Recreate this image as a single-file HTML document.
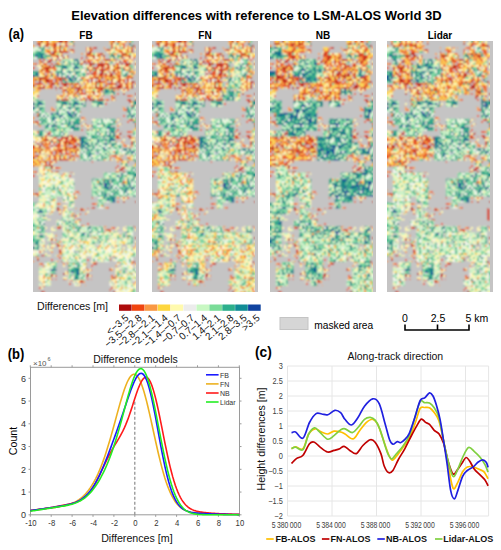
<!DOCTYPE html>
<html><head><meta charset="utf-8"><title>Elevation differences</title>
<style>html,body{margin:0;padding:0;background:#fff;width:501px;height:550px;overflow:hidden}svg{display:block}text{font-family:"Liberation Sans", sans-serif}</style>
</head><body><svg width="501" height="550" viewBox="0 0 501 550" font-family='"Liberation Sans", sans-serif'><text x="256.5" y="20" font-size="13" font-weight="bold" text-anchor="middle" fill="#000" >Elevation differences with reference to LSM-ALOS World 3D</text>
<text x="8.4" y="38.7" font-size="13.8" font-weight="bold" text-anchor="start" fill="#000" textLength="15.6" lengthAdjust="spacingAndGlyphs">(a)</text>
<text x="86.0" y="38.5" font-size="10" font-weight="bold" text-anchor="middle" fill="#000" >FB</text>
<text x="205.0" y="38.5" font-size="10" font-weight="bold" text-anchor="middle" fill="#000" >FN</text>
<text x="323.0" y="38.5" font-size="10" font-weight="bold" text-anchor="middle" fill="#000" >NB</text>
<text x="440.0" y="38.5" font-size="10" font-weight="bold" text-anchor="middle" fill="#000" >Lidar</text>
<defs><filter id="mb" x="0" y="0" width="1" height="1"><feConvolveMatrix order="3" kernelMatrix="1 2 1 2 4 2 1 2 1" divisor="16" edgeMode="duplicate"/><feConvolveMatrix order="3" kernelMatrix="1 2 1 2 4 2 1 2 1" divisor="16" edgeMode="duplicate"/></filter><pattern id="P0_112" width="36" height="36" patternUnits="userSpaceOnUse"><path d="M0 0h2v2h-2zM2 0h2v2h-2zM6 0h2v2h-2zM8 0h2v2h-2zM10 0h2v2h-2zM12 0h2v2h-2zM14 0h2v2h-2zM16 0h2v2h-2zM18 0h2v2h-2zM20 0h2v2h-2zM22 0h2v2h-2zM24 0h2v2h-2zM28 0h2v2h-2zM30 0h2v2h-2zM32 0h2v2h-2zM0 2h2v2h-2zM2 2h2v2h-2zM6 2h2v2h-2zM10 2h2v2h-2zM12 2h2v2h-2zM14 2h2v2h-2zM16 2h2v2h-2zM20 2h2v2h-2zM22 2h2v2h-2zM24 2h2v2h-2zM26 2h2v2h-2zM28 2h2v2h-2zM30 2h2v2h-2zM32 2h2v2h-2zM34 2h2v2h-2zM2 4h2v2h-2zM4 4h2v2h-2zM6 4h2v2h-2zM8 4h2v2h-2zM10 4h2v2h-2zM16 4h2v2h-2zM18 4h2v2h-2zM20 4h2v2h-2zM26 4h2v2h-2zM30 4h2v2h-2zM32 4h2v2h-2zM0 6h2v2h-2zM2 6h2v2h-2zM4 6h2v2h-2zM10 6h2v2h-2zM14 6h2v2h-2zM18 6h2v2h-2zM20 6h2v2h-2zM22 6h2v2h-2zM28 6h2v2h-2zM32 6h2v2h-2zM6 8h2v2h-2zM8 8h2v2h-2zM12 8h2v2h-2zM14 8h2v2h-2zM16 8h2v2h-2zM18 8h2v2h-2zM20 8h2v2h-2zM24 8h2v2h-2zM26 8h2v2h-2zM28 8h2v2h-2zM32 8h2v2h-2zM34 8h2v2h-2zM0 10h2v2h-2zM8 10h2v2h-2zM10 10h2v2h-2zM12 10h2v2h-2zM18 10h2v2h-2zM20 10h2v2h-2zM22 10h2v2h-2zM24 10h2v2h-2zM26 10h2v2h-2zM28 10h2v2h-2zM30 10h2v2h-2zM32 10h2v2h-2zM34 10h2v2h-2zM0 12h2v2h-2zM2 12h2v2h-2zM8 12h2v2h-2zM10 12h2v2h-2zM14 12h2v2h-2zM24 12h2v2h-2zM26 12h2v2h-2zM28 12h2v2h-2zM30 12h2v2h-2zM32 12h2v2h-2zM34 12h2v2h-2zM0 14h2v2h-2zM2 14h2v2h-2zM4 14h2v2h-2zM6 14h2v2h-2zM8 14h2v2h-2zM10 14h2v2h-2zM12 14h2v2h-2zM14 14h2v2h-2zM16 14h2v2h-2zM20 14h2v2h-2zM22 14h2v2h-2zM24 14h2v2h-2zM26 14h2v2h-2zM28 14h2v2h-2zM30 14h2v2h-2zM0 16h2v2h-2zM2 16h2v2h-2zM4 16h2v2h-2zM6 16h2v2h-2zM8 16h2v2h-2zM10 16h2v2h-2zM14 16h2v2h-2zM16 16h2v2h-2zM20 16h2v2h-2zM22 16h2v2h-2zM24 16h2v2h-2zM26 16h2v2h-2zM28 16h2v2h-2zM0 18h2v2h-2zM2 18h2v2h-2zM4 18h2v2h-2zM8 18h2v2h-2zM12 18h2v2h-2zM14 18h2v2h-2zM28 18h2v2h-2zM30 18h2v2h-2zM32 18h2v2h-2zM34 18h2v2h-2zM0 20h2v2h-2zM2 20h2v2h-2zM4 20h2v2h-2zM10 20h2v2h-2zM18 20h2v2h-2zM20 20h2v2h-2zM22 20h2v2h-2zM24 20h2v2h-2zM26 20h2v2h-2zM28 20h2v2h-2zM34 20h2v2h-2zM4 22h2v2h-2zM14 22h2v2h-2zM16 22h2v2h-2zM20 22h2v2h-2zM26 22h2v2h-2zM28 22h2v2h-2zM34 22h2v2h-2zM0 24h2v2h-2zM2 24h2v2h-2zM8 24h2v2h-2zM16 24h2v2h-2zM18 24h2v2h-2zM20 24h2v2h-2zM22 24h2v2h-2zM28 24h2v2h-2zM32 24h2v2h-2zM2 26h2v2h-2zM4 26h2v2h-2zM6 26h2v2h-2zM8 26h2v2h-2zM10 26h2v2h-2zM12 26h2v2h-2zM14 26h2v2h-2zM16 26h2v2h-2zM20 26h2v2h-2zM22 26h2v2h-2zM24 26h2v2h-2zM28 26h2v2h-2zM32 26h2v2h-2zM34 26h2v2h-2zM0 28h2v2h-2zM2 28h2v2h-2zM4 28h2v2h-2zM6 28h2v2h-2zM8 28h2v2h-2zM12 28h2v2h-2zM14 28h2v2h-2zM18 28h2v2h-2zM20 28h2v2h-2zM22 28h2v2h-2zM24 28h2v2h-2zM28 28h2v2h-2zM30 28h2v2h-2zM32 28h2v2h-2zM34 28h2v2h-2zM2 30h2v2h-2zM4 30h2v2h-2zM10 30h2v2h-2zM12 30h2v2h-2zM14 30h2v2h-2zM16 30h2v2h-2zM20 30h2v2h-2zM22 30h2v2h-2zM24 30h2v2h-2zM34 30h2v2h-2zM0 32h2v2h-2zM6 32h2v2h-2zM8 32h2v2h-2zM10 32h2v2h-2zM12 32h2v2h-2zM14 32h2v2h-2zM16 32h2v2h-2zM24 32h2v2h-2zM30 32h2v2h-2zM0 34h2v2h-2zM4 34h2v2h-2zM6 34h2v2h-2zM12 34h2v2h-2zM14 34h2v2h-2zM16 34h2v2h-2zM18 34h2v2h-2zM20 34h2v2h-2zM22 34h2v2h-2zM26 34h2v2h-2zM28 34h2v2h-2zM30 34h2v2h-2zM32 34h2v2h-2zM34 34h2v2h-2z" fill="#c5c4c4"/><path d="M4 0h2v2h-2zM0 4h2v2h-2zM14 4h2v2h-2zM24 4h2v2h-2zM6 6h2v2h-2zM16 6h2v2h-2zM30 6h2v2h-2zM34 6h2v2h-2zM0 8h2v2h-2zM10 8h2v2h-2zM6 12h2v2h-2zM12 12h2v2h-2zM34 16h2v2h-2zM26 18h2v2h-2zM6 20h2v2h-2zM0 22h2v2h-2zM6 22h2v2h-2zM32 22h2v2h-2zM14 24h2v2h-2zM26 24h2v2h-2zM16 28h2v2h-2zM18 30h2v2h-2zM28 30h2v2h-2zM18 32h2v2h-2zM26 32h2v2h-2zM28 32h2v2h-2zM24 34h2v2h-2z" fill="#f79e48"/><path d="M26 0h2v2h-2zM18 2h2v2h-2zM12 4h2v2h-2zM34 4h2v2h-2zM8 6h2v2h-2zM24 6h2v2h-2zM4 8h2v2h-2zM22 8h2v2h-2zM4 10h2v2h-2zM18 12h2v2h-2zM22 12h2v2h-2zM12 16h2v2h-2zM6 18h2v2h-2zM10 18h2v2h-2zM16 18h2v2h-2zM22 18h2v2h-2zM24 18h2v2h-2zM2 22h2v2h-2zM10 22h2v2h-2zM12 22h2v2h-2zM18 22h2v2h-2zM22 22h2v2h-2zM6 24h2v2h-2zM10 24h2v2h-2zM0 26h2v2h-2zM10 28h2v2h-2zM26 28h2v2h-2zM0 30h2v2h-2zM6 30h2v2h-2zM4 32h2v2h-2zM20 32h2v2h-2zM10 34h2v2h-2z" fill="#e85526"/><path d="M34 0h2v2h-2zM4 2h2v2h-2zM28 4h2v2h-2zM26 6h2v2h-2zM2 8h2v2h-2zM16 10h2v2h-2zM4 12h2v2h-2zM34 14h2v2h-2zM18 16h2v2h-2zM30 16h2v2h-2zM18 18h2v2h-2zM8 20h2v2h-2zM14 20h2v2h-2zM16 20h2v2h-2zM24 22h2v2h-2zM30 22h2v2h-2zM12 24h2v2h-2zM24 24h2v2h-2zM26 30h2v2h-2zM32 30h2v2h-2zM2 32h2v2h-2zM34 32h2v2h-2zM2 34h2v2h-2zM8 34h2v2h-2z" fill="#b9231e"/><path d="M8 2h2v2h-2zM22 4h2v2h-2zM12 6h2v2h-2zM30 8h2v2h-2zM2 10h2v2h-2zM6 10h2v2h-2zM14 10h2v2h-2zM16 12h2v2h-2zM20 12h2v2h-2zM18 14h2v2h-2zM32 14h2v2h-2zM32 16h2v2h-2zM20 18h2v2h-2zM12 20h2v2h-2zM30 20h2v2h-2zM32 20h2v2h-2zM8 22h2v2h-2zM4 24h2v2h-2zM30 24h2v2h-2zM34 24h2v2h-2zM18 26h2v2h-2zM26 26h2v2h-2zM30 26h2v2h-2zM8 30h2v2h-2zM30 30h2v2h-2zM22 32h2v2h-2zM32 32h2v2h-2z" fill="#fef6b6"/></pattern><pattern id="P0_113" width="36" height="36" patternUnits="userSpaceOnUse"><path d="M0 0h2v2h-2zM2 2h2v2h-2zM8 2h2v2h-2zM16 2h2v2h-2zM0 6h2v2h-2zM24 6h2v2h-2zM32 6h2v2h-2zM34 6h2v2h-2zM22 8h2v2h-2zM8 12h2v2h-2zM14 12h2v2h-2zM16 12h2v2h-2zM28 12h2v2h-2zM30 12h2v2h-2zM2 14h2v2h-2zM4 14h2v2h-2zM20 14h2v2h-2zM24 14h2v2h-2zM26 14h2v2h-2zM6 16h2v2h-2zM8 16h2v2h-2zM10 16h2v2h-2zM24 16h2v2h-2zM28 16h2v2h-2zM0 18h2v2h-2zM4 18h2v2h-2zM14 18h2v2h-2zM18 18h2v2h-2zM20 18h2v2h-2zM4 20h2v2h-2zM6 20h2v2h-2zM8 20h2v2h-2zM10 22h2v2h-2zM26 22h2v2h-2zM26 24h2v2h-2zM2 26h2v2h-2zM0 28h2v2h-2zM8 28h2v2h-2zM12 28h2v2h-2zM18 28h2v2h-2zM34 28h2v2h-2zM4 30h2v2h-2zM34 32h2v2h-2zM22 34h2v2h-2zM28 34h2v2h-2z" fill="#cdf2c8"/><path d="M2 0h2v2h-2zM4 0h2v2h-2zM12 0h2v2h-2zM14 0h2v2h-2zM16 0h2v2h-2zM20 0h2v2h-2zM22 0h2v2h-2zM24 0h2v2h-2zM30 0h2v2h-2zM32 0h2v2h-2zM0 2h2v2h-2zM4 2h2v2h-2zM6 2h2v2h-2zM10 2h2v2h-2zM12 2h2v2h-2zM20 2h2v2h-2zM24 2h2v2h-2zM28 2h2v2h-2zM30 2h2v2h-2zM32 2h2v2h-2zM0 4h2v2h-2zM2 4h2v2h-2zM4 4h2v2h-2zM6 4h2v2h-2zM8 4h2v2h-2zM10 4h2v2h-2zM12 4h2v2h-2zM14 4h2v2h-2zM16 4h2v2h-2zM18 4h2v2h-2zM22 4h2v2h-2zM24 4h2v2h-2zM26 4h2v2h-2zM28 4h2v2h-2zM30 4h2v2h-2zM32 4h2v2h-2zM34 4h2v2h-2zM2 6h2v2h-2zM4 6h2v2h-2zM6 6h2v2h-2zM10 6h2v2h-2zM14 6h2v2h-2zM16 6h2v2h-2zM20 6h2v2h-2zM22 6h2v2h-2zM28 6h2v2h-2zM0 8h2v2h-2zM2 8h2v2h-2zM4 8h2v2h-2zM6 8h2v2h-2zM8 8h2v2h-2zM12 8h2v2h-2zM14 8h2v2h-2zM16 8h2v2h-2zM24 8h2v2h-2zM26 8h2v2h-2zM28 8h2v2h-2zM30 8h2v2h-2zM32 8h2v2h-2zM34 8h2v2h-2zM0 10h2v2h-2zM6 10h2v2h-2zM8 10h2v2h-2zM12 10h2v2h-2zM14 10h2v2h-2zM16 10h2v2h-2zM18 10h2v2h-2zM20 10h2v2h-2zM22 10h2v2h-2zM24 10h2v2h-2zM26 10h2v2h-2zM28 10h2v2h-2zM30 10h2v2h-2zM32 10h2v2h-2zM34 10h2v2h-2zM0 12h2v2h-2zM2 12h2v2h-2zM4 12h2v2h-2zM6 12h2v2h-2zM10 12h2v2h-2zM20 12h2v2h-2zM22 12h2v2h-2zM26 12h2v2h-2zM32 12h2v2h-2zM8 14h2v2h-2zM10 14h2v2h-2zM12 14h2v2h-2zM28 14h2v2h-2zM30 14h2v2h-2zM32 14h2v2h-2zM34 14h2v2h-2zM0 16h2v2h-2zM4 16h2v2h-2zM12 16h2v2h-2zM14 16h2v2h-2zM20 16h2v2h-2zM22 16h2v2h-2zM26 16h2v2h-2zM30 16h2v2h-2zM32 16h2v2h-2zM34 16h2v2h-2zM2 18h2v2h-2zM8 18h2v2h-2zM10 18h2v2h-2zM12 18h2v2h-2zM22 18h2v2h-2zM24 18h2v2h-2zM26 18h2v2h-2zM30 18h2v2h-2zM32 18h2v2h-2zM34 18h2v2h-2zM0 20h2v2h-2zM2 20h2v2h-2zM10 20h2v2h-2zM12 20h2v2h-2zM14 20h2v2h-2zM16 20h2v2h-2zM18 20h2v2h-2zM22 20h2v2h-2zM28 20h2v2h-2zM30 20h2v2h-2zM0 22h2v2h-2zM2 22h2v2h-2zM4 22h2v2h-2zM8 22h2v2h-2zM12 22h2v2h-2zM14 22h2v2h-2zM18 22h2v2h-2zM22 22h2v2h-2zM28 22h2v2h-2zM32 22h2v2h-2zM34 22h2v2h-2zM0 24h2v2h-2zM2 24h2v2h-2zM4 24h2v2h-2zM6 24h2v2h-2zM8 24h2v2h-2zM10 24h2v2h-2zM12 24h2v2h-2zM16 24h2v2h-2zM22 24h2v2h-2zM30 24h2v2h-2zM32 24h2v2h-2zM34 24h2v2h-2zM4 26h2v2h-2zM6 26h2v2h-2zM8 26h2v2h-2zM10 26h2v2h-2zM12 26h2v2h-2zM16 26h2v2h-2zM20 26h2v2h-2zM22 26h2v2h-2zM24 26h2v2h-2zM26 26h2v2h-2zM28 26h2v2h-2zM6 28h2v2h-2zM10 28h2v2h-2zM14 28h2v2h-2zM20 28h2v2h-2zM22 28h2v2h-2zM26 28h2v2h-2zM28 28h2v2h-2zM30 28h2v2h-2zM32 28h2v2h-2zM2 30h2v2h-2zM6 30h2v2h-2zM8 30h2v2h-2zM10 30h2v2h-2zM12 30h2v2h-2zM14 30h2v2h-2zM16 30h2v2h-2zM20 30h2v2h-2zM22 30h2v2h-2zM28 30h2v2h-2zM30 30h2v2h-2zM32 30h2v2h-2zM34 30h2v2h-2zM0 32h2v2h-2zM2 32h2v2h-2zM4 32h2v2h-2zM6 32h2v2h-2zM8 32h2v2h-2zM14 32h2v2h-2zM16 32h2v2h-2zM18 32h2v2h-2zM20 32h2v2h-2zM22 32h2v2h-2zM24 32h2v2h-2zM26 32h2v2h-2zM30 32h2v2h-2zM32 32h2v2h-2zM2 34h2v2h-2zM4 34h2v2h-2zM6 34h2v2h-2zM8 34h2v2h-2zM10 34h2v2h-2zM18 34h2v2h-2zM20 34h2v2h-2zM26 34h2v2h-2zM30 34h2v2h-2zM32 34h2v2h-2z" fill="#c5c4c4"/><path d="M6 0h2v2h-2zM10 0h2v2h-2zM26 6h2v2h-2zM2 10h2v2h-2zM4 10h2v2h-2zM10 10h2v2h-2zM24 12h2v2h-2zM6 18h2v2h-2zM24 20h2v2h-2zM34 20h2v2h-2zM16 22h2v2h-2zM0 26h2v2h-2zM30 26h2v2h-2zM0 30h2v2h-2zM26 30h2v2h-2zM28 32h2v2h-2zM12 34h2v2h-2z" fill="#7dd4a2"/><path d="M8 0h2v2h-2zM18 0h2v2h-2zM28 0h2v2h-2zM18 2h2v2h-2zM22 2h2v2h-2zM26 2h2v2h-2zM20 4h2v2h-2zM12 6h2v2h-2zM18 6h2v2h-2zM30 6h2v2h-2zM10 8h2v2h-2zM18 8h2v2h-2zM20 8h2v2h-2zM12 12h2v2h-2zM18 12h2v2h-2zM34 12h2v2h-2zM6 14h2v2h-2zM14 14h2v2h-2zM16 14h2v2h-2zM18 14h2v2h-2zM2 16h2v2h-2zM16 16h2v2h-2zM18 16h2v2h-2zM16 18h2v2h-2zM28 18h2v2h-2zM32 20h2v2h-2zM20 22h2v2h-2zM14 24h2v2h-2zM18 24h2v2h-2zM20 24h2v2h-2zM14 26h2v2h-2zM34 26h2v2h-2zM16 28h2v2h-2zM12 32h2v2h-2zM0 34h2v2h-2zM14 34h2v2h-2zM16 34h2v2h-2z" fill="#fef6b6"/><path d="M26 0h2v2h-2zM34 0h2v2h-2zM14 2h2v2h-2zM34 2h2v2h-2zM8 6h2v2h-2zM0 14h2v2h-2zM22 14h2v2h-2zM20 20h2v2h-2zM26 20h2v2h-2zM6 22h2v2h-2zM24 22h2v2h-2zM30 22h2v2h-2zM24 24h2v2h-2zM28 24h2v2h-2zM18 26h2v2h-2zM32 26h2v2h-2zM2 28h2v2h-2zM4 28h2v2h-2zM24 28h2v2h-2zM18 30h2v2h-2zM24 30h2v2h-2zM10 32h2v2h-2zM24 34h2v2h-2zM34 34h2v2h-2z" fill="#f79e48"/></pattern><pattern id="P0_114" width="36" height="36" patternUnits="userSpaceOnUse"><path d="M0 0h2v2h-2zM2 0h2v2h-2zM16 6h2v2h-2zM30 10h2v2h-2zM32 10h2v2h-2zM18 12h2v2h-2zM12 16h2v2h-2zM16 16h2v2h-2zM2 20h2v2h-2zM8 20h2v2h-2zM4 22h2v2h-2zM14 22h2v2h-2zM16 22h2v2h-2zM0 24h2v2h-2zM8 28h2v2h-2zM26 28h2v2h-2zM28 30h2v2h-2zM16 32h2v2h-2zM26 32h2v2h-2zM28 32h2v2h-2zM20 34h2v2h-2z" fill="#fef6b6"/><path d="M4 0h2v2h-2zM16 0h2v2h-2zM34 0h2v2h-2zM32 2h2v2h-2zM0 4h2v2h-2zM8 4h2v2h-2zM26 4h2v2h-2zM12 6h2v2h-2zM26 6h2v2h-2zM2 8h2v2h-2zM10 8h2v2h-2zM20 8h2v2h-2zM22 8h2v2h-2zM26 8h2v2h-2zM28 8h2v2h-2zM34 8h2v2h-2zM20 10h2v2h-2zM24 10h2v2h-2zM6 12h2v2h-2zM12 12h2v2h-2zM28 12h2v2h-2zM34 12h2v2h-2zM4 14h2v2h-2zM20 14h2v2h-2zM24 14h2v2h-2zM32 14h2v2h-2zM34 14h2v2h-2zM8 16h2v2h-2zM10 18h2v2h-2zM12 18h2v2h-2zM14 18h2v2h-2zM26 20h2v2h-2zM34 20h2v2h-2zM8 22h2v2h-2zM18 22h2v2h-2zM28 22h2v2h-2zM32 22h2v2h-2zM8 24h2v2h-2zM34 26h2v2h-2zM10 28h2v2h-2zM22 28h2v2h-2zM30 28h2v2h-2zM6 30h2v2h-2zM22 30h2v2h-2zM30 30h2v2h-2zM0 32h2v2h-2zM2 32h2v2h-2zM8 32h2v2h-2zM12 32h2v2h-2zM10 34h2v2h-2z" fill="#c5c4c4"/><path d="M6 0h2v2h-2zM8 0h2v2h-2zM10 0h2v2h-2zM28 0h2v2h-2zM32 0h2v2h-2zM4 2h2v2h-2zM6 2h2v2h-2zM12 2h2v2h-2zM14 2h2v2h-2zM22 2h2v2h-2zM26 2h2v2h-2zM4 4h2v2h-2zM6 4h2v2h-2zM14 4h2v2h-2zM22 4h2v2h-2zM28 4h2v2h-2zM30 4h2v2h-2zM2 6h2v2h-2zM10 6h2v2h-2zM18 6h2v2h-2zM20 6h2v2h-2zM24 6h2v2h-2zM30 6h2v2h-2zM32 6h2v2h-2zM4 8h2v2h-2zM8 8h2v2h-2zM12 8h2v2h-2zM14 8h2v2h-2zM16 8h2v2h-2zM32 8h2v2h-2zM2 10h2v2h-2zM12 10h2v2h-2zM14 10h2v2h-2zM16 10h2v2h-2zM22 10h2v2h-2zM26 10h2v2h-2zM0 12h2v2h-2zM8 12h2v2h-2zM14 12h2v2h-2zM22 12h2v2h-2zM24 12h2v2h-2zM26 12h2v2h-2zM30 12h2v2h-2zM2 14h2v2h-2zM8 14h2v2h-2zM14 14h2v2h-2zM16 14h2v2h-2zM26 14h2v2h-2zM28 14h2v2h-2zM2 16h2v2h-2zM10 16h2v2h-2zM30 16h2v2h-2zM32 16h2v2h-2zM0 18h2v2h-2zM2 18h2v2h-2zM4 18h2v2h-2zM16 18h2v2h-2zM18 18h2v2h-2zM20 18h2v2h-2zM28 18h2v2h-2zM6 20h2v2h-2zM10 20h2v2h-2zM18 20h2v2h-2zM20 20h2v2h-2zM22 20h2v2h-2zM24 20h2v2h-2zM2 22h2v2h-2zM10 22h2v2h-2zM20 22h2v2h-2zM22 22h2v2h-2zM24 22h2v2h-2zM26 22h2v2h-2zM4 24h2v2h-2zM10 24h2v2h-2zM16 24h2v2h-2zM20 24h2v2h-2zM22 24h2v2h-2zM24 24h2v2h-2zM30 24h2v2h-2zM32 24h2v2h-2zM2 26h2v2h-2zM6 26h2v2h-2zM12 26h2v2h-2zM14 26h2v2h-2zM22 26h2v2h-2zM24 26h2v2h-2zM30 26h2v2h-2zM14 28h2v2h-2zM18 28h2v2h-2zM20 28h2v2h-2zM34 28h2v2h-2zM0 30h2v2h-2zM8 30h2v2h-2zM16 30h2v2h-2zM18 30h2v2h-2zM24 30h2v2h-2zM32 30h2v2h-2zM34 30h2v2h-2zM6 32h2v2h-2zM18 32h2v2h-2zM22 32h2v2h-2zM30 32h2v2h-2zM32 32h2v2h-2zM4 34h2v2h-2zM6 34h2v2h-2zM12 34h2v2h-2zM18 34h2v2h-2zM22 34h2v2h-2z" fill="#b9231e"/><path d="M12 0h2v2h-2zM24 0h2v2h-2zM26 0h2v2h-2zM2 2h2v2h-2zM16 2h2v2h-2zM20 2h2v2h-2zM28 2h2v2h-2zM30 2h2v2h-2zM2 4h2v2h-2zM12 4h2v2h-2zM16 4h2v2h-2zM20 4h2v2h-2zM32 4h2v2h-2zM34 4h2v2h-2zM8 6h2v2h-2zM14 6h2v2h-2zM28 6h2v2h-2zM34 6h2v2h-2zM6 8h2v2h-2zM18 8h2v2h-2zM30 8h2v2h-2zM6 10h2v2h-2zM8 10h2v2h-2zM10 10h2v2h-2zM18 10h2v2h-2zM28 10h2v2h-2zM34 10h2v2h-2zM2 12h2v2h-2zM4 12h2v2h-2zM10 12h2v2h-2zM16 12h2v2h-2zM0 14h2v2h-2zM12 14h2v2h-2zM30 14h2v2h-2zM0 16h2v2h-2zM4 16h2v2h-2zM6 16h2v2h-2zM22 16h2v2h-2zM24 16h2v2h-2zM26 16h2v2h-2zM6 18h2v2h-2zM8 18h2v2h-2zM22 18h2v2h-2zM26 18h2v2h-2zM30 18h2v2h-2zM14 20h2v2h-2zM30 20h2v2h-2zM32 20h2v2h-2zM0 22h2v2h-2zM12 22h2v2h-2zM34 22h2v2h-2zM2 24h2v2h-2zM18 24h2v2h-2zM34 24h2v2h-2zM4 26h2v2h-2zM10 26h2v2h-2zM16 26h2v2h-2zM18 26h2v2h-2zM28 26h2v2h-2zM32 26h2v2h-2zM0 28h2v2h-2zM4 28h2v2h-2zM6 28h2v2h-2zM12 28h2v2h-2zM24 28h2v2h-2zM28 28h2v2h-2zM32 28h2v2h-2zM2 30h2v2h-2zM12 30h2v2h-2zM14 30h2v2h-2zM20 30h2v2h-2zM26 30h2v2h-2zM4 32h2v2h-2zM10 32h2v2h-2zM24 32h2v2h-2zM34 32h2v2h-2zM0 34h2v2h-2zM2 34h2v2h-2zM26 34h2v2h-2zM30 34h2v2h-2zM32 34h2v2h-2z" fill="#e85526"/><path d="M14 0h2v2h-2zM20 0h2v2h-2zM0 2h2v2h-2zM8 2h2v2h-2zM10 2h2v2h-2zM18 2h2v2h-2zM24 2h2v2h-2zM34 2h2v2h-2zM18 4h2v2h-2zM24 4h2v2h-2zM0 6h2v2h-2zM0 8h2v2h-2zM4 10h2v2h-2zM6 14h2v2h-2zM22 14h2v2h-2zM20 16h2v2h-2zM32 18h2v2h-2zM34 18h2v2h-2zM4 20h2v2h-2zM12 20h2v2h-2zM28 20h2v2h-2zM6 22h2v2h-2zM30 22h2v2h-2zM12 24h2v2h-2zM14 24h2v2h-2zM26 24h2v2h-2zM28 24h2v2h-2zM0 26h2v2h-2zM20 26h2v2h-2zM26 26h2v2h-2zM2 28h2v2h-2zM4 30h2v2h-2zM10 30h2v2h-2zM14 32h2v2h-2zM14 34h2v2h-2zM24 34h2v2h-2zM28 34h2v2h-2zM34 34h2v2h-2z" fill="#f79e48"/><path d="M18 0h2v2h-2zM22 0h2v2h-2zM30 0h2v2h-2zM10 4h2v2h-2zM4 6h2v2h-2zM6 6h2v2h-2zM22 6h2v2h-2zM24 8h2v2h-2zM0 10h2v2h-2zM20 12h2v2h-2zM32 12h2v2h-2zM10 14h2v2h-2zM18 14h2v2h-2zM14 16h2v2h-2zM18 16h2v2h-2zM28 16h2v2h-2zM34 16h2v2h-2zM24 18h2v2h-2zM0 20h2v2h-2zM16 20h2v2h-2zM6 24h2v2h-2zM8 26h2v2h-2zM16 28h2v2h-2zM20 32h2v2h-2zM8 34h2v2h-2zM16 34h2v2h-2z" fill="#fdd558"/></pattern><pattern id="P0_111" width="36" height="36" patternUnits="userSpaceOnUse"><path d="M0 0h2v2h-2zM4 0h2v2h-2zM6 0h2v2h-2zM12 0h2v2h-2zM20 0h2v2h-2zM24 0h2v2h-2zM30 0h2v2h-2zM34 0h2v2h-2zM0 2h2v2h-2zM12 2h2v2h-2zM16 2h2v2h-2zM0 4h2v2h-2zM28 4h2v2h-2zM0 6h2v2h-2zM22 6h2v2h-2zM30 6h2v2h-2zM6 8h2v2h-2zM20 8h2v2h-2zM14 10h2v2h-2zM16 10h2v2h-2zM10 12h2v2h-2zM28 12h2v2h-2zM6 14h2v2h-2zM18 14h2v2h-2zM20 14h2v2h-2zM30 14h2v2h-2zM4 16h2v2h-2zM30 16h2v2h-2zM34 16h2v2h-2zM20 18h2v2h-2zM22 18h2v2h-2zM26 18h2v2h-2zM32 20h2v2h-2zM4 22h2v2h-2zM22 26h2v2h-2zM2 28h2v2h-2zM10 28h2v2h-2zM12 28h2v2h-2zM20 28h2v2h-2zM6 30h2v2h-2zM8 30h2v2h-2zM14 30h2v2h-2zM30 30h2v2h-2zM12 32h2v2h-2zM14 32h2v2h-2zM30 32h2v2h-2zM2 34h2v2h-2zM4 34h2v2h-2zM26 34h2v2h-2zM34 34h2v2h-2z" fill="#f79e48"/><path d="M2 0h2v2h-2zM10 0h2v2h-2zM4 2h2v2h-2zM12 6h2v2h-2zM24 6h2v2h-2zM32 6h2v2h-2zM4 8h2v2h-2zM14 8h2v2h-2zM32 8h2v2h-2zM0 10h2v2h-2zM2 10h2v2h-2zM12 10h2v2h-2zM24 10h2v2h-2zM2 12h2v2h-2zM4 12h2v2h-2zM8 12h2v2h-2zM22 12h2v2h-2zM34 12h2v2h-2zM0 14h2v2h-2zM4 14h2v2h-2zM2 16h2v2h-2zM6 16h2v2h-2zM30 18h2v2h-2zM24 20h2v2h-2zM28 20h2v2h-2zM8 22h2v2h-2zM14 22h2v2h-2zM2 24h2v2h-2zM10 24h2v2h-2zM4 26h2v2h-2zM8 26h2v2h-2zM6 28h2v2h-2zM34 30h2v2h-2zM8 32h2v2h-2zM10 34h2v2h-2zM20 34h2v2h-2zM30 34h2v2h-2z" fill="#fdd558"/><path d="M8 0h2v2h-2zM26 0h2v2h-2zM28 0h2v2h-2zM32 0h2v2h-2zM2 2h2v2h-2zM6 2h2v2h-2zM14 2h2v2h-2zM22 2h2v2h-2zM12 4h2v2h-2zM26 4h2v2h-2zM4 6h2v2h-2zM20 6h2v2h-2zM0 8h2v2h-2zM26 8h2v2h-2zM6 10h2v2h-2zM8 10h2v2h-2zM10 10h2v2h-2zM20 10h2v2h-2zM26 10h2v2h-2zM28 10h2v2h-2zM32 10h2v2h-2zM12 12h2v2h-2zM18 12h2v2h-2zM20 12h2v2h-2zM32 12h2v2h-2zM16 14h2v2h-2zM24 14h2v2h-2zM28 14h2v2h-2zM34 14h2v2h-2zM16 16h2v2h-2zM24 16h2v2h-2zM2 18h2v2h-2zM6 18h2v2h-2zM2 20h2v2h-2zM16 22h2v2h-2zM20 22h2v2h-2zM22 22h2v2h-2zM24 22h2v2h-2zM30 22h2v2h-2zM32 22h2v2h-2zM34 22h2v2h-2zM8 24h2v2h-2zM20 24h2v2h-2zM28 24h2v2h-2zM32 24h2v2h-2zM34 24h2v2h-2zM12 26h2v2h-2zM14 26h2v2h-2zM24 26h2v2h-2zM8 28h2v2h-2zM26 28h2v2h-2zM32 28h2v2h-2zM4 30h2v2h-2zM32 30h2v2h-2zM0 32h2v2h-2zM18 32h2v2h-2zM22 32h2v2h-2zM32 34h2v2h-2z" fill="#b9231e"/><path d="M14 0h2v2h-2zM22 0h2v2h-2zM18 2h2v2h-2zM32 2h2v2h-2zM6 4h2v2h-2zM14 4h2v2h-2zM18 4h2v2h-2zM22 4h2v2h-2zM32 4h2v2h-2zM34 4h2v2h-2zM2 6h2v2h-2zM6 6h2v2h-2zM8 6h2v2h-2zM16 6h2v2h-2zM26 6h2v2h-2zM10 8h2v2h-2zM16 8h2v2h-2zM22 8h2v2h-2zM30 8h2v2h-2zM4 10h2v2h-2zM22 10h2v2h-2zM30 10h2v2h-2zM34 10h2v2h-2zM0 12h2v2h-2zM6 12h2v2h-2zM16 12h2v2h-2zM30 12h2v2h-2zM2 14h2v2h-2zM12 14h2v2h-2zM22 14h2v2h-2zM0 16h2v2h-2zM10 16h2v2h-2zM12 16h2v2h-2zM14 16h2v2h-2zM0 18h2v2h-2zM4 18h2v2h-2zM8 18h2v2h-2zM18 18h2v2h-2zM28 18h2v2h-2zM34 18h2v2h-2zM4 20h2v2h-2zM6 20h2v2h-2zM14 20h2v2h-2zM18 20h2v2h-2zM20 20h2v2h-2zM10 22h2v2h-2zM12 22h2v2h-2zM28 22h2v2h-2zM12 24h2v2h-2zM30 24h2v2h-2zM10 26h2v2h-2zM18 26h2v2h-2zM20 26h2v2h-2zM26 26h2v2h-2zM28 26h2v2h-2zM32 26h2v2h-2zM34 26h2v2h-2zM16 28h2v2h-2zM22 28h2v2h-2zM30 28h2v2h-2zM34 28h2v2h-2zM12 30h2v2h-2zM16 30h2v2h-2zM20 30h2v2h-2zM24 30h2v2h-2zM26 30h2v2h-2zM10 32h2v2h-2zM24 32h2v2h-2zM26 32h2v2h-2zM32 32h2v2h-2zM0 34h2v2h-2zM12 34h2v2h-2zM14 34h2v2h-2zM16 34h2v2h-2zM24 34h2v2h-2z" fill="#e85526"/><path d="M16 0h2v2h-2zM18 0h2v2h-2zM8 2h2v2h-2zM10 2h2v2h-2zM28 2h2v2h-2zM30 2h2v2h-2zM8 4h2v2h-2zM16 4h2v2h-2zM24 4h2v2h-2zM18 6h2v2h-2zM8 8h2v2h-2zM18 8h2v2h-2zM24 8h2v2h-2zM28 8h2v2h-2zM26 12h2v2h-2zM10 14h2v2h-2zM26 14h2v2h-2zM8 16h2v2h-2zM20 16h2v2h-2zM22 16h2v2h-2zM28 16h2v2h-2zM32 16h2v2h-2zM10 18h2v2h-2zM12 18h2v2h-2zM16 18h2v2h-2zM24 18h2v2h-2zM8 20h2v2h-2zM12 20h2v2h-2zM26 20h2v2h-2zM0 22h2v2h-2zM6 22h2v2h-2zM0 24h2v2h-2zM4 24h2v2h-2zM6 24h2v2h-2zM14 24h2v2h-2zM16 24h2v2h-2zM2 26h2v2h-2zM16 26h2v2h-2zM30 26h2v2h-2zM14 28h2v2h-2zM18 28h2v2h-2zM28 28h2v2h-2zM0 30h2v2h-2zM10 30h2v2h-2zM28 30h2v2h-2zM2 32h2v2h-2zM4 32h2v2h-2zM6 32h2v2h-2zM6 34h2v2h-2zM8 34h2v2h-2zM22 34h2v2h-2zM28 34h2v2h-2z" fill="#fef6b6"/><path d="M20 2h2v2h-2zM26 2h2v2h-2zM34 2h2v2h-2zM2 4h2v2h-2zM4 4h2v2h-2zM10 4h2v2h-2zM20 4h2v2h-2zM30 4h2v2h-2zM10 6h2v2h-2zM14 6h2v2h-2zM34 6h2v2h-2zM2 8h2v2h-2zM12 8h2v2h-2zM34 8h2v2h-2zM18 10h2v2h-2zM14 12h2v2h-2zM8 14h2v2h-2zM14 14h2v2h-2zM32 14h2v2h-2zM18 16h2v2h-2zM32 18h2v2h-2zM0 20h2v2h-2zM10 20h2v2h-2zM16 20h2v2h-2zM22 20h2v2h-2zM30 20h2v2h-2zM18 22h2v2h-2zM26 22h2v2h-2zM18 24h2v2h-2zM24 24h2v2h-2zM26 24h2v2h-2zM0 28h2v2h-2zM2 30h2v2h-2zM22 30h2v2h-2zM16 32h2v2h-2zM20 32h2v2h-2zM28 32h2v2h-2zM34 32h2v2h-2z" fill="#c5c4c4"/><path d="M24 2h2v2h-2zM26 16h2v2h-2zM14 18h2v2h-2zM34 20h2v2h-2zM2 22h2v2h-2zM0 26h2v2h-2zM6 26h2v2h-2zM4 28h2v2h-2zM18 30h2v2h-2zM18 34h2v2h-2z" fill="#f6f6ee"/><path d="M28 6h2v2h-2zM24 12h2v2h-2zM22 24h2v2h-2zM24 28h2v2h-2z" fill="#7dd4a2"/></pattern><pattern id="P0_121" width="36" height="36" patternUnits="userSpaceOnUse"><path d="M0 0h2v2h-2zM10 0h2v2h-2zM22 4h2v2h-2zM28 4h2v2h-2zM12 14h2v2h-2zM10 16h2v2h-2zM18 18h2v2h-2zM26 18h2v2h-2zM6 20h2v2h-2zM30 20h2v2h-2zM34 20h2v2h-2zM6 22h2v2h-2zM0 24h2v2h-2zM10 24h2v2h-2zM28 26h2v2h-2zM10 34h2v2h-2zM30 34h2v2h-2z" fill="#cdf2c8"/><path d="M2 0h2v2h-2zM4 0h2v2h-2zM12 0h2v2h-2zM14 0h2v2h-2zM16 0h2v2h-2zM22 0h2v2h-2zM26 0h2v2h-2zM32 0h2v2h-2zM0 2h2v2h-2zM12 2h2v2h-2zM16 2h2v2h-2zM18 2h2v2h-2zM0 4h2v2h-2zM18 4h2v2h-2zM4 6h2v2h-2zM14 6h2v2h-2zM28 6h2v2h-2zM8 8h2v2h-2zM16 8h2v2h-2zM0 10h2v2h-2zM8 10h2v2h-2zM16 10h2v2h-2zM30 10h2v2h-2zM32 10h2v2h-2zM4 12h2v2h-2zM10 12h2v2h-2zM12 12h2v2h-2zM24 12h2v2h-2zM6 14h2v2h-2zM14 14h2v2h-2zM18 14h2v2h-2zM22 14h2v2h-2zM30 14h2v2h-2zM20 16h2v2h-2zM34 16h2v2h-2zM0 18h2v2h-2zM2 18h2v2h-2zM4 18h2v2h-2zM10 18h2v2h-2zM16 18h2v2h-2zM32 18h2v2h-2zM10 20h2v2h-2zM12 20h2v2h-2zM14 20h2v2h-2zM22 20h2v2h-2zM20 24h2v2h-2zM2 26h2v2h-2zM2 28h2v2h-2zM26 28h2v2h-2zM34 28h2v2h-2zM0 30h2v2h-2zM18 30h2v2h-2zM2 32h2v2h-2zM26 32h2v2h-2zM30 32h2v2h-2zM32 32h2v2h-2zM4 34h2v2h-2zM8 34h2v2h-2zM12 34h2v2h-2zM18 34h2v2h-2zM22 34h2v2h-2zM34 34h2v2h-2z" fill="#f79e48"/><path d="M6 0h2v2h-2zM18 0h2v2h-2zM20 0h2v2h-2zM24 0h2v2h-2zM2 2h2v2h-2zM10 2h2v2h-2zM20 2h2v2h-2zM24 2h2v2h-2zM30 2h2v2h-2zM34 2h2v2h-2zM4 4h2v2h-2zM10 4h2v2h-2zM16 4h2v2h-2zM34 4h2v2h-2zM0 6h2v2h-2zM6 6h2v2h-2zM16 6h2v2h-2zM18 6h2v2h-2zM22 6h2v2h-2zM34 6h2v2h-2zM0 8h2v2h-2zM6 8h2v2h-2zM14 8h2v2h-2zM20 8h2v2h-2zM24 8h2v2h-2zM30 8h2v2h-2zM32 8h2v2h-2zM4 10h2v2h-2zM12 10h2v2h-2zM18 10h2v2h-2zM22 10h2v2h-2zM24 10h2v2h-2zM28 10h2v2h-2zM2 12h2v2h-2zM8 12h2v2h-2zM20 12h2v2h-2zM28 12h2v2h-2zM0 14h2v2h-2zM2 14h2v2h-2zM4 14h2v2h-2zM10 14h2v2h-2zM16 14h2v2h-2zM20 14h2v2h-2zM28 14h2v2h-2zM32 14h2v2h-2zM34 14h2v2h-2zM0 16h2v2h-2zM6 16h2v2h-2zM8 18h2v2h-2zM0 20h2v2h-2zM4 20h2v2h-2zM8 20h2v2h-2zM16 20h2v2h-2zM20 20h2v2h-2zM24 20h2v2h-2zM26 20h2v2h-2zM28 20h2v2h-2zM0 22h2v2h-2zM8 22h2v2h-2zM10 22h2v2h-2zM28 22h2v2h-2zM32 22h2v2h-2zM34 22h2v2h-2zM8 24h2v2h-2zM12 24h2v2h-2zM14 24h2v2h-2zM16 24h2v2h-2zM22 24h2v2h-2zM24 24h2v2h-2zM26 24h2v2h-2zM30 24h2v2h-2zM34 24h2v2h-2zM0 26h2v2h-2zM4 26h2v2h-2zM12 26h2v2h-2zM14 26h2v2h-2zM16 26h2v2h-2zM30 26h2v2h-2zM34 26h2v2h-2zM30 28h2v2h-2zM10 30h2v2h-2zM20 30h2v2h-2zM22 30h2v2h-2zM24 30h2v2h-2zM26 30h2v2h-2zM10 32h2v2h-2zM14 32h2v2h-2zM22 32h2v2h-2zM24 32h2v2h-2z" fill="#fdd558"/><path d="M8 0h2v2h-2zM30 0h2v2h-2zM6 2h2v2h-2zM8 2h2v2h-2zM14 2h2v2h-2zM26 2h2v2h-2zM28 2h2v2h-2zM32 2h2v2h-2zM2 4h2v2h-2zM6 4h2v2h-2zM12 4h2v2h-2zM14 4h2v2h-2zM20 4h2v2h-2zM24 4h2v2h-2zM26 4h2v2h-2zM30 4h2v2h-2zM32 4h2v2h-2zM2 6h2v2h-2zM8 6h2v2h-2zM10 6h2v2h-2zM12 6h2v2h-2zM20 6h2v2h-2zM24 6h2v2h-2zM30 6h2v2h-2zM32 6h2v2h-2zM10 8h2v2h-2zM18 8h2v2h-2zM22 8h2v2h-2zM26 8h2v2h-2zM28 8h2v2h-2zM2 10h2v2h-2zM6 10h2v2h-2zM26 10h2v2h-2zM34 10h2v2h-2zM6 12h2v2h-2zM14 12h2v2h-2zM16 12h2v2h-2zM18 12h2v2h-2zM22 12h2v2h-2zM30 12h2v2h-2zM32 12h2v2h-2zM34 12h2v2h-2zM8 14h2v2h-2zM26 14h2v2h-2zM2 16h2v2h-2zM4 16h2v2h-2zM14 16h2v2h-2zM18 16h2v2h-2zM22 16h2v2h-2zM24 16h2v2h-2zM32 16h2v2h-2zM6 18h2v2h-2zM14 18h2v2h-2zM20 18h2v2h-2zM22 18h2v2h-2zM24 18h2v2h-2zM28 18h2v2h-2zM30 18h2v2h-2zM34 18h2v2h-2zM2 20h2v2h-2zM2 22h2v2h-2zM4 22h2v2h-2zM16 22h2v2h-2zM18 22h2v2h-2zM22 22h2v2h-2zM24 22h2v2h-2zM4 24h2v2h-2zM6 24h2v2h-2zM18 24h2v2h-2zM28 24h2v2h-2zM32 24h2v2h-2zM8 26h2v2h-2zM10 26h2v2h-2zM18 26h2v2h-2zM20 26h2v2h-2zM22 26h2v2h-2zM26 26h2v2h-2zM6 28h2v2h-2zM8 28h2v2h-2zM10 28h2v2h-2zM14 28h2v2h-2zM16 28h2v2h-2zM18 28h2v2h-2zM20 28h2v2h-2zM22 28h2v2h-2zM24 28h2v2h-2zM28 28h2v2h-2zM32 28h2v2h-2zM4 30h2v2h-2zM8 30h2v2h-2zM12 30h2v2h-2zM14 30h2v2h-2zM16 30h2v2h-2zM28 30h2v2h-2zM34 30h2v2h-2zM4 32h2v2h-2zM6 32h2v2h-2zM16 32h2v2h-2zM28 32h2v2h-2zM2 34h2v2h-2zM16 34h2v2h-2zM20 34h2v2h-2zM26 34h2v2h-2zM28 34h2v2h-2zM32 34h2v2h-2z" fill="#fef6b6"/><path d="M28 0h2v2h-2zM34 0h2v2h-2zM4 2h2v2h-2zM8 4h2v2h-2zM26 6h2v2h-2zM2 8h2v2h-2zM12 8h2v2h-2zM34 8h2v2h-2zM10 10h2v2h-2zM0 12h2v2h-2zM26 12h2v2h-2zM8 16h2v2h-2zM16 16h2v2h-2zM30 16h2v2h-2zM12 18h2v2h-2zM12 22h2v2h-2zM26 22h2v2h-2zM30 22h2v2h-2zM6 26h2v2h-2zM4 28h2v2h-2zM12 28h2v2h-2zM6 30h2v2h-2zM30 30h2v2h-2zM8 32h2v2h-2zM18 32h2v2h-2zM20 32h2v2h-2zM6 34h2v2h-2z" fill="#c5c4c4"/><path d="M22 2h2v2h-2zM4 8h2v2h-2zM14 10h2v2h-2zM20 10h2v2h-2zM24 14h2v2h-2zM12 16h2v2h-2zM26 16h2v2h-2zM28 16h2v2h-2zM18 20h2v2h-2zM32 20h2v2h-2zM14 22h2v2h-2zM20 22h2v2h-2zM2 24h2v2h-2zM24 26h2v2h-2zM32 26h2v2h-2zM0 28h2v2h-2zM2 30h2v2h-2zM32 30h2v2h-2zM0 32h2v2h-2zM12 32h2v2h-2zM34 32h2v2h-2zM0 34h2v2h-2zM14 34h2v2h-2zM24 34h2v2h-2z" fill="#e85526"/></pattern><pattern id="P0_119" width="36" height="36" patternUnits="userSpaceOnUse"><path d="M0 0h2v2h-2zM18 0h2v2h-2zM2 2h2v2h-2zM6 2h2v2h-2zM14 2h2v2h-2zM16 2h2v2h-2zM28 2h2v2h-2zM6 4h2v2h-2zM12 4h2v2h-2zM24 4h2v2h-2zM2 6h2v2h-2zM16 6h2v2h-2zM32 6h2v2h-2zM8 8h2v2h-2zM10 8h2v2h-2zM32 8h2v2h-2zM6 10h2v2h-2zM18 10h2v2h-2zM34 10h2v2h-2zM4 12h2v2h-2zM20 12h2v2h-2zM12 14h2v2h-2zM24 14h2v2h-2zM34 14h2v2h-2zM0 16h2v2h-2zM4 16h2v2h-2zM0 18h2v2h-2zM12 18h2v2h-2zM16 18h2v2h-2zM0 20h2v2h-2zM30 20h2v2h-2zM4 22h2v2h-2zM14 22h2v2h-2zM12 24h2v2h-2zM32 26h2v2h-2zM12 28h2v2h-2zM20 28h2v2h-2zM26 28h2v2h-2zM34 30h2v2h-2zM26 34h2v2h-2zM28 34h2v2h-2z" fill="#7dd4a2"/><path d="M2 0h2v2h-2zM12 0h2v2h-2zM20 0h2v2h-2zM26 0h2v2h-2zM10 2h2v2h-2zM22 2h2v2h-2zM26 2h2v2h-2zM0 4h2v2h-2zM2 4h2v2h-2zM10 4h2v2h-2zM22 4h2v2h-2zM28 4h2v2h-2zM4 6h2v2h-2zM10 6h2v2h-2zM12 6h2v2h-2zM22 6h2v2h-2zM24 6h2v2h-2zM34 6h2v2h-2zM2 8h2v2h-2zM18 8h2v2h-2zM20 8h2v2h-2zM26 8h2v2h-2zM28 8h2v2h-2zM14 10h2v2h-2zM0 12h2v2h-2zM24 12h2v2h-2zM30 12h2v2h-2zM32 12h2v2h-2zM28 16h2v2h-2zM32 16h2v2h-2zM34 16h2v2h-2zM8 18h2v2h-2zM18 18h2v2h-2zM4 20h2v2h-2zM0 22h2v2h-2zM12 22h2v2h-2zM28 22h2v2h-2zM4 26h2v2h-2zM12 26h2v2h-2zM20 26h2v2h-2zM2 28h2v2h-2zM4 28h2v2h-2zM22 28h2v2h-2zM24 28h2v2h-2zM32 28h2v2h-2zM0 30h2v2h-2zM4 30h2v2h-2zM26 30h2v2h-2zM10 32h2v2h-2zM12 32h2v2h-2zM18 32h2v2h-2zM22 32h2v2h-2zM14 34h2v2h-2zM20 34h2v2h-2zM32 34h2v2h-2z" fill="#f6f6ee"/><path d="M4 0h2v2h-2zM24 0h2v2h-2zM32 0h2v2h-2zM0 2h2v2h-2zM4 2h2v2h-2zM12 2h2v2h-2zM18 2h2v2h-2zM20 2h2v2h-2zM30 2h2v2h-2zM4 4h2v2h-2zM14 4h2v2h-2zM16 4h2v2h-2zM20 4h2v2h-2zM30 4h2v2h-2zM34 4h2v2h-2zM0 6h2v2h-2zM18 6h2v2h-2zM28 6h2v2h-2zM12 8h2v2h-2zM22 8h2v2h-2zM2 10h2v2h-2zM4 10h2v2h-2zM16 10h2v2h-2zM20 10h2v2h-2zM22 10h2v2h-2zM30 10h2v2h-2zM6 12h2v2h-2zM8 12h2v2h-2zM18 12h2v2h-2zM22 12h2v2h-2zM26 12h2v2h-2zM16 14h2v2h-2zM26 14h2v2h-2zM6 16h2v2h-2zM8 16h2v2h-2zM22 16h2v2h-2zM14 18h2v2h-2zM22 18h2v2h-2zM28 18h2v2h-2zM22 20h2v2h-2zM32 20h2v2h-2zM34 20h2v2h-2zM2 22h2v2h-2zM20 22h2v2h-2zM22 22h2v2h-2zM26 22h2v2h-2zM30 22h2v2h-2zM34 22h2v2h-2zM0 24h2v2h-2zM16 24h2v2h-2zM18 24h2v2h-2zM24 24h2v2h-2zM34 24h2v2h-2zM6 26h2v2h-2zM14 26h2v2h-2zM22 26h2v2h-2zM26 26h2v2h-2zM14 28h2v2h-2zM16 28h2v2h-2zM34 28h2v2h-2zM6 30h2v2h-2zM12 30h2v2h-2zM18 30h2v2h-2zM22 30h2v2h-2zM28 30h2v2h-2zM32 30h2v2h-2zM2 32h2v2h-2zM4 32h2v2h-2zM6 32h2v2h-2zM16 32h2v2h-2zM20 32h2v2h-2zM30 32h2v2h-2zM32 32h2v2h-2zM34 32h2v2h-2zM0 34h2v2h-2zM30 34h2v2h-2z" fill="#cdf2c8"/><path d="M6 0h2v2h-2zM26 4h2v2h-2zM26 6h2v2h-2zM4 8h2v2h-2zM34 8h2v2h-2zM20 14h2v2h-2zM24 16h2v2h-2zM26 16h2v2h-2zM10 18h2v2h-2zM10 20h2v2h-2zM14 20h2v2h-2zM26 20h2v2h-2zM2 24h2v2h-2zM10 24h2v2h-2zM30 24h2v2h-2zM0 26h2v2h-2zM28 26h2v2h-2zM16 30h2v2h-2z" fill="#f79e48"/><path d="M8 0h2v2h-2zM14 0h2v2h-2zM16 0h2v2h-2zM22 0h2v2h-2zM28 0h2v2h-2zM34 0h2v2h-2zM8 2h2v2h-2zM32 2h2v2h-2zM32 4h2v2h-2zM8 6h2v2h-2zM30 6h2v2h-2zM0 8h2v2h-2zM6 8h2v2h-2zM14 8h2v2h-2zM16 8h2v2h-2zM24 8h2v2h-2zM30 8h2v2h-2zM8 10h2v2h-2zM10 10h2v2h-2zM12 10h2v2h-2zM24 10h2v2h-2zM26 10h2v2h-2zM32 10h2v2h-2zM2 12h2v2h-2zM10 12h2v2h-2zM12 12h2v2h-2zM0 14h2v2h-2zM2 14h2v2h-2zM4 14h2v2h-2zM6 14h2v2h-2zM8 14h2v2h-2zM10 14h2v2h-2zM22 14h2v2h-2zM28 14h2v2h-2zM32 14h2v2h-2zM10 16h2v2h-2zM16 16h2v2h-2zM18 16h2v2h-2zM20 16h2v2h-2zM30 16h2v2h-2zM4 18h2v2h-2zM6 18h2v2h-2zM20 18h2v2h-2zM24 18h2v2h-2zM26 18h2v2h-2zM30 18h2v2h-2zM32 18h2v2h-2zM34 18h2v2h-2zM2 20h2v2h-2zM6 20h2v2h-2zM8 20h2v2h-2zM12 20h2v2h-2zM20 20h2v2h-2zM24 20h2v2h-2zM6 22h2v2h-2zM8 22h2v2h-2zM10 22h2v2h-2zM16 22h2v2h-2zM24 22h2v2h-2zM32 22h2v2h-2zM4 24h2v2h-2zM8 24h2v2h-2zM14 24h2v2h-2zM20 24h2v2h-2zM22 24h2v2h-2zM32 24h2v2h-2zM2 26h2v2h-2zM10 26h2v2h-2zM16 26h2v2h-2zM18 26h2v2h-2zM24 26h2v2h-2zM30 26h2v2h-2zM34 26h2v2h-2zM0 28h2v2h-2zM6 28h2v2h-2zM8 28h2v2h-2zM10 28h2v2h-2zM18 28h2v2h-2zM28 28h2v2h-2zM30 28h2v2h-2zM2 30h2v2h-2zM14 30h2v2h-2zM24 30h2v2h-2zM30 30h2v2h-2zM0 32h2v2h-2zM8 32h2v2h-2zM24 32h2v2h-2zM2 34h2v2h-2zM6 34h2v2h-2zM8 34h2v2h-2zM10 34h2v2h-2zM12 34h2v2h-2zM16 34h2v2h-2zM18 34h2v2h-2zM22 34h2v2h-2zM24 34h2v2h-2zM34 34h2v2h-2z" fill="#fef6b6"/><path d="M10 0h2v2h-2zM24 2h2v2h-2zM28 12h2v2h-2zM34 12h2v2h-2zM18 14h2v2h-2zM30 14h2v2h-2zM2 16h2v2h-2zM12 16h2v2h-2zM28 32h2v2h-2zM4 34h2v2h-2z" fill="#30a88a"/><path d="M30 0h2v2h-2zM18 4h2v2h-2zM6 6h2v2h-2zM14 6h2v2h-2zM20 6h2v2h-2zM0 10h2v2h-2zM16 12h2v2h-2zM14 14h2v2h-2zM16 20h2v2h-2zM18 20h2v2h-2zM28 20h2v2h-2zM18 22h2v2h-2zM8 30h2v2h-2zM10 30h2v2h-2zM20 30h2v2h-2zM14 32h2v2h-2zM26 32h2v2h-2z" fill="#fdd558"/><path d="M34 2h2v2h-2zM8 4h2v2h-2zM28 10h2v2h-2zM14 12h2v2h-2zM14 16h2v2h-2zM2 18h2v2h-2zM6 24h2v2h-2zM26 24h2v2h-2zM28 24h2v2h-2zM8 26h2v2h-2z" fill="#c5c4c4"/></pattern><pattern id="P0_109" width="36" height="36" patternUnits="userSpaceOnUse"><path d="M0 0h2v2h-2zM22 0h2v2h-2zM34 0h2v2h-2zM10 2h2v2h-2zM22 2h2v2h-2zM26 2h2v2h-2zM0 4h2v2h-2zM2 4h2v2h-2zM24 4h2v2h-2zM28 4h2v2h-2zM34 4h2v2h-2zM0 6h2v2h-2zM14 6h2v2h-2zM24 6h2v2h-2zM0 8h2v2h-2zM28 10h2v2h-2zM2 12h2v2h-2zM12 12h2v2h-2zM28 12h2v2h-2zM24 14h2v2h-2zM28 14h2v2h-2zM2 16h2v2h-2zM10 16h2v2h-2zM16 18h2v2h-2zM24 18h2v2h-2zM30 18h2v2h-2zM4 20h2v2h-2zM10 20h2v2h-2zM26 20h2v2h-2zM6 22h2v2h-2zM8 22h2v2h-2zM16 22h2v2h-2zM28 22h2v2h-2zM0 24h2v2h-2zM6 24h2v2h-2zM8 24h2v2h-2zM30 24h2v2h-2zM30 26h2v2h-2zM2 30h2v2h-2zM14 30h2v2h-2zM18 30h2v2h-2zM28 30h2v2h-2zM34 30h2v2h-2zM6 32h2v2h-2zM10 32h2v2h-2zM22 32h2v2h-2zM0 34h2v2h-2z" fill="#c5c4c4"/><path d="M2 0h2v2h-2zM28 0h2v2h-2zM12 2h2v2h-2zM26 4h2v2h-2zM2 10h2v2h-2zM6 12h2v2h-2zM22 12h2v2h-2zM30 12h2v2h-2zM12 14h2v2h-2zM14 14h2v2h-2zM16 14h2v2h-2zM20 14h2v2h-2zM22 14h2v2h-2zM32 14h2v2h-2zM8 16h2v2h-2zM20 16h2v2h-2zM32 16h2v2h-2zM6 20h2v2h-2zM2 26h2v2h-2zM4 28h2v2h-2zM24 28h2v2h-2zM28 28h2v2h-2zM16 32h2v2h-2zM26 32h2v2h-2z" fill="#30a88a"/><path d="M4 0h2v2h-2zM6 0h2v2h-2zM14 0h2v2h-2zM18 0h2v2h-2zM24 0h2v2h-2zM32 2h2v2h-2zM14 4h2v2h-2zM20 4h2v2h-2zM22 4h2v2h-2zM2 6h2v2h-2zM32 6h2v2h-2zM10 8h2v2h-2zM12 8h2v2h-2zM14 8h2v2h-2zM24 8h2v2h-2zM24 10h2v2h-2zM8 12h2v2h-2zM10 12h2v2h-2zM16 12h2v2h-2zM24 12h2v2h-2zM32 12h2v2h-2zM26 14h2v2h-2zM30 14h2v2h-2zM8 18h2v2h-2zM14 18h2v2h-2zM32 18h2v2h-2zM34 18h2v2h-2zM32 20h2v2h-2zM34 22h2v2h-2zM12 24h2v2h-2zM34 24h2v2h-2zM8 26h2v2h-2zM0 28h2v2h-2zM2 28h2v2h-2zM6 28h2v2h-2zM8 28h2v2h-2zM20 28h2v2h-2zM22 28h2v2h-2zM0 30h2v2h-2zM12 30h2v2h-2zM26 30h2v2h-2zM6 34h2v2h-2zM14 34h2v2h-2zM16 34h2v2h-2zM30 34h2v2h-2z" fill="#f79e48"/><path d="M8 0h2v2h-2zM10 0h2v2h-2zM16 0h2v2h-2zM2 2h2v2h-2zM6 2h2v2h-2zM20 2h2v2h-2zM34 2h2v2h-2zM6 4h2v2h-2zM12 4h2v2h-2zM16 4h2v2h-2zM18 4h2v2h-2zM12 6h2v2h-2zM20 6h2v2h-2zM22 6h2v2h-2zM2 8h2v2h-2zM6 8h2v2h-2zM8 8h2v2h-2zM18 8h2v2h-2zM26 8h2v2h-2zM4 10h2v2h-2zM6 10h2v2h-2zM10 10h2v2h-2zM18 10h2v2h-2zM32 10h2v2h-2zM34 10h2v2h-2zM14 12h2v2h-2zM20 12h2v2h-2zM10 14h2v2h-2zM18 14h2v2h-2zM0 16h2v2h-2zM6 16h2v2h-2zM16 16h2v2h-2zM18 16h2v2h-2zM26 16h2v2h-2zM0 18h2v2h-2zM2 18h2v2h-2zM28 18h2v2h-2zM2 20h2v2h-2zM8 20h2v2h-2zM12 20h2v2h-2zM14 20h2v2h-2zM30 20h2v2h-2zM0 22h2v2h-2zM10 22h2v2h-2zM12 22h2v2h-2zM20 22h2v2h-2zM32 22h2v2h-2zM10 24h2v2h-2zM16 24h2v2h-2zM18 24h2v2h-2zM0 26h2v2h-2zM20 26h2v2h-2zM22 26h2v2h-2zM28 26h2v2h-2zM34 26h2v2h-2zM12 28h2v2h-2zM8 30h2v2h-2zM20 30h2v2h-2zM8 32h2v2h-2zM24 32h2v2h-2zM8 34h2v2h-2zM12 34h2v2h-2z" fill="#fef6b6"/><path d="M12 0h2v2h-2zM30 0h2v2h-2zM16 2h2v2h-2zM4 4h2v2h-2zM6 6h2v2h-2zM10 6h2v2h-2zM18 6h2v2h-2zM4 8h2v2h-2zM22 8h2v2h-2zM0 10h2v2h-2zM14 10h2v2h-2zM16 10h2v2h-2zM30 10h2v2h-2zM26 12h2v2h-2zM4 18h2v2h-2zM26 18h2v2h-2zM24 22h2v2h-2zM20 24h2v2h-2zM22 24h2v2h-2zM18 26h2v2h-2zM24 26h2v2h-2zM10 28h2v2h-2zM32 28h2v2h-2zM34 28h2v2h-2zM24 30h2v2h-2zM12 32h2v2h-2zM18 32h2v2h-2zM28 32h2v2h-2zM30 32h2v2h-2zM34 32h2v2h-2zM22 34h2v2h-2zM24 34h2v2h-2zM28 34h2v2h-2z" fill="#e85526"/><path d="M20 0h2v2h-2zM26 0h2v2h-2zM8 4h2v2h-2zM30 4h2v2h-2zM4 6h2v2h-2zM8 6h2v2h-2zM16 6h2v2h-2zM30 6h2v2h-2zM34 6h2v2h-2zM30 8h2v2h-2zM32 8h2v2h-2zM34 8h2v2h-2zM8 10h2v2h-2zM22 10h2v2h-2zM2 14h2v2h-2zM4 14h2v2h-2zM34 14h2v2h-2zM4 16h2v2h-2zM12 16h2v2h-2zM10 18h2v2h-2zM12 18h2v2h-2zM0 20h2v2h-2zM16 20h2v2h-2zM22 20h2v2h-2zM28 20h2v2h-2zM2 22h2v2h-2zM4 22h2v2h-2zM14 22h2v2h-2zM2 24h2v2h-2zM24 24h2v2h-2zM26 24h2v2h-2zM32 24h2v2h-2zM6 26h2v2h-2zM14 26h2v2h-2zM16 26h2v2h-2zM26 26h2v2h-2zM32 26h2v2h-2zM16 28h2v2h-2zM4 30h2v2h-2zM16 30h2v2h-2zM22 30h2v2h-2zM4 32h2v2h-2zM4 34h2v2h-2zM32 34h2v2h-2z" fill="#7dd4a2"/><path d="M32 0h2v2h-2zM4 2h2v2h-2zM24 2h2v2h-2zM28 2h2v2h-2zM30 2h2v2h-2zM32 4h2v2h-2zM28 8h2v2h-2zM6 14h2v2h-2zM8 14h2v2h-2zM34 16h2v2h-2zM20 18h2v2h-2zM22 18h2v2h-2zM22 22h2v2h-2zM30 22h2v2h-2zM4 24h2v2h-2zM12 26h2v2h-2zM14 28h2v2h-2zM18 28h2v2h-2zM30 30h2v2h-2zM0 32h2v2h-2zM18 34h2v2h-2z" fill="#168087"/><path d="M0 2h2v2h-2zM8 2h2v2h-2zM14 2h2v2h-2zM18 2h2v2h-2zM10 4h2v2h-2zM26 6h2v2h-2zM28 6h2v2h-2zM16 8h2v2h-2zM20 8h2v2h-2zM12 10h2v2h-2zM20 10h2v2h-2zM26 10h2v2h-2zM0 12h2v2h-2zM4 12h2v2h-2zM18 12h2v2h-2zM34 12h2v2h-2zM0 14h2v2h-2zM14 16h2v2h-2zM22 16h2v2h-2zM24 16h2v2h-2zM28 16h2v2h-2zM30 16h2v2h-2zM6 18h2v2h-2zM18 18h2v2h-2zM18 20h2v2h-2zM20 20h2v2h-2zM24 20h2v2h-2zM34 20h2v2h-2zM18 22h2v2h-2zM26 22h2v2h-2zM14 24h2v2h-2zM28 24h2v2h-2zM4 26h2v2h-2zM10 26h2v2h-2zM26 28h2v2h-2zM30 28h2v2h-2zM6 30h2v2h-2zM10 30h2v2h-2zM32 30h2v2h-2zM2 32h2v2h-2zM14 32h2v2h-2zM20 32h2v2h-2zM32 32h2v2h-2zM2 34h2v2h-2zM10 34h2v2h-2zM20 34h2v2h-2zM26 34h2v2h-2zM34 34h2v2h-2z" fill="#fdd558"/></pattern><pattern id="P0_108" width="36" height="36" patternUnits="userSpaceOnUse"><path d="M0 0h2v2h-2zM4 0h2v2h-2zM6 0h2v2h-2zM10 0h2v2h-2zM18 0h2v2h-2zM28 0h2v2h-2zM34 0h2v2h-2zM2 2h2v2h-2zM6 2h2v2h-2zM14 2h2v2h-2zM18 2h2v2h-2zM22 2h2v2h-2zM28 2h2v2h-2zM6 4h2v2h-2zM8 4h2v2h-2zM16 4h2v2h-2zM24 4h2v2h-2zM26 4h2v2h-2zM30 4h2v2h-2zM32 4h2v2h-2zM0 6h2v2h-2zM12 6h2v2h-2zM14 6h2v2h-2zM16 6h2v2h-2zM30 6h2v2h-2zM2 8h2v2h-2zM4 8h2v2h-2zM12 8h2v2h-2zM14 8h2v2h-2zM16 8h2v2h-2zM18 8h2v2h-2zM24 8h2v2h-2zM30 8h2v2h-2zM2 10h2v2h-2zM10 10h2v2h-2zM16 10h2v2h-2zM18 10h2v2h-2zM24 10h2v2h-2zM26 10h2v2h-2zM28 10h2v2h-2zM32 10h2v2h-2zM2 12h2v2h-2zM12 12h2v2h-2zM14 12h2v2h-2zM32 12h2v2h-2zM6 14h2v2h-2zM10 14h2v2h-2zM16 14h2v2h-2zM26 14h2v2h-2zM28 14h2v2h-2zM34 14h2v2h-2zM2 16h2v2h-2zM8 16h2v2h-2zM10 16h2v2h-2zM20 16h2v2h-2zM24 16h2v2h-2zM0 18h2v2h-2zM12 18h2v2h-2zM14 18h2v2h-2zM18 18h2v2h-2zM20 18h2v2h-2zM22 18h2v2h-2zM24 18h2v2h-2zM30 18h2v2h-2zM2 20h2v2h-2zM4 20h2v2h-2zM6 20h2v2h-2zM12 20h2v2h-2zM20 20h2v2h-2zM26 20h2v2h-2zM30 20h2v2h-2zM6 22h2v2h-2zM8 22h2v2h-2zM10 22h2v2h-2zM12 22h2v2h-2zM18 22h2v2h-2zM20 22h2v2h-2zM28 22h2v2h-2zM2 24h2v2h-2zM16 24h2v2h-2zM18 24h2v2h-2zM0 26h2v2h-2zM2 26h2v2h-2zM6 26h2v2h-2zM10 26h2v2h-2zM16 26h2v2h-2zM18 26h2v2h-2zM22 26h2v2h-2zM26 26h2v2h-2zM0 28h2v2h-2zM18 28h2v2h-2zM20 28h2v2h-2zM28 28h2v2h-2zM30 28h2v2h-2zM14 30h2v2h-2zM20 30h2v2h-2zM30 30h2v2h-2zM0 32h2v2h-2zM2 32h2v2h-2zM8 32h2v2h-2zM24 32h2v2h-2zM26 32h2v2h-2zM32 32h2v2h-2zM0 34h2v2h-2zM2 34h2v2h-2zM6 34h2v2h-2zM12 34h2v2h-2zM16 34h2v2h-2zM22 34h2v2h-2zM26 34h2v2h-2z" fill="#cdf2c8"/><path d="M2 0h2v2h-2zM22 0h2v2h-2zM4 2h2v2h-2zM30 2h2v2h-2zM14 4h2v2h-2zM34 4h2v2h-2zM6 6h2v2h-2zM18 6h2v2h-2zM20 6h2v2h-2zM28 6h2v2h-2zM8 8h2v2h-2zM10 8h2v2h-2zM0 10h2v2h-2zM6 10h2v2h-2zM14 10h2v2h-2zM0 12h2v2h-2zM4 12h2v2h-2zM8 12h2v2h-2zM22 12h2v2h-2zM24 12h2v2h-2zM34 12h2v2h-2zM8 14h2v2h-2zM12 14h2v2h-2zM4 16h2v2h-2zM6 16h2v2h-2zM34 16h2v2h-2zM2 18h2v2h-2zM8 18h2v2h-2zM26 18h2v2h-2zM10 20h2v2h-2zM14 20h2v2h-2zM14 22h2v2h-2zM34 22h2v2h-2zM26 24h2v2h-2zM8 26h2v2h-2zM24 26h2v2h-2zM2 28h2v2h-2zM12 28h2v2h-2zM16 30h2v2h-2zM4 32h2v2h-2zM10 32h2v2h-2zM34 34h2v2h-2z" fill="#fef6b6"/><path d="M8 0h2v2h-2zM14 0h2v2h-2zM16 0h2v2h-2zM32 8h2v2h-2zM12 10h2v2h-2zM30 10h2v2h-2zM10 12h2v2h-2zM26 12h2v2h-2zM14 14h2v2h-2zM30 16h2v2h-2zM10 18h2v2h-2zM16 22h2v2h-2zM30 22h2v2h-2zM32 22h2v2h-2zM4 24h2v2h-2zM14 24h2v2h-2zM24 24h2v2h-2zM32 26h2v2h-2zM14 28h2v2h-2zM12 30h2v2h-2z" fill="#f6f6ee"/><path d="M12 0h2v2h-2zM20 0h2v2h-2zM24 0h2v2h-2zM32 0h2v2h-2zM0 2h2v2h-2zM12 2h2v2h-2zM24 2h2v2h-2zM32 2h2v2h-2zM2 4h2v2h-2zM4 4h2v2h-2zM12 4h2v2h-2zM20 4h2v2h-2zM22 4h2v2h-2zM28 4h2v2h-2zM2 6h2v2h-2zM22 6h2v2h-2zM24 6h2v2h-2zM34 6h2v2h-2zM20 8h2v2h-2zM22 8h2v2h-2zM26 8h2v2h-2zM4 10h2v2h-2zM8 10h2v2h-2zM6 12h2v2h-2zM18 12h2v2h-2zM30 12h2v2h-2zM0 14h2v2h-2zM2 14h2v2h-2zM30 14h2v2h-2zM32 14h2v2h-2zM0 16h2v2h-2zM12 16h2v2h-2zM14 16h2v2h-2zM18 16h2v2h-2zM28 16h2v2h-2zM6 18h2v2h-2zM16 18h2v2h-2zM28 18h2v2h-2zM32 18h2v2h-2zM34 18h2v2h-2zM0 20h2v2h-2zM22 20h2v2h-2zM24 20h2v2h-2zM0 24h2v2h-2zM6 24h2v2h-2zM8 24h2v2h-2zM12 24h2v2h-2zM32 24h2v2h-2zM34 24h2v2h-2zM12 26h2v2h-2zM20 26h2v2h-2zM34 26h2v2h-2zM4 28h2v2h-2zM6 28h2v2h-2zM8 28h2v2h-2zM10 28h2v2h-2zM22 28h2v2h-2zM26 28h2v2h-2zM32 28h2v2h-2zM34 28h2v2h-2zM26 30h2v2h-2zM32 30h2v2h-2zM6 32h2v2h-2zM12 32h2v2h-2zM16 32h2v2h-2zM18 32h2v2h-2zM22 32h2v2h-2zM4 34h2v2h-2zM8 34h2v2h-2zM18 34h2v2h-2zM24 34h2v2h-2zM28 34h2v2h-2z" fill="#7dd4a2"/><path d="M26 0h2v2h-2zM30 0h2v2h-2zM16 12h2v2h-2zM20 12h2v2h-2zM4 14h2v2h-2zM20 14h2v2h-2zM16 16h2v2h-2zM8 20h2v2h-2zM16 20h2v2h-2zM2 22h2v2h-2zM26 22h2v2h-2zM30 24h2v2h-2zM14 26h2v2h-2zM0 30h2v2h-2zM6 30h2v2h-2zM8 30h2v2h-2zM24 30h2v2h-2z" fill="#c5c4c4"/><path d="M8 2h2v2h-2zM4 6h2v2h-2zM8 6h2v2h-2zM6 8h2v2h-2zM34 10h2v2h-2zM22 16h2v2h-2zM32 20h2v2h-2zM28 24h2v2h-2zM16 28h2v2h-2zM2 30h2v2h-2zM34 30h2v2h-2zM28 32h2v2h-2z" fill="#f79e48"/><path d="M10 2h2v2h-2zM16 2h2v2h-2zM26 2h2v2h-2zM34 2h2v2h-2zM0 4h2v2h-2zM18 4h2v2h-2zM26 6h2v2h-2zM0 8h2v2h-2zM28 8h2v2h-2zM34 8h2v2h-2zM22 10h2v2h-2zM28 12h2v2h-2zM18 14h2v2h-2zM22 14h2v2h-2zM24 14h2v2h-2zM26 16h2v2h-2zM32 16h2v2h-2zM4 18h2v2h-2zM18 20h2v2h-2zM28 20h2v2h-2zM34 20h2v2h-2zM0 22h2v2h-2zM4 22h2v2h-2zM22 22h2v2h-2zM10 24h2v2h-2zM20 24h2v2h-2zM22 24h2v2h-2zM4 26h2v2h-2zM24 28h2v2h-2zM10 30h2v2h-2zM18 30h2v2h-2zM22 30h2v2h-2zM28 30h2v2h-2zM14 32h2v2h-2zM20 32h2v2h-2zM30 32h2v2h-2zM10 34h2v2h-2zM14 34h2v2h-2zM20 34h2v2h-2zM32 34h2v2h-2z" fill="#30a88a"/><path d="M20 2h2v2h-2zM10 4h2v2h-2zM10 6h2v2h-2zM32 6h2v2h-2zM20 10h2v2h-2zM24 22h2v2h-2zM28 26h2v2h-2zM30 26h2v2h-2zM4 30h2v2h-2zM34 32h2v2h-2zM30 34h2v2h-2z" fill="#168087"/></pattern><pattern id="P0_103" width="36" height="36" patternUnits="userSpaceOnUse"><path d="M0 0h2v2h-2zM6 0h2v2h-2zM4 2h2v2h-2zM10 2h2v2h-2zM22 2h2v2h-2zM28 2h2v2h-2zM0 4h2v2h-2zM4 4h2v2h-2zM20 4h2v2h-2zM10 6h2v2h-2zM20 6h2v2h-2zM8 8h2v2h-2zM28 10h2v2h-2zM20 12h2v2h-2zM22 12h2v2h-2zM34 12h2v2h-2zM4 14h2v2h-2zM8 14h2v2h-2zM20 16h2v2h-2zM28 18h2v2h-2zM4 20h2v2h-2zM8 20h2v2h-2zM30 20h2v2h-2zM2 22h2v2h-2zM4 22h2v2h-2zM8 22h2v2h-2zM18 22h2v2h-2zM6 24h2v2h-2zM30 24h2v2h-2zM0 26h2v2h-2zM4 26h2v2h-2zM30 26h2v2h-2zM4 28h2v2h-2zM28 28h2v2h-2zM8 30h2v2h-2zM22 30h2v2h-2zM26 30h2v2h-2zM6 32h2v2h-2zM20 32h2v2h-2zM22 32h2v2h-2zM4 34h2v2h-2zM18 34h2v2h-2z" fill="#168087"/><path d="M2 0h2v2h-2zM8 0h2v2h-2zM14 0h2v2h-2zM22 0h2v2h-2zM26 0h2v2h-2zM32 0h2v2h-2zM0 2h2v2h-2zM20 2h2v2h-2zM32 2h2v2h-2zM6 4h2v2h-2zM10 4h2v2h-2zM16 4h2v2h-2zM24 4h2v2h-2zM32 4h2v2h-2zM34 4h2v2h-2zM0 6h2v2h-2zM4 6h2v2h-2zM14 6h2v2h-2zM26 6h2v2h-2zM30 6h2v2h-2zM2 8h2v2h-2zM4 8h2v2h-2zM14 8h2v2h-2zM24 8h2v2h-2zM28 8h2v2h-2zM34 8h2v2h-2zM0 10h2v2h-2zM12 10h2v2h-2zM18 10h2v2h-2zM24 10h2v2h-2zM26 10h2v2h-2zM10 12h2v2h-2zM16 14h2v2h-2zM34 14h2v2h-2zM0 16h2v2h-2zM12 16h2v2h-2zM14 16h2v2h-2zM32 16h2v2h-2zM34 16h2v2h-2zM12 18h2v2h-2zM22 18h2v2h-2zM24 18h2v2h-2zM30 18h2v2h-2zM34 18h2v2h-2zM6 20h2v2h-2zM14 20h2v2h-2zM22 20h2v2h-2zM24 20h2v2h-2zM34 20h2v2h-2zM12 22h2v2h-2zM16 22h2v2h-2zM30 22h2v2h-2zM2 24h2v2h-2zM10 24h2v2h-2zM12 24h2v2h-2zM14 24h2v2h-2zM18 24h2v2h-2zM24 26h2v2h-2zM26 26h2v2h-2zM6 28h2v2h-2zM8 28h2v2h-2zM10 28h2v2h-2zM12 28h2v2h-2zM18 28h2v2h-2zM24 28h2v2h-2zM26 28h2v2h-2zM32 28h2v2h-2zM34 28h2v2h-2zM20 30h2v2h-2zM24 30h2v2h-2zM32 30h2v2h-2zM18 32h2v2h-2zM28 32h2v2h-2zM32 32h2v2h-2zM16 34h2v2h-2zM28 34h2v2h-2z" fill="#cdf2c8"/><path d="M4 0h2v2h-2zM16 0h2v2h-2zM22 10h2v2h-2zM6 12h2v2h-2zM8 12h2v2h-2zM22 14h2v2h-2zM2 18h2v2h-2zM10 20h2v2h-2zM0 24h2v2h-2zM14 26h2v2h-2zM0 28h2v2h-2zM4 30h2v2h-2zM26 32h2v2h-2z" fill="#c5c4c4"/><path d="M10 0h2v2h-2zM8 2h2v2h-2zM12 2h2v2h-2zM16 2h2v2h-2zM18 2h2v2h-2zM30 2h2v2h-2zM14 4h2v2h-2zM28 4h2v2h-2zM2 6h2v2h-2zM16 6h2v2h-2zM22 6h2v2h-2zM34 6h2v2h-2zM0 8h2v2h-2zM6 8h2v2h-2zM16 8h2v2h-2zM20 8h2v2h-2zM30 8h2v2h-2zM16 12h2v2h-2zM28 12h2v2h-2zM30 12h2v2h-2zM2 16h2v2h-2zM10 18h2v2h-2zM16 18h2v2h-2zM2 20h2v2h-2zM16 20h2v2h-2zM18 20h2v2h-2zM28 20h2v2h-2zM20 24h2v2h-2zM12 30h2v2h-2zM18 30h2v2h-2zM30 30h2v2h-2zM2 32h2v2h-2zM34 32h2v2h-2zM0 34h2v2h-2zM6 34h2v2h-2zM14 34h2v2h-2zM26 34h2v2h-2zM30 34h2v2h-2z" fill="#f6f6ee"/><path d="M12 0h2v2h-2zM28 0h2v2h-2zM30 0h2v2h-2zM2 2h2v2h-2zM24 2h2v2h-2zM34 2h2v2h-2zM22 4h2v2h-2zM8 6h2v2h-2zM12 6h2v2h-2zM28 6h2v2h-2zM10 8h2v2h-2zM18 8h2v2h-2zM26 8h2v2h-2zM2 10h2v2h-2zM8 10h2v2h-2zM10 10h2v2h-2zM16 10h2v2h-2zM30 10h2v2h-2zM32 10h2v2h-2zM0 12h2v2h-2zM24 12h2v2h-2zM26 12h2v2h-2zM0 14h2v2h-2zM10 14h2v2h-2zM14 14h2v2h-2zM18 14h2v2h-2zM20 14h2v2h-2zM26 14h2v2h-2zM28 14h2v2h-2zM30 14h2v2h-2zM32 14h2v2h-2zM10 16h2v2h-2zM16 16h2v2h-2zM18 16h2v2h-2zM26 16h2v2h-2zM4 18h2v2h-2zM18 18h2v2h-2zM20 18h2v2h-2zM26 18h2v2h-2zM32 18h2v2h-2zM20 20h2v2h-2zM0 22h2v2h-2zM6 22h2v2h-2zM10 22h2v2h-2zM14 22h2v2h-2zM20 22h2v2h-2zM26 22h2v2h-2zM8 24h2v2h-2zM34 24h2v2h-2zM2 26h2v2h-2zM10 26h2v2h-2zM18 26h2v2h-2zM34 26h2v2h-2zM2 28h2v2h-2zM22 28h2v2h-2zM2 30h2v2h-2zM10 30h2v2h-2zM16 30h2v2h-2zM28 30h2v2h-2zM0 32h2v2h-2zM8 32h2v2h-2zM10 32h2v2h-2zM12 32h2v2h-2zM16 32h2v2h-2zM24 32h2v2h-2zM2 34h2v2h-2zM8 34h2v2h-2zM10 34h2v2h-2zM32 34h2v2h-2z" fill="#7dd4a2"/><path d="M18 0h2v2h-2zM34 0h2v2h-2zM6 2h2v2h-2zM14 2h2v2h-2zM8 4h2v2h-2zM12 4h2v2h-2zM26 4h2v2h-2zM30 4h2v2h-2zM6 6h2v2h-2zM18 6h2v2h-2zM32 6h2v2h-2zM12 8h2v2h-2zM22 8h2v2h-2zM32 8h2v2h-2zM4 10h2v2h-2zM6 10h2v2h-2zM14 10h2v2h-2zM20 10h2v2h-2zM34 10h2v2h-2zM2 12h2v2h-2zM4 12h2v2h-2zM12 12h2v2h-2zM6 14h2v2h-2zM12 14h2v2h-2zM24 14h2v2h-2zM4 16h2v2h-2zM6 16h2v2h-2zM8 16h2v2h-2zM22 16h2v2h-2zM30 16h2v2h-2zM0 18h2v2h-2zM8 18h2v2h-2zM14 18h2v2h-2zM0 20h2v2h-2zM12 20h2v2h-2zM26 20h2v2h-2zM22 22h2v2h-2zM24 22h2v2h-2zM28 22h2v2h-2zM34 22h2v2h-2zM4 24h2v2h-2zM22 24h2v2h-2zM24 24h2v2h-2zM26 24h2v2h-2zM28 24h2v2h-2zM32 24h2v2h-2zM16 26h2v2h-2zM20 26h2v2h-2zM28 26h2v2h-2zM14 28h2v2h-2zM16 28h2v2h-2zM6 30h2v2h-2zM14 30h2v2h-2zM34 30h2v2h-2zM14 32h2v2h-2zM30 32h2v2h-2zM12 34h2v2h-2zM20 34h2v2h-2zM22 34h2v2h-2zM24 34h2v2h-2z" fill="#30a88a"/><path d="M20 0h2v2h-2zM24 0h2v2h-2zM26 2h2v2h-2zM14 12h2v2h-2zM18 12h2v2h-2zM2 14h2v2h-2zM6 18h2v2h-2zM16 24h2v2h-2zM6 26h2v2h-2zM8 26h2v2h-2zM12 26h2v2h-2zM32 26h2v2h-2zM0 30h2v2h-2zM34 34h2v2h-2z" fill="#164e96"/><path d="M2 4h2v2h-2zM18 4h2v2h-2zM24 6h2v2h-2zM32 12h2v2h-2zM24 16h2v2h-2zM28 16h2v2h-2zM32 20h2v2h-2zM32 22h2v2h-2zM22 26h2v2h-2zM20 28h2v2h-2zM30 28h2v2h-2zM4 32h2v2h-2z" fill="#fef6b6"/></pattern><pattern id="P0_116" width="36" height="36" patternUnits="userSpaceOnUse"><path d="M0 0h2v2h-2zM4 0h2v2h-2zM18 0h2v2h-2zM34 0h2v2h-2zM2 2h2v2h-2zM30 2h2v2h-2zM20 4h2v2h-2zM28 4h2v2h-2zM28 6h2v2h-2zM18 8h2v2h-2zM32 8h2v2h-2zM0 10h2v2h-2zM20 10h2v2h-2zM22 12h2v2h-2zM0 14h2v2h-2zM8 14h2v2h-2zM14 14h2v2h-2zM20 14h2v2h-2zM22 14h2v2h-2zM24 14h2v2h-2zM30 14h2v2h-2zM32 14h2v2h-2zM8 16h2v2h-2zM28 18h2v2h-2zM34 18h2v2h-2zM24 20h2v2h-2zM32 20h2v2h-2zM20 22h2v2h-2zM32 22h2v2h-2zM2 24h2v2h-2zM10 24h2v2h-2zM34 24h2v2h-2zM26 26h2v2h-2zM28 26h2v2h-2zM12 28h2v2h-2zM24 28h2v2h-2zM26 28h2v2h-2zM28 28h2v2h-2zM12 30h2v2h-2zM16 30h2v2h-2zM4 32h2v2h-2zM10 32h2v2h-2zM14 32h2v2h-2zM24 32h2v2h-2zM32 32h2v2h-2zM0 34h2v2h-2zM12 34h2v2h-2zM16 34h2v2h-2zM34 34h2v2h-2z" fill="#164e96"/><path d="M2 0h2v2h-2zM8 0h2v2h-2zM20 0h2v2h-2zM26 0h2v2h-2zM8 2h2v2h-2zM18 2h2v2h-2zM32 2h2v2h-2zM0 4h2v2h-2zM4 4h2v2h-2zM8 4h2v2h-2zM24 4h2v2h-2zM32 4h2v2h-2zM34 4h2v2h-2zM0 6h2v2h-2zM10 8h2v2h-2zM20 8h2v2h-2zM26 8h2v2h-2zM28 8h2v2h-2zM28 10h2v2h-2zM16 12h2v2h-2zM20 12h2v2h-2zM32 12h2v2h-2zM34 12h2v2h-2zM10 14h2v2h-2zM12 14h2v2h-2zM34 14h2v2h-2zM0 16h2v2h-2zM2 16h2v2h-2zM30 16h2v2h-2zM2 18h2v2h-2zM12 18h2v2h-2zM18 18h2v2h-2zM22 18h2v2h-2zM26 18h2v2h-2zM0 20h2v2h-2zM18 20h2v2h-2zM34 20h2v2h-2zM30 24h2v2h-2zM30 26h2v2h-2zM4 28h2v2h-2zM6 28h2v2h-2zM10 28h2v2h-2zM30 28h2v2h-2zM32 28h2v2h-2zM14 30h2v2h-2zM32 30h2v2h-2zM0 32h2v2h-2zM30 32h2v2h-2zM8 34h2v2h-2zM10 34h2v2h-2zM14 34h2v2h-2zM18 34h2v2h-2zM32 34h2v2h-2z" fill="#7dd4a2"/><path d="M6 0h2v2h-2zM14 0h2v2h-2zM4 2h2v2h-2zM26 2h2v2h-2zM26 6h2v2h-2zM2 8h2v2h-2zM12 8h2v2h-2zM14 10h2v2h-2zM26 10h2v2h-2zM18 16h2v2h-2zM0 22h2v2h-2zM24 26h2v2h-2zM2 28h2v2h-2z" fill="#c5c4c4"/><path d="M10 0h2v2h-2zM12 0h2v2h-2zM16 0h2v2h-2zM24 0h2v2h-2zM30 0h2v2h-2zM6 2h2v2h-2zM14 2h2v2h-2zM22 2h2v2h-2zM24 2h2v2h-2zM14 4h2v2h-2zM2 6h2v2h-2zM4 6h2v2h-2zM14 6h2v2h-2zM14 8h2v2h-2zM30 8h2v2h-2zM2 10h2v2h-2zM16 10h2v2h-2zM26 14h2v2h-2zM4 16h2v2h-2zM14 16h2v2h-2zM10 18h2v2h-2zM16 18h2v2h-2zM30 18h2v2h-2zM10 20h2v2h-2zM10 22h2v2h-2zM24 22h2v2h-2zM18 24h2v2h-2zM28 24h2v2h-2zM32 24h2v2h-2zM0 26h2v2h-2zM2 26h2v2h-2zM8 26h2v2h-2zM16 26h2v2h-2zM0 28h2v2h-2zM20 28h2v2h-2zM34 28h2v2h-2zM20 30h2v2h-2zM16 32h2v2h-2zM22 32h2v2h-2zM26 32h2v2h-2zM20 34h2v2h-2zM22 34h2v2h-2z" fill="#cdf2c8"/><path d="M22 0h2v2h-2zM28 0h2v2h-2zM0 2h2v2h-2zM10 2h2v2h-2zM12 2h2v2h-2zM6 4h2v2h-2zM10 4h2v2h-2zM30 4h2v2h-2zM10 6h2v2h-2zM16 6h2v2h-2zM18 6h2v2h-2zM20 6h2v2h-2zM22 6h2v2h-2zM24 6h2v2h-2zM30 6h2v2h-2zM16 8h2v2h-2zM22 8h2v2h-2zM34 8h2v2h-2zM4 10h2v2h-2zM8 10h2v2h-2zM10 10h2v2h-2zM18 10h2v2h-2zM24 10h2v2h-2zM30 10h2v2h-2zM32 10h2v2h-2zM0 12h2v2h-2zM6 12h2v2h-2zM8 12h2v2h-2zM12 12h2v2h-2zM14 12h2v2h-2zM18 12h2v2h-2zM26 12h2v2h-2zM18 14h2v2h-2zM20 16h2v2h-2zM26 16h2v2h-2zM28 16h2v2h-2zM32 16h2v2h-2zM14 18h2v2h-2zM20 18h2v2h-2zM32 18h2v2h-2zM4 20h2v2h-2zM6 20h2v2h-2zM16 20h2v2h-2zM22 20h2v2h-2zM30 20h2v2h-2zM2 22h2v2h-2zM6 22h2v2h-2zM12 22h2v2h-2zM22 22h2v2h-2zM26 22h2v2h-2zM12 24h2v2h-2zM14 24h2v2h-2zM20 24h2v2h-2zM22 24h2v2h-2zM24 24h2v2h-2zM26 24h2v2h-2zM4 26h2v2h-2zM6 26h2v2h-2zM10 26h2v2h-2zM12 26h2v2h-2zM18 26h2v2h-2zM22 26h2v2h-2zM14 28h2v2h-2zM8 30h2v2h-2zM18 30h2v2h-2zM28 30h2v2h-2zM34 30h2v2h-2zM2 32h2v2h-2zM6 32h2v2h-2zM20 32h2v2h-2zM28 32h2v2h-2zM34 32h2v2h-2zM4 34h2v2h-2zM6 34h2v2h-2zM24 34h2v2h-2zM30 34h2v2h-2z" fill="#168087"/><path d="M32 0h2v2h-2zM16 2h2v2h-2zM20 2h2v2h-2zM28 2h2v2h-2zM34 2h2v2h-2zM2 4h2v2h-2zM12 4h2v2h-2zM16 4h2v2h-2zM18 4h2v2h-2zM22 4h2v2h-2zM6 6h2v2h-2zM8 6h2v2h-2zM12 6h2v2h-2zM32 6h2v2h-2zM34 6h2v2h-2zM0 8h2v2h-2zM4 8h2v2h-2zM6 8h2v2h-2zM8 8h2v2h-2zM24 8h2v2h-2zM6 10h2v2h-2zM12 10h2v2h-2zM22 10h2v2h-2zM34 10h2v2h-2zM2 12h2v2h-2zM4 12h2v2h-2zM10 12h2v2h-2zM24 12h2v2h-2zM28 12h2v2h-2zM30 12h2v2h-2zM2 14h2v2h-2zM4 14h2v2h-2zM6 14h2v2h-2zM16 14h2v2h-2zM28 14h2v2h-2zM6 16h2v2h-2zM10 16h2v2h-2zM12 16h2v2h-2zM16 16h2v2h-2zM22 16h2v2h-2zM24 16h2v2h-2zM34 16h2v2h-2zM0 18h2v2h-2zM4 18h2v2h-2zM6 18h2v2h-2zM8 18h2v2h-2zM24 18h2v2h-2zM2 20h2v2h-2zM8 20h2v2h-2zM12 20h2v2h-2zM14 20h2v2h-2zM20 20h2v2h-2zM26 20h2v2h-2zM28 20h2v2h-2zM4 22h2v2h-2zM8 22h2v2h-2zM14 22h2v2h-2zM16 22h2v2h-2zM18 22h2v2h-2zM28 22h2v2h-2zM30 22h2v2h-2zM34 22h2v2h-2zM0 24h2v2h-2zM4 24h2v2h-2zM6 24h2v2h-2zM8 24h2v2h-2zM16 24h2v2h-2zM14 26h2v2h-2zM20 26h2v2h-2zM32 26h2v2h-2zM34 26h2v2h-2zM8 28h2v2h-2zM16 28h2v2h-2zM18 28h2v2h-2zM22 28h2v2h-2zM0 30h2v2h-2zM2 30h2v2h-2zM4 30h2v2h-2zM6 30h2v2h-2zM10 30h2v2h-2zM22 30h2v2h-2zM24 30h2v2h-2zM26 30h2v2h-2zM30 30h2v2h-2zM8 32h2v2h-2zM12 32h2v2h-2zM18 32h2v2h-2zM2 34h2v2h-2zM28 34h2v2h-2z" fill="#30a88a"/><path d="M26 4h2v2h-2zM26 34h2v2h-2z" fill="#f6f6ee"/></pattern><pattern id="P1_119" width="36" height="36" patternUnits="userSpaceOnUse"><path d="M0 0h2v2h-2zM6 0h2v2h-2zM6 2h2v2h-2zM16 2h2v2h-2zM20 2h2v2h-2zM4 4h2v2h-2zM8 6h2v2h-2zM18 6h2v2h-2zM10 8h2v2h-2zM20 8h2v2h-2zM14 12h2v2h-2zM18 12h2v2h-2zM8 14h2v2h-2zM22 14h2v2h-2zM10 16h2v2h-2zM12 16h2v2h-2zM0 18h2v2h-2zM4 18h2v2h-2zM6 18h2v2h-2zM10 18h2v2h-2zM18 18h2v2h-2zM26 18h2v2h-2zM28 18h2v2h-2zM2 20h2v2h-2zM12 22h2v2h-2zM14 22h2v2h-2zM22 22h2v2h-2zM32 22h2v2h-2zM4 26h2v2h-2zM8 26h2v2h-2zM14 26h2v2h-2zM10 30h2v2h-2zM14 30h2v2h-2zM22 30h2v2h-2zM24 30h2v2h-2zM30 30h2v2h-2zM8 32h2v2h-2zM14 32h2v2h-2zM18 32h2v2h-2zM20 32h2v2h-2zM6 34h2v2h-2zM8 34h2v2h-2zM12 34h2v2h-2zM22 34h2v2h-2zM26 34h2v2h-2zM32 34h2v2h-2zM34 34h2v2h-2z" fill="#cdf2c8"/><path d="M2 0h2v2h-2zM4 0h2v2h-2zM8 0h2v2h-2zM12 0h2v2h-2zM14 0h2v2h-2zM22 0h2v2h-2zM30 0h2v2h-2zM2 2h2v2h-2zM8 2h2v2h-2zM12 2h2v2h-2zM22 2h2v2h-2zM26 2h2v2h-2zM0 4h2v2h-2zM10 4h2v2h-2zM20 4h2v2h-2zM22 4h2v2h-2zM24 4h2v2h-2zM30 4h2v2h-2zM34 4h2v2h-2zM10 6h2v2h-2zM16 6h2v2h-2zM20 6h2v2h-2zM24 6h2v2h-2zM26 6h2v2h-2zM30 6h2v2h-2zM4 8h2v2h-2zM8 8h2v2h-2zM12 8h2v2h-2zM22 8h2v2h-2zM24 8h2v2h-2zM0 10h2v2h-2zM2 10h2v2h-2zM6 10h2v2h-2zM12 10h2v2h-2zM16 10h2v2h-2zM24 10h2v2h-2zM28 10h2v2h-2zM30 10h2v2h-2zM32 10h2v2h-2zM4 12h2v2h-2zM16 12h2v2h-2zM20 12h2v2h-2zM22 12h2v2h-2zM24 12h2v2h-2zM30 12h2v2h-2zM34 12h2v2h-2zM2 14h2v2h-2zM10 14h2v2h-2zM12 14h2v2h-2zM18 14h2v2h-2zM34 14h2v2h-2zM6 16h2v2h-2zM8 16h2v2h-2zM14 16h2v2h-2zM18 16h2v2h-2zM20 16h2v2h-2zM22 16h2v2h-2zM8 18h2v2h-2zM16 18h2v2h-2zM22 18h2v2h-2zM30 18h2v2h-2zM18 20h2v2h-2zM26 20h2v2h-2zM32 20h2v2h-2zM0 22h2v2h-2zM2 22h2v2h-2zM6 22h2v2h-2zM30 22h2v2h-2zM8 24h2v2h-2zM12 24h2v2h-2zM14 24h2v2h-2zM26 24h2v2h-2zM34 24h2v2h-2zM0 26h2v2h-2zM2 26h2v2h-2zM12 26h2v2h-2zM16 26h2v2h-2zM20 26h2v2h-2zM22 26h2v2h-2zM28 26h2v2h-2zM10 28h2v2h-2zM14 28h2v2h-2zM18 28h2v2h-2zM20 28h2v2h-2zM28 28h2v2h-2zM32 28h2v2h-2zM12 30h2v2h-2zM4 32h2v2h-2zM22 32h2v2h-2zM26 32h2v2h-2zM32 32h2v2h-2zM2 34h2v2h-2zM10 34h2v2h-2zM14 34h2v2h-2z" fill="#fef6b6"/><path d="M10 0h2v2h-2zM28 0h2v2h-2zM32 0h2v2h-2zM24 2h2v2h-2zM14 4h2v2h-2zM28 4h2v2h-2zM22 6h2v2h-2zM34 6h2v2h-2zM30 8h2v2h-2zM32 8h2v2h-2zM4 10h2v2h-2zM34 10h2v2h-2zM10 12h2v2h-2zM6 14h2v2h-2zM24 14h2v2h-2zM28 14h2v2h-2zM30 16h2v2h-2zM12 18h2v2h-2zM14 18h2v2h-2zM32 18h2v2h-2zM4 20h2v2h-2zM6 20h2v2h-2zM12 20h2v2h-2zM14 20h2v2h-2zM16 20h2v2h-2zM30 20h2v2h-2zM34 20h2v2h-2zM18 22h2v2h-2zM20 22h2v2h-2zM26 22h2v2h-2zM34 22h2v2h-2zM4 24h2v2h-2zM6 24h2v2h-2zM16 24h2v2h-2zM30 24h2v2h-2zM10 26h2v2h-2zM18 26h2v2h-2zM12 28h2v2h-2zM26 28h2v2h-2zM0 30h2v2h-2zM6 32h2v2h-2zM24 34h2v2h-2z" fill="#7dd4a2"/><path d="M16 0h2v2h-2zM20 0h2v2h-2zM10 2h2v2h-2zM34 2h2v2h-2zM6 4h2v2h-2zM12 4h2v2h-2zM16 4h2v2h-2zM18 4h2v2h-2zM0 6h2v2h-2zM28 6h2v2h-2zM32 6h2v2h-2zM0 8h2v2h-2zM6 8h2v2h-2zM14 8h2v2h-2zM34 8h2v2h-2zM8 10h2v2h-2zM10 10h2v2h-2zM18 10h2v2h-2zM20 10h2v2h-2zM0 12h2v2h-2zM8 12h2v2h-2zM12 12h2v2h-2zM28 12h2v2h-2zM0 14h2v2h-2zM4 14h2v2h-2zM14 14h2v2h-2zM20 14h2v2h-2zM34 16h2v2h-2zM8 20h2v2h-2zM22 20h2v2h-2zM8 22h2v2h-2zM2 24h2v2h-2zM10 24h2v2h-2zM20 24h2v2h-2zM32 24h2v2h-2zM32 26h2v2h-2zM2 28h2v2h-2zM6 28h2v2h-2zM16 28h2v2h-2zM34 28h2v2h-2zM2 30h2v2h-2zM28 30h2v2h-2zM34 30h2v2h-2zM10 32h2v2h-2zM34 32h2v2h-2zM0 34h2v2h-2zM16 34h2v2h-2z" fill="#f79e48"/><path d="M18 0h2v2h-2zM26 0h2v2h-2zM0 2h2v2h-2zM4 2h2v2h-2zM14 2h2v2h-2zM18 2h2v2h-2zM2 4h2v2h-2zM4 6h2v2h-2zM12 6h2v2h-2zM14 6h2v2h-2zM2 8h2v2h-2zM16 8h2v2h-2zM18 8h2v2h-2zM28 8h2v2h-2zM14 10h2v2h-2zM22 10h2v2h-2zM26 10h2v2h-2zM26 12h2v2h-2zM26 14h2v2h-2zM30 14h2v2h-2zM2 16h2v2h-2zM4 16h2v2h-2zM16 16h2v2h-2zM24 16h2v2h-2zM32 16h2v2h-2zM20 18h2v2h-2zM10 20h2v2h-2zM4 22h2v2h-2zM16 22h2v2h-2zM28 22h2v2h-2zM0 24h2v2h-2zM18 24h2v2h-2zM22 24h2v2h-2zM24 24h2v2h-2zM28 24h2v2h-2zM6 26h2v2h-2zM26 26h2v2h-2zM0 28h2v2h-2zM24 28h2v2h-2zM30 28h2v2h-2zM4 30h2v2h-2zM16 30h2v2h-2zM20 30h2v2h-2zM26 30h2v2h-2zM0 32h2v2h-2zM12 32h2v2h-2zM24 32h2v2h-2zM4 34h2v2h-2zM18 34h2v2h-2zM28 34h2v2h-2z" fill="#fdd558"/><path d="M24 0h2v2h-2zM28 2h2v2h-2zM32 2h2v2h-2zM8 4h2v2h-2zM26 4h2v2h-2zM32 4h2v2h-2zM2 12h2v2h-2zM32 12h2v2h-2zM32 14h2v2h-2zM2 18h2v2h-2zM34 18h2v2h-2zM0 20h2v2h-2zM10 22h2v2h-2zM30 26h2v2h-2zM34 26h2v2h-2zM6 30h2v2h-2zM8 30h2v2h-2zM32 30h2v2h-2zM16 32h2v2h-2zM30 32h2v2h-2z" fill="#f6f6ee"/><path d="M34 0h2v2h-2zM30 2h2v2h-2zM16 14h2v2h-2zM28 16h2v2h-2zM8 28h2v2h-2z" fill="#30a88a"/><path d="M2 6h2v2h-2zM6 6h2v2h-2zM26 8h2v2h-2zM6 12h2v2h-2zM0 16h2v2h-2zM26 16h2v2h-2zM24 18h2v2h-2zM20 20h2v2h-2zM24 20h2v2h-2zM28 20h2v2h-2zM24 22h2v2h-2zM24 26h2v2h-2zM4 28h2v2h-2zM22 28h2v2h-2zM18 30h2v2h-2zM2 32h2v2h-2zM28 32h2v2h-2zM20 34h2v2h-2zM30 34h2v2h-2z" fill="#e85526"/></pattern><pattern id="P1_108" width="36" height="36" patternUnits="userSpaceOnUse"><path d="M0 0h2v2h-2zM10 0h2v2h-2zM24 0h2v2h-2zM28 0h2v2h-2zM30 0h2v2h-2zM2 2h2v2h-2zM8 2h2v2h-2zM10 2h2v2h-2zM14 2h2v2h-2zM16 2h2v2h-2zM18 2h2v2h-2zM22 2h2v2h-2zM28 2h2v2h-2zM0 4h2v2h-2zM6 4h2v2h-2zM14 4h2v2h-2zM16 4h2v2h-2zM22 4h2v2h-2zM0 6h2v2h-2zM4 6h2v2h-2zM16 6h2v2h-2zM22 6h2v2h-2zM34 6h2v2h-2zM4 8h2v2h-2zM6 8h2v2h-2zM10 8h2v2h-2zM26 8h2v2h-2zM30 8h2v2h-2zM4 10h2v2h-2zM8 10h2v2h-2zM8 12h2v2h-2zM16 12h2v2h-2zM30 12h2v2h-2zM2 14h2v2h-2zM10 14h2v2h-2zM14 14h2v2h-2zM30 14h2v2h-2zM32 14h2v2h-2zM20 16h2v2h-2zM30 16h2v2h-2zM10 18h2v2h-2zM16 18h2v2h-2zM20 18h2v2h-2zM26 18h2v2h-2zM28 18h2v2h-2zM32 18h2v2h-2zM34 18h2v2h-2zM6 20h2v2h-2zM14 20h2v2h-2zM8 22h2v2h-2zM10 22h2v2h-2zM18 22h2v2h-2zM24 22h2v2h-2zM30 22h2v2h-2zM4 24h2v2h-2zM12 24h2v2h-2zM2 26h2v2h-2zM6 26h2v2h-2zM20 26h2v2h-2zM28 26h2v2h-2zM2 28h2v2h-2zM18 28h2v2h-2zM28 28h2v2h-2zM0 30h2v2h-2zM8 30h2v2h-2zM10 30h2v2h-2zM22 30h2v2h-2zM2 32h2v2h-2zM2 34h2v2h-2z" fill="#7dd4a2"/><path d="M2 0h2v2h-2zM12 0h2v2h-2zM18 0h2v2h-2zM22 0h2v2h-2zM26 0h2v2h-2zM0 2h2v2h-2zM6 2h2v2h-2zM12 2h2v2h-2zM24 2h2v2h-2zM2 4h2v2h-2zM26 4h2v2h-2zM30 4h2v2h-2zM6 6h2v2h-2zM8 6h2v2h-2zM20 6h2v2h-2zM12 8h2v2h-2zM24 8h2v2h-2zM28 8h2v2h-2zM16 10h2v2h-2zM0 12h2v2h-2zM10 12h2v2h-2zM18 12h2v2h-2zM20 12h2v2h-2zM22 12h2v2h-2zM34 12h2v2h-2zM4 14h2v2h-2zM8 14h2v2h-2zM12 14h2v2h-2zM20 14h2v2h-2zM24 14h2v2h-2zM26 14h2v2h-2zM0 16h2v2h-2zM4 16h2v2h-2zM12 16h2v2h-2zM16 16h2v2h-2zM22 16h2v2h-2zM0 18h2v2h-2zM14 18h2v2h-2zM18 18h2v2h-2zM30 18h2v2h-2zM0 20h2v2h-2zM8 20h2v2h-2zM12 20h2v2h-2zM32 20h2v2h-2zM34 20h2v2h-2zM0 22h2v2h-2zM12 22h2v2h-2zM20 22h2v2h-2zM22 22h2v2h-2zM32 22h2v2h-2zM34 22h2v2h-2zM0 24h2v2h-2zM16 24h2v2h-2zM18 24h2v2h-2zM24 24h2v2h-2zM26 24h2v2h-2zM28 24h2v2h-2zM12 26h2v2h-2zM14 26h2v2h-2zM16 26h2v2h-2zM22 26h2v2h-2zM30 26h2v2h-2zM0 28h2v2h-2zM12 28h2v2h-2zM14 28h2v2h-2zM20 28h2v2h-2zM24 28h2v2h-2zM26 28h2v2h-2zM2 30h2v2h-2zM6 30h2v2h-2zM16 30h2v2h-2zM24 30h2v2h-2zM30 30h2v2h-2zM32 30h2v2h-2zM0 32h2v2h-2zM12 32h2v2h-2zM14 32h2v2h-2zM20 32h2v2h-2zM22 32h2v2h-2zM24 32h2v2h-2zM28 32h2v2h-2zM4 34h2v2h-2zM6 34h2v2h-2zM10 34h2v2h-2zM16 34h2v2h-2zM20 34h2v2h-2zM24 34h2v2h-2zM32 34h2v2h-2z" fill="#cdf2c8"/><path d="M4 0h2v2h-2zM14 0h2v2h-2zM8 4h2v2h-2zM20 4h2v2h-2zM34 4h2v2h-2zM10 6h2v2h-2zM16 8h2v2h-2zM18 8h2v2h-2zM32 8h2v2h-2zM2 10h2v2h-2zM6 10h2v2h-2zM22 10h2v2h-2zM16 14h2v2h-2zM34 14h2v2h-2zM10 16h2v2h-2zM18 16h2v2h-2zM28 16h2v2h-2zM32 16h2v2h-2zM34 16h2v2h-2zM4 20h2v2h-2zM16 20h2v2h-2zM20 24h2v2h-2zM22 24h2v2h-2zM18 26h2v2h-2zM34 26h2v2h-2zM8 28h2v2h-2zM22 28h2v2h-2zM30 28h2v2h-2zM28 30h2v2h-2zM22 34h2v2h-2z" fill="#30a88a"/><path d="M6 0h2v2h-2zM8 0h2v2h-2zM30 2h2v2h-2zM32 4h2v2h-2zM18 6h2v2h-2zM8 8h2v2h-2zM34 8h2v2h-2zM10 10h2v2h-2zM12 10h2v2h-2zM14 10h2v2h-2zM30 10h2v2h-2zM14 12h2v2h-2zM28 12h2v2h-2zM0 14h2v2h-2zM18 14h2v2h-2zM22 14h2v2h-2zM2 16h2v2h-2zM6 16h2v2h-2zM8 16h2v2h-2zM6 18h2v2h-2zM28 22h2v2h-2zM10 24h2v2h-2zM14 24h2v2h-2zM8 26h2v2h-2zM10 26h2v2h-2zM24 26h2v2h-2zM26 26h2v2h-2zM4 32h2v2h-2zM6 32h2v2h-2zM18 32h2v2h-2zM18 34h2v2h-2zM26 34h2v2h-2zM34 34h2v2h-2z" fill="#fdd558"/><path d="M16 0h2v2h-2zM26 2h2v2h-2zM14 8h2v2h-2zM22 8h2v2h-2zM24 10h2v2h-2zM26 10h2v2h-2zM34 10h2v2h-2zM2 18h2v2h-2zM2 22h2v2h-2zM26 22h2v2h-2zM30 24h2v2h-2zM32 26h2v2h-2zM6 28h2v2h-2zM16 28h2v2h-2zM26 30h2v2h-2zM28 34h2v2h-2z" fill="#168087"/><path d="M20 0h2v2h-2zM32 2h2v2h-2zM34 2h2v2h-2zM4 4h2v2h-2zM10 4h2v2h-2zM12 4h2v2h-2zM24 4h2v2h-2zM28 4h2v2h-2zM12 6h2v2h-2zM14 6h2v2h-2zM24 6h2v2h-2zM28 6h2v2h-2zM30 6h2v2h-2zM32 6h2v2h-2zM2 8h2v2h-2zM20 8h2v2h-2zM0 10h2v2h-2zM18 10h2v2h-2zM20 10h2v2h-2zM28 10h2v2h-2zM32 10h2v2h-2zM2 12h2v2h-2zM4 12h2v2h-2zM6 12h2v2h-2zM12 12h2v2h-2zM24 12h2v2h-2zM32 12h2v2h-2zM6 14h2v2h-2zM28 14h2v2h-2zM14 16h2v2h-2zM24 16h2v2h-2zM26 16h2v2h-2zM22 18h2v2h-2zM24 18h2v2h-2zM2 20h2v2h-2zM10 20h2v2h-2zM18 20h2v2h-2zM22 20h2v2h-2zM28 20h2v2h-2zM30 20h2v2h-2zM4 22h2v2h-2zM6 22h2v2h-2zM14 22h2v2h-2zM2 24h2v2h-2zM32 24h2v2h-2zM4 26h2v2h-2zM4 28h2v2h-2zM10 28h2v2h-2zM32 28h2v2h-2zM34 28h2v2h-2zM4 30h2v2h-2zM12 30h2v2h-2zM14 30h2v2h-2zM18 30h2v2h-2zM20 30h2v2h-2zM8 32h2v2h-2zM10 32h2v2h-2zM30 32h2v2h-2zM34 32h2v2h-2zM8 34h2v2h-2zM14 34h2v2h-2z" fill="#fef6b6"/><path d="M32 0h2v2h-2zM34 0h2v2h-2zM20 2h2v2h-2zM26 6h2v2h-2zM26 12h2v2h-2zM4 18h2v2h-2zM8 18h2v2h-2zM12 18h2v2h-2zM20 20h2v2h-2zM16 22h2v2h-2zM6 24h2v2h-2zM0 26h2v2h-2zM34 30h2v2h-2zM16 32h2v2h-2zM12 34h2v2h-2z" fill="#c5c4c4"/><path d="M4 2h2v2h-2zM18 4h2v2h-2zM2 6h2v2h-2zM0 8h2v2h-2zM24 20h2v2h-2zM26 20h2v2h-2zM8 24h2v2h-2zM34 24h2v2h-2zM26 32h2v2h-2zM32 32h2v2h-2zM0 34h2v2h-2zM30 34h2v2h-2z" fill="#f79e48"/></pattern><pattern id="P2_119" width="36" height="36" patternUnits="userSpaceOnUse"><path d="M0 0h2v2h-2zM6 0h2v2h-2zM8 0h2v2h-2zM16 0h2v2h-2zM0 2h2v2h-2zM10 2h2v2h-2zM32 2h2v2h-2zM8 4h2v2h-2zM10 4h2v2h-2zM18 4h2v2h-2zM20 4h2v2h-2zM0 6h2v2h-2zM30 6h2v2h-2zM2 10h2v2h-2zM14 10h2v2h-2zM24 10h2v2h-2zM12 12h2v2h-2zM14 12h2v2h-2zM26 12h2v2h-2zM34 12h2v2h-2zM0 14h2v2h-2zM2 14h2v2h-2zM4 14h2v2h-2zM6 14h2v2h-2zM26 14h2v2h-2zM4 16h2v2h-2zM28 16h2v2h-2zM4 18h2v2h-2zM6 18h2v2h-2zM8 18h2v2h-2zM20 18h2v2h-2zM22 18h2v2h-2zM0 22h2v2h-2zM8 22h2v2h-2zM10 24h2v2h-2zM18 24h2v2h-2zM22 26h2v2h-2zM0 28h2v2h-2zM16 28h2v2h-2zM18 28h2v2h-2zM2 30h2v2h-2zM20 30h2v2h-2zM26 30h2v2h-2zM8 32h2v2h-2zM30 32h2v2h-2zM6 34h2v2h-2zM12 34h2v2h-2zM30 34h2v2h-2z" fill="#fef6b6"/><path d="M2 0h2v2h-2zM28 0h2v2h-2zM18 2h2v2h-2zM20 2h2v2h-2zM30 4h2v2h-2zM2 6h2v2h-2zM6 6h2v2h-2zM0 8h2v2h-2zM34 8h2v2h-2zM16 16h2v2h-2zM20 16h2v2h-2zM24 16h2v2h-2zM30 18h2v2h-2zM4 22h2v2h-2zM10 22h2v2h-2zM20 24h2v2h-2zM24 24h2v2h-2zM0 26h2v2h-2zM28 28h2v2h-2zM12 32h2v2h-2zM2 34h2v2h-2z" fill="#f6f6ee"/><path d="M4 0h2v2h-2zM20 0h2v2h-2zM32 0h2v2h-2zM4 2h2v2h-2zM12 2h2v2h-2zM24 2h2v2h-2zM26 2h2v2h-2zM12 4h2v2h-2zM14 4h2v2h-2zM16 4h2v2h-2zM4 6h2v2h-2zM12 6h2v2h-2zM18 6h2v2h-2zM20 6h2v2h-2zM22 6h2v2h-2zM26 6h2v2h-2zM10 8h2v2h-2zM20 8h2v2h-2zM30 8h2v2h-2zM0 10h2v2h-2zM4 10h2v2h-2zM6 10h2v2h-2zM12 10h2v2h-2zM16 10h2v2h-2zM20 10h2v2h-2zM10 12h2v2h-2zM8 14h2v2h-2zM16 14h2v2h-2zM22 14h2v2h-2zM0 16h2v2h-2zM2 16h2v2h-2zM6 16h2v2h-2zM14 16h2v2h-2zM18 18h2v2h-2zM0 20h2v2h-2zM10 20h2v2h-2zM12 20h2v2h-2zM22 20h2v2h-2zM32 20h2v2h-2zM34 20h2v2h-2zM2 22h2v2h-2zM16 22h2v2h-2zM20 22h2v2h-2zM28 22h2v2h-2zM34 22h2v2h-2zM4 24h2v2h-2zM6 24h2v2h-2zM30 24h2v2h-2zM10 26h2v2h-2zM16 26h2v2h-2zM18 26h2v2h-2zM24 26h2v2h-2zM30 26h2v2h-2zM2 28h2v2h-2zM6 28h2v2h-2zM10 28h2v2h-2zM14 28h2v2h-2zM30 28h2v2h-2zM12 30h2v2h-2zM24 30h2v2h-2zM34 30h2v2h-2zM0 32h2v2h-2zM4 32h2v2h-2zM18 32h2v2h-2zM24 32h2v2h-2zM26 32h2v2h-2zM28 32h2v2h-2zM34 32h2v2h-2zM10 34h2v2h-2zM28 34h2v2h-2z" fill="#7dd4a2"/><path d="M10 0h2v2h-2zM24 0h2v2h-2zM30 0h2v2h-2zM16 2h2v2h-2zM28 2h2v2h-2zM0 4h2v2h-2zM24 4h2v2h-2zM26 4h2v2h-2zM32 4h2v2h-2zM14 6h2v2h-2zM34 6h2v2h-2zM4 8h2v2h-2zM22 8h2v2h-2zM24 8h2v2h-2zM28 8h2v2h-2zM4 12h2v2h-2zM16 12h2v2h-2zM18 12h2v2h-2zM30 14h2v2h-2zM8 16h2v2h-2zM26 16h2v2h-2zM2 20h2v2h-2zM6 20h2v2h-2zM18 20h2v2h-2zM24 20h2v2h-2zM22 22h2v2h-2zM16 24h2v2h-2zM12 26h2v2h-2zM8 28h2v2h-2zM22 28h2v2h-2zM26 28h2v2h-2zM18 30h2v2h-2zM14 34h2v2h-2z" fill="#30a88a"/><path d="M12 0h2v2h-2zM14 0h2v2h-2zM18 0h2v2h-2zM22 0h2v2h-2zM26 0h2v2h-2zM34 0h2v2h-2zM2 2h2v2h-2zM6 2h2v2h-2zM14 2h2v2h-2zM22 2h2v2h-2zM30 2h2v2h-2zM2 4h2v2h-2zM4 4h2v2h-2zM6 4h2v2h-2zM34 4h2v2h-2zM8 6h2v2h-2zM16 6h2v2h-2zM24 6h2v2h-2zM6 8h2v2h-2zM8 8h2v2h-2zM12 8h2v2h-2zM14 8h2v2h-2zM32 8h2v2h-2zM10 10h2v2h-2zM28 10h2v2h-2zM30 10h2v2h-2zM32 10h2v2h-2zM0 12h2v2h-2zM2 12h2v2h-2zM8 12h2v2h-2zM20 12h2v2h-2zM22 12h2v2h-2zM24 12h2v2h-2zM28 12h2v2h-2zM30 12h2v2h-2zM10 14h2v2h-2zM12 14h2v2h-2zM14 14h2v2h-2zM18 14h2v2h-2zM20 14h2v2h-2zM28 14h2v2h-2zM32 14h2v2h-2zM34 14h2v2h-2zM10 16h2v2h-2zM18 16h2v2h-2zM22 16h2v2h-2zM30 16h2v2h-2zM32 16h2v2h-2zM34 16h2v2h-2zM2 18h2v2h-2zM10 18h2v2h-2zM12 18h2v2h-2zM14 18h2v2h-2zM24 18h2v2h-2zM26 18h2v2h-2zM28 18h2v2h-2zM32 18h2v2h-2zM4 20h2v2h-2zM8 20h2v2h-2zM14 20h2v2h-2zM16 20h2v2h-2zM20 20h2v2h-2zM26 20h2v2h-2zM28 20h2v2h-2zM30 20h2v2h-2zM6 22h2v2h-2zM12 22h2v2h-2zM14 22h2v2h-2zM18 22h2v2h-2zM24 22h2v2h-2zM26 22h2v2h-2zM30 22h2v2h-2zM32 22h2v2h-2zM0 24h2v2h-2zM2 24h2v2h-2zM12 24h2v2h-2zM14 24h2v2h-2zM26 24h2v2h-2zM32 24h2v2h-2zM34 24h2v2h-2zM2 26h2v2h-2zM4 26h2v2h-2zM6 26h2v2h-2zM14 26h2v2h-2zM20 26h2v2h-2zM26 26h2v2h-2zM32 26h2v2h-2zM34 26h2v2h-2zM4 28h2v2h-2zM12 28h2v2h-2zM20 28h2v2h-2zM34 28h2v2h-2zM0 30h2v2h-2zM6 30h2v2h-2zM8 30h2v2h-2zM10 30h2v2h-2zM14 30h2v2h-2zM16 30h2v2h-2zM28 30h2v2h-2zM32 30h2v2h-2zM10 32h2v2h-2zM14 32h2v2h-2zM20 32h2v2h-2zM32 32h2v2h-2zM0 34h2v2h-2zM4 34h2v2h-2zM8 34h2v2h-2zM16 34h2v2h-2zM18 34h2v2h-2zM20 34h2v2h-2zM24 34h2v2h-2zM26 34h2v2h-2zM34 34h2v2h-2z" fill="#cdf2c8"/><path d="M8 2h2v2h-2zM34 2h2v2h-2zM10 6h2v2h-2zM8 10h2v2h-2zM26 10h2v2h-2zM32 12h2v2h-2zM24 14h2v2h-2zM34 18h2v2h-2zM22 24h2v2h-2zM28 24h2v2h-2zM24 28h2v2h-2zM30 30h2v2h-2zM2 32h2v2h-2zM22 32h2v2h-2zM22 34h2v2h-2z" fill="#f79e48"/><path d="M22 4h2v2h-2zM28 4h2v2h-2zM32 6h2v2h-2zM16 8h2v2h-2zM18 8h2v2h-2zM26 8h2v2h-2zM18 10h2v2h-2zM22 10h2v2h-2zM34 10h2v2h-2zM12 16h2v2h-2zM0 18h2v2h-2zM8 24h2v2h-2zM8 26h2v2h-2zM32 28h2v2h-2zM4 30h2v2h-2zM22 30h2v2h-2zM32 34h2v2h-2z" fill="#168087"/><path d="M28 6h2v2h-2zM2 8h2v2h-2zM6 12h2v2h-2zM16 18h2v2h-2zM28 26h2v2h-2zM6 32h2v2h-2zM16 32h2v2h-2z" fill="#fdd558"/></pattern><pattern id="P2_103" width="36" height="36" patternUnits="userSpaceOnUse"><path d="M0 0h2v2h-2zM2 0h2v2h-2zM18 0h2v2h-2zM32 0h2v2h-2zM34 0h2v2h-2zM18 2h2v2h-2zM30 2h2v2h-2zM2 4h2v2h-2zM6 4h2v2h-2zM8 4h2v2h-2zM2 6h2v2h-2zM8 6h2v2h-2zM14 6h2v2h-2zM22 6h2v2h-2zM34 6h2v2h-2zM0 8h2v2h-2zM2 8h2v2h-2zM26 8h2v2h-2zM34 8h2v2h-2zM16 10h2v2h-2zM20 10h2v2h-2zM22 10h2v2h-2zM34 10h2v2h-2zM6 12h2v2h-2zM12 12h2v2h-2zM18 12h2v2h-2zM20 12h2v2h-2zM34 12h2v2h-2zM0 14h2v2h-2zM4 14h2v2h-2zM10 14h2v2h-2zM16 14h2v2h-2zM24 14h2v2h-2zM34 14h2v2h-2zM6 16h2v2h-2zM14 16h2v2h-2zM24 16h2v2h-2zM32 16h2v2h-2zM6 18h2v2h-2zM14 18h2v2h-2zM16 18h2v2h-2zM28 18h2v2h-2zM30 18h2v2h-2zM4 20h2v2h-2zM6 20h2v2h-2zM10 20h2v2h-2zM12 20h2v2h-2zM14 20h2v2h-2zM26 20h2v2h-2zM28 20h2v2h-2zM6 22h2v2h-2zM14 22h2v2h-2zM2 24h2v2h-2zM6 24h2v2h-2zM8 24h2v2h-2zM32 24h2v2h-2zM10 26h2v2h-2zM30 26h2v2h-2zM4 28h2v2h-2zM10 28h2v2h-2zM12 28h2v2h-2zM18 28h2v2h-2zM22 28h2v2h-2zM28 28h2v2h-2zM6 30h2v2h-2zM16 30h2v2h-2zM24 30h2v2h-2zM26 30h2v2h-2zM28 30h2v2h-2zM34 30h2v2h-2zM2 32h2v2h-2zM4 32h2v2h-2zM10 32h2v2h-2zM30 32h2v2h-2zM0 34h2v2h-2zM12 34h2v2h-2zM24 34h2v2h-2z" fill="#7dd4a2"/><path d="M4 0h2v2h-2zM12 0h2v2h-2zM10 2h2v2h-2zM12 2h2v2h-2zM20 2h2v2h-2zM22 2h2v2h-2zM24 2h2v2h-2zM4 4h2v2h-2zM14 4h2v2h-2zM18 4h2v2h-2zM20 4h2v2h-2zM24 4h2v2h-2zM26 4h2v2h-2zM32 4h2v2h-2zM34 4h2v2h-2zM0 6h2v2h-2zM6 6h2v2h-2zM24 6h2v2h-2zM28 6h2v2h-2zM30 6h2v2h-2zM14 8h2v2h-2zM22 8h2v2h-2zM32 8h2v2h-2zM4 10h2v2h-2zM6 10h2v2h-2zM8 10h2v2h-2zM10 10h2v2h-2zM12 10h2v2h-2zM18 10h2v2h-2zM24 10h2v2h-2zM26 10h2v2h-2zM32 10h2v2h-2zM4 12h2v2h-2zM14 12h2v2h-2zM22 12h2v2h-2zM20 14h2v2h-2zM22 14h2v2h-2zM26 14h2v2h-2zM28 14h2v2h-2zM8 16h2v2h-2zM12 16h2v2h-2zM16 16h2v2h-2zM18 16h2v2h-2zM22 16h2v2h-2zM26 16h2v2h-2zM28 16h2v2h-2zM30 16h2v2h-2zM0 18h2v2h-2zM8 18h2v2h-2zM12 18h2v2h-2zM22 18h2v2h-2zM26 18h2v2h-2zM32 18h2v2h-2zM34 18h2v2h-2zM0 20h2v2h-2zM8 20h2v2h-2zM16 20h2v2h-2zM18 20h2v2h-2zM20 20h2v2h-2zM24 20h2v2h-2zM30 20h2v2h-2zM34 20h2v2h-2zM24 22h2v2h-2zM28 22h2v2h-2zM4 24h2v2h-2zM12 24h2v2h-2zM14 24h2v2h-2zM24 24h2v2h-2zM30 24h2v2h-2zM8 26h2v2h-2zM14 26h2v2h-2zM16 26h2v2h-2zM32 26h2v2h-2zM8 28h2v2h-2zM14 28h2v2h-2zM30 28h2v2h-2zM4 30h2v2h-2zM10 30h2v2h-2zM12 30h2v2h-2zM22 30h2v2h-2zM6 32h2v2h-2zM14 32h2v2h-2zM22 32h2v2h-2zM24 32h2v2h-2zM34 32h2v2h-2zM18 34h2v2h-2zM22 34h2v2h-2zM28 34h2v2h-2zM32 34h2v2h-2zM34 34h2v2h-2z" fill="#168087"/><path d="M6 0h2v2h-2zM8 0h2v2h-2zM22 0h2v2h-2zM4 2h2v2h-2zM6 2h2v2h-2zM14 2h2v2h-2zM0 4h2v2h-2zM10 4h2v2h-2zM12 4h2v2h-2zM22 4h2v2h-2zM30 4h2v2h-2zM10 6h2v2h-2zM16 6h2v2h-2zM26 6h2v2h-2zM8 8h2v2h-2zM10 8h2v2h-2zM18 8h2v2h-2zM20 8h2v2h-2zM24 8h2v2h-2zM28 8h2v2h-2zM0 10h2v2h-2zM2 12h2v2h-2zM2 14h2v2h-2zM6 14h2v2h-2zM8 14h2v2h-2zM30 14h2v2h-2zM32 14h2v2h-2zM2 16h2v2h-2zM10 16h2v2h-2zM2 18h2v2h-2zM18 18h2v2h-2zM20 18h2v2h-2zM4 22h2v2h-2zM12 22h2v2h-2zM18 22h2v2h-2zM20 22h2v2h-2zM22 22h2v2h-2zM26 22h2v2h-2zM34 22h2v2h-2zM0 24h2v2h-2zM10 24h2v2h-2zM16 24h2v2h-2zM18 24h2v2h-2zM28 24h2v2h-2zM6 26h2v2h-2zM18 26h2v2h-2zM22 26h2v2h-2zM6 28h2v2h-2zM16 28h2v2h-2zM0 30h2v2h-2zM8 30h2v2h-2zM30 30h2v2h-2zM8 32h2v2h-2zM12 32h2v2h-2zM18 32h2v2h-2zM2 34h2v2h-2zM4 34h2v2h-2zM6 34h2v2h-2zM8 34h2v2h-2zM16 34h2v2h-2z" fill="#30a88a"/><path d="M10 0h2v2h-2zM14 0h2v2h-2zM16 0h2v2h-2zM20 0h2v2h-2zM26 0h2v2h-2zM2 2h2v2h-2zM8 2h2v2h-2zM26 2h2v2h-2zM34 2h2v2h-2zM4 6h2v2h-2zM12 6h2v2h-2zM20 6h2v2h-2zM16 8h2v2h-2zM28 10h2v2h-2zM30 10h2v2h-2zM30 12h2v2h-2zM0 16h2v2h-2zM2 20h2v2h-2zM22 20h2v2h-2zM8 22h2v2h-2zM10 22h2v2h-2zM20 24h2v2h-2zM22 24h2v2h-2zM2 26h2v2h-2zM32 28h2v2h-2zM34 28h2v2h-2zM2 30h2v2h-2zM18 30h2v2h-2zM0 32h2v2h-2zM16 32h2v2h-2zM26 32h2v2h-2zM28 32h2v2h-2zM32 32h2v2h-2zM14 34h2v2h-2zM20 34h2v2h-2zM26 34h2v2h-2z" fill="#164e96"/><path d="M24 0h2v2h-2zM28 0h2v2h-2zM30 0h2v2h-2zM16 2h2v2h-2zM32 2h2v2h-2zM16 4h2v2h-2zM28 4h2v2h-2zM32 6h2v2h-2zM4 8h2v2h-2zM6 8h2v2h-2zM12 8h2v2h-2zM30 8h2v2h-2zM0 12h2v2h-2zM8 12h2v2h-2zM10 12h2v2h-2zM16 12h2v2h-2zM26 12h2v2h-2zM28 12h2v2h-2zM12 14h2v2h-2zM14 14h2v2h-2zM18 14h2v2h-2zM4 16h2v2h-2zM20 16h2v2h-2zM34 16h2v2h-2zM4 18h2v2h-2zM10 18h2v2h-2zM24 18h2v2h-2zM32 20h2v2h-2zM0 22h2v2h-2zM2 22h2v2h-2zM16 22h2v2h-2zM30 22h2v2h-2zM32 22h2v2h-2zM26 24h2v2h-2zM34 24h2v2h-2zM4 26h2v2h-2zM12 26h2v2h-2zM20 26h2v2h-2zM24 26h2v2h-2zM28 26h2v2h-2zM34 26h2v2h-2zM0 28h2v2h-2zM2 28h2v2h-2zM20 28h2v2h-2zM26 28h2v2h-2zM14 30h2v2h-2zM20 30h2v2h-2zM20 32h2v2h-2zM10 34h2v2h-2z" fill="#cdf2c8"/><path d="M0 2h2v2h-2zM28 2h2v2h-2zM18 6h2v2h-2zM2 10h2v2h-2zM14 10h2v2h-2zM24 12h2v2h-2zM32 12h2v2h-2zM0 26h2v2h-2zM26 26h2v2h-2zM24 28h2v2h-2zM32 30h2v2h-2zM30 34h2v2h-2z" fill="#f6f6ee"/></pattern><pattern id="P2_108" width="36" height="36" patternUnits="userSpaceOnUse"><path d="M0 0h2v2h-2zM30 0h2v2h-2zM10 2h2v2h-2zM12 2h2v2h-2zM28 2h2v2h-2zM0 4h2v2h-2zM8 4h2v2h-2zM22 4h2v2h-2zM30 6h2v2h-2zM4 8h2v2h-2zM10 8h2v2h-2zM12 8h2v2h-2zM24 8h2v2h-2zM34 8h2v2h-2zM16 10h2v2h-2zM24 10h2v2h-2zM18 12h2v2h-2zM4 14h2v2h-2zM6 14h2v2h-2zM24 14h2v2h-2zM26 14h2v2h-2zM28 14h2v2h-2zM30 14h2v2h-2zM12 16h2v2h-2zM26 16h2v2h-2zM4 20h2v2h-2zM30 20h2v2h-2zM12 22h2v2h-2zM22 22h2v2h-2zM6 24h2v2h-2zM0 26h2v2h-2zM30 26h2v2h-2zM4 28h2v2h-2zM6 28h2v2h-2zM24 28h2v2h-2zM34 28h2v2h-2zM12 30h2v2h-2zM8 32h2v2h-2zM18 32h2v2h-2zM30 32h2v2h-2zM26 34h2v2h-2zM28 34h2v2h-2zM34 34h2v2h-2z" fill="#168087"/><path d="M2 0h2v2h-2zM6 0h2v2h-2zM14 0h2v2h-2zM18 0h2v2h-2zM6 2h2v2h-2zM8 2h2v2h-2zM18 2h2v2h-2zM20 2h2v2h-2zM24 2h2v2h-2zM4 4h2v2h-2zM6 4h2v2h-2zM12 4h2v2h-2zM18 4h2v2h-2zM24 4h2v2h-2zM2 6h2v2h-2zM4 6h2v2h-2zM12 6h2v2h-2zM14 6h2v2h-2zM28 6h2v2h-2zM32 6h2v2h-2zM6 8h2v2h-2zM20 8h2v2h-2zM22 8h2v2h-2zM30 8h2v2h-2zM32 8h2v2h-2zM28 10h2v2h-2zM20 12h2v2h-2zM24 12h2v2h-2zM26 12h2v2h-2zM28 12h2v2h-2zM32 12h2v2h-2zM2 14h2v2h-2zM10 14h2v2h-2zM32 14h2v2h-2zM6 16h2v2h-2zM18 16h2v2h-2zM24 16h2v2h-2zM28 16h2v2h-2zM34 16h2v2h-2zM2 18h2v2h-2zM12 18h2v2h-2zM18 18h2v2h-2zM20 18h2v2h-2zM24 18h2v2h-2zM28 18h2v2h-2zM8 20h2v2h-2zM10 20h2v2h-2zM12 20h2v2h-2zM14 20h2v2h-2zM18 20h2v2h-2zM32 20h2v2h-2zM2 22h2v2h-2zM4 22h2v2h-2zM6 22h2v2h-2zM18 22h2v2h-2zM28 22h2v2h-2zM34 22h2v2h-2zM10 24h2v2h-2zM12 24h2v2h-2zM14 24h2v2h-2zM16 24h2v2h-2zM20 24h2v2h-2zM28 24h2v2h-2zM30 24h2v2h-2zM32 24h2v2h-2zM2 26h2v2h-2zM4 26h2v2h-2zM6 26h2v2h-2zM8 26h2v2h-2zM14 26h2v2h-2zM16 26h2v2h-2zM2 28h2v2h-2zM20 28h2v2h-2zM28 28h2v2h-2zM28 30h2v2h-2zM32 30h2v2h-2zM34 30h2v2h-2zM0 32h2v2h-2zM16 32h2v2h-2zM28 32h2v2h-2zM34 32h2v2h-2zM4 34h2v2h-2zM6 34h2v2h-2zM20 34h2v2h-2z" fill="#7dd4a2"/><path d="M4 0h2v2h-2zM12 0h2v2h-2zM32 0h2v2h-2zM34 0h2v2h-2zM4 2h2v2h-2zM14 4h2v2h-2zM28 4h2v2h-2zM32 4h2v2h-2zM0 6h2v2h-2zM8 6h2v2h-2zM18 6h2v2h-2zM26 6h2v2h-2zM0 8h2v2h-2zM2 10h2v2h-2zM4 10h2v2h-2zM6 10h2v2h-2zM14 10h2v2h-2zM22 10h2v2h-2zM0 12h2v2h-2zM8 12h2v2h-2zM12 12h2v2h-2zM16 12h2v2h-2zM22 12h2v2h-2zM30 12h2v2h-2zM12 14h2v2h-2zM16 14h2v2h-2zM22 14h2v2h-2zM14 16h2v2h-2zM20 16h2v2h-2zM0 18h2v2h-2zM14 18h2v2h-2zM32 18h2v2h-2zM16 20h2v2h-2zM24 20h2v2h-2zM34 20h2v2h-2zM8 22h2v2h-2zM10 22h2v2h-2zM24 22h2v2h-2zM26 22h2v2h-2zM32 22h2v2h-2zM22 24h2v2h-2zM26 24h2v2h-2zM34 24h2v2h-2zM12 26h2v2h-2zM22 26h2v2h-2zM12 28h2v2h-2zM0 30h2v2h-2zM14 30h2v2h-2zM22 30h2v2h-2zM24 30h2v2h-2zM22 32h2v2h-2zM24 32h2v2h-2zM32 32h2v2h-2zM2 34h2v2h-2zM14 34h2v2h-2zM22 34h2v2h-2zM30 34h2v2h-2z" fill="#30a88a"/><path d="M8 0h2v2h-2zM16 0h2v2h-2zM20 0h2v2h-2zM22 0h2v2h-2zM24 0h2v2h-2zM2 2h2v2h-2zM14 2h2v2h-2zM16 4h2v2h-2zM20 4h2v2h-2zM26 4h2v2h-2zM34 4h2v2h-2zM6 6h2v2h-2zM22 6h2v2h-2zM2 8h2v2h-2zM16 8h2v2h-2zM20 10h2v2h-2zM26 10h2v2h-2zM2 12h2v2h-2zM4 12h2v2h-2zM18 14h2v2h-2zM34 14h2v2h-2zM22 20h2v2h-2zM28 20h2v2h-2zM20 22h2v2h-2zM4 24h2v2h-2zM18 24h2v2h-2zM10 26h2v2h-2zM18 26h2v2h-2zM8 28h2v2h-2zM26 28h2v2h-2zM32 28h2v2h-2zM0 34h2v2h-2zM10 34h2v2h-2zM12 34h2v2h-2z" fill="#fef6b6"/><path d="M10 0h2v2h-2zM26 0h2v2h-2zM0 2h2v2h-2zM16 2h2v2h-2zM22 2h2v2h-2zM26 2h2v2h-2zM30 2h2v2h-2zM32 2h2v2h-2zM34 2h2v2h-2zM2 4h2v2h-2zM30 4h2v2h-2zM10 6h2v2h-2zM20 6h2v2h-2zM24 6h2v2h-2zM34 6h2v2h-2zM8 8h2v2h-2zM14 8h2v2h-2zM28 8h2v2h-2zM0 10h2v2h-2zM8 10h2v2h-2zM18 10h2v2h-2zM32 10h2v2h-2zM34 10h2v2h-2zM14 12h2v2h-2zM34 12h2v2h-2zM0 14h2v2h-2zM8 14h2v2h-2zM14 14h2v2h-2zM20 14h2v2h-2zM2 16h2v2h-2zM8 16h2v2h-2zM10 16h2v2h-2zM16 16h2v2h-2zM30 16h2v2h-2zM32 16h2v2h-2zM4 18h2v2h-2zM6 18h2v2h-2zM8 18h2v2h-2zM10 18h2v2h-2zM16 18h2v2h-2zM30 18h2v2h-2zM34 18h2v2h-2zM0 20h2v2h-2zM2 20h2v2h-2zM20 20h2v2h-2zM26 20h2v2h-2zM16 22h2v2h-2zM0 24h2v2h-2zM2 24h2v2h-2zM8 24h2v2h-2zM20 26h2v2h-2zM24 26h2v2h-2zM26 26h2v2h-2zM28 26h2v2h-2zM32 26h2v2h-2zM34 26h2v2h-2zM0 28h2v2h-2zM16 28h2v2h-2zM22 28h2v2h-2zM30 28h2v2h-2zM4 30h2v2h-2zM6 30h2v2h-2zM8 30h2v2h-2zM10 30h2v2h-2zM16 30h2v2h-2zM18 30h2v2h-2zM20 30h2v2h-2zM2 32h2v2h-2zM10 32h2v2h-2zM12 32h2v2h-2zM14 32h2v2h-2zM20 32h2v2h-2zM26 32h2v2h-2zM16 34h2v2h-2zM18 34h2v2h-2zM24 34h2v2h-2zM32 34h2v2h-2z" fill="#cdf2c8"/><path d="M28 0h2v2h-2zM26 8h2v2h-2zM30 10h2v2h-2zM10 12h2v2h-2zM0 16h2v2h-2zM4 16h2v2h-2zM26 18h2v2h-2zM0 22h2v2h-2zM14 22h2v2h-2zM30 22h2v2h-2zM24 24h2v2h-2zM10 28h2v2h-2zM14 28h2v2h-2zM18 28h2v2h-2zM8 34h2v2h-2z" fill="#164e96"/><path d="M10 4h2v2h-2zM16 6h2v2h-2zM18 8h2v2h-2zM10 10h2v2h-2zM12 10h2v2h-2zM6 12h2v2h-2zM22 16h2v2h-2zM22 18h2v2h-2zM6 20h2v2h-2zM2 30h2v2h-2zM26 30h2v2h-2zM30 30h2v2h-2zM4 32h2v2h-2zM6 32h2v2h-2z" fill="#f79e48"/></pattern><pattern id="P2_116" width="36" height="36" patternUnits="userSpaceOnUse"><path d="M0 0h2v2h-2zM2 0h2v2h-2zM4 0h2v2h-2zM8 0h2v2h-2zM16 0h2v2h-2zM20 0h2v2h-2zM34 0h2v2h-2zM6 2h2v2h-2zM12 2h2v2h-2zM28 2h2v2h-2zM32 2h2v2h-2zM34 2h2v2h-2zM14 4h2v2h-2zM22 4h2v2h-2zM26 4h2v2h-2zM32 4h2v2h-2zM0 6h2v2h-2zM8 6h2v2h-2zM10 6h2v2h-2zM16 6h2v2h-2zM20 6h2v2h-2zM24 6h2v2h-2zM32 6h2v2h-2zM2 8h2v2h-2zM8 8h2v2h-2zM10 8h2v2h-2zM18 8h2v2h-2zM28 8h2v2h-2zM30 8h2v2h-2zM14 10h2v2h-2zM22 10h2v2h-2zM34 10h2v2h-2zM4 12h2v2h-2zM6 12h2v2h-2zM10 12h2v2h-2zM18 12h2v2h-2zM24 12h2v2h-2zM34 12h2v2h-2zM0 14h2v2h-2zM2 14h2v2h-2zM8 14h2v2h-2zM10 14h2v2h-2zM14 14h2v2h-2zM16 14h2v2h-2zM20 14h2v2h-2zM26 14h2v2h-2zM34 14h2v2h-2zM2 16h2v2h-2zM4 16h2v2h-2zM16 16h2v2h-2zM18 16h2v2h-2zM22 16h2v2h-2zM24 16h2v2h-2zM28 16h2v2h-2zM30 16h2v2h-2zM34 16h2v2h-2zM0 18h2v2h-2zM2 18h2v2h-2zM16 18h2v2h-2zM20 18h2v2h-2zM26 18h2v2h-2zM28 18h2v2h-2zM34 18h2v2h-2zM6 20h2v2h-2zM12 20h2v2h-2zM16 20h2v2h-2zM20 20h2v2h-2zM4 22h2v2h-2zM10 22h2v2h-2zM12 22h2v2h-2zM28 22h2v2h-2zM30 22h2v2h-2zM2 24h2v2h-2zM4 24h2v2h-2zM10 24h2v2h-2zM24 24h2v2h-2zM30 24h2v2h-2zM32 24h2v2h-2zM34 24h2v2h-2zM0 26h2v2h-2zM2 26h2v2h-2zM8 26h2v2h-2zM22 26h2v2h-2zM24 26h2v2h-2zM32 26h2v2h-2zM0 28h2v2h-2zM2 28h2v2h-2zM6 28h2v2h-2zM18 28h2v2h-2zM20 28h2v2h-2zM24 28h2v2h-2zM4 30h2v2h-2zM14 30h2v2h-2zM18 30h2v2h-2zM22 30h2v2h-2zM32 30h2v2h-2zM0 32h2v2h-2zM2 32h2v2h-2zM4 32h2v2h-2zM14 32h2v2h-2zM20 32h2v2h-2zM28 32h2v2h-2zM32 32h2v2h-2zM34 32h2v2h-2zM0 34h2v2h-2zM6 34h2v2h-2zM14 34h2v2h-2zM16 34h2v2h-2zM20 34h2v2h-2zM22 34h2v2h-2zM32 34h2v2h-2z" fill="#168087"/><path d="M6 0h2v2h-2zM10 0h2v2h-2zM12 0h2v2h-2zM14 0h2v2h-2zM24 0h2v2h-2zM26 0h2v2h-2zM28 0h2v2h-2zM30 0h2v2h-2zM2 2h2v2h-2zM10 2h2v2h-2zM16 2h2v2h-2zM20 2h2v2h-2zM22 2h2v2h-2zM26 2h2v2h-2zM30 2h2v2h-2zM0 4h2v2h-2zM4 4h2v2h-2zM12 4h2v2h-2zM16 4h2v2h-2zM20 4h2v2h-2zM28 4h2v2h-2zM2 6h2v2h-2zM4 6h2v2h-2zM12 6h2v2h-2zM14 6h2v2h-2zM18 6h2v2h-2zM22 6h2v2h-2zM28 6h2v2h-2zM4 8h2v2h-2zM14 8h2v2h-2zM22 8h2v2h-2zM24 8h2v2h-2zM32 8h2v2h-2zM34 8h2v2h-2zM2 10h2v2h-2zM8 10h2v2h-2zM20 10h2v2h-2zM24 10h2v2h-2zM28 10h2v2h-2zM32 10h2v2h-2zM2 12h2v2h-2zM8 12h2v2h-2zM14 12h2v2h-2zM16 12h2v2h-2zM20 12h2v2h-2zM26 12h2v2h-2zM30 12h2v2h-2zM18 14h2v2h-2zM24 14h2v2h-2zM28 14h2v2h-2zM20 16h2v2h-2zM26 16h2v2h-2zM32 16h2v2h-2zM24 18h2v2h-2zM30 18h2v2h-2zM0 20h2v2h-2zM18 20h2v2h-2zM22 20h2v2h-2zM30 20h2v2h-2zM34 20h2v2h-2zM2 22h2v2h-2zM16 22h2v2h-2zM22 22h2v2h-2zM32 22h2v2h-2zM8 24h2v2h-2zM14 24h2v2h-2zM26 24h2v2h-2zM12 26h2v2h-2zM16 26h2v2h-2zM28 26h2v2h-2zM34 26h2v2h-2zM4 28h2v2h-2zM26 28h2v2h-2zM0 30h2v2h-2zM2 30h2v2h-2zM12 30h2v2h-2zM28 30h2v2h-2zM30 30h2v2h-2zM8 32h2v2h-2zM10 34h2v2h-2zM24 34h2v2h-2zM28 34h2v2h-2zM30 34h2v2h-2z" fill="#164e96"/><path d="M18 0h2v2h-2zM22 0h2v2h-2zM0 2h2v2h-2zM4 2h2v2h-2zM8 2h2v2h-2zM14 2h2v2h-2zM24 2h2v2h-2zM8 4h2v2h-2zM18 4h2v2h-2zM30 4h2v2h-2zM34 4h2v2h-2zM30 6h2v2h-2zM6 8h2v2h-2zM12 8h2v2h-2zM0 10h2v2h-2zM4 10h2v2h-2zM6 10h2v2h-2zM10 10h2v2h-2zM12 10h2v2h-2zM16 10h2v2h-2zM18 10h2v2h-2zM26 10h2v2h-2zM30 10h2v2h-2zM22 12h2v2h-2zM32 12h2v2h-2zM4 14h2v2h-2zM6 14h2v2h-2zM12 14h2v2h-2zM22 14h2v2h-2zM32 14h2v2h-2zM6 16h2v2h-2zM10 16h2v2h-2zM12 16h2v2h-2zM14 16h2v2h-2zM4 18h2v2h-2zM8 18h2v2h-2zM18 18h2v2h-2zM10 20h2v2h-2zM26 20h2v2h-2zM28 20h2v2h-2zM0 22h2v2h-2zM6 22h2v2h-2zM24 22h2v2h-2zM26 22h2v2h-2zM6 24h2v2h-2zM12 24h2v2h-2zM16 24h2v2h-2zM18 24h2v2h-2zM20 24h2v2h-2zM22 24h2v2h-2zM28 24h2v2h-2zM10 26h2v2h-2zM14 26h2v2h-2zM18 26h2v2h-2zM26 26h2v2h-2zM30 26h2v2h-2zM8 28h2v2h-2zM14 28h2v2h-2zM22 28h2v2h-2zM28 28h2v2h-2zM30 28h2v2h-2zM32 28h2v2h-2zM34 28h2v2h-2zM6 30h2v2h-2zM10 30h2v2h-2zM16 30h2v2h-2zM24 30h2v2h-2zM34 30h2v2h-2zM12 32h2v2h-2zM16 32h2v2h-2zM24 32h2v2h-2zM26 32h2v2h-2zM30 32h2v2h-2zM2 34h2v2h-2zM18 34h2v2h-2zM26 34h2v2h-2zM34 34h2v2h-2z" fill="#30a88a"/><path d="M32 0h2v2h-2zM6 6h2v2h-2zM0 8h2v2h-2zM0 12h2v2h-2zM28 12h2v2h-2zM30 14h2v2h-2zM0 16h2v2h-2zM6 18h2v2h-2zM10 18h2v2h-2zM32 18h2v2h-2zM8 20h2v2h-2zM8 22h2v2h-2zM18 22h2v2h-2zM34 22h2v2h-2zM0 24h2v2h-2zM22 32h2v2h-2zM8 34h2v2h-2z" fill="#cdf2c8"/><path d="M18 2h2v2h-2zM2 4h2v2h-2zM6 4h2v2h-2zM10 4h2v2h-2zM24 4h2v2h-2zM26 6h2v2h-2zM34 6h2v2h-2zM16 8h2v2h-2zM20 8h2v2h-2zM26 8h2v2h-2zM12 12h2v2h-2zM8 16h2v2h-2zM12 18h2v2h-2zM14 18h2v2h-2zM22 18h2v2h-2zM2 20h2v2h-2zM4 20h2v2h-2zM14 20h2v2h-2zM24 20h2v2h-2zM32 20h2v2h-2zM14 22h2v2h-2zM20 22h2v2h-2zM4 26h2v2h-2zM6 26h2v2h-2zM20 26h2v2h-2zM10 28h2v2h-2zM12 28h2v2h-2zM16 28h2v2h-2zM8 30h2v2h-2zM20 30h2v2h-2zM26 30h2v2h-2zM6 32h2v2h-2zM10 32h2v2h-2zM18 32h2v2h-2zM4 34h2v2h-2zM12 34h2v2h-2z" fill="#7dd4a2"/></pattern><pattern id="P2_111" width="36" height="36" patternUnits="userSpaceOnUse"><path d="M0 0h2v2h-2zM8 0h2v2h-2zM24 0h2v2h-2zM4 2h2v2h-2zM14 2h2v2h-2zM10 4h2v2h-2zM18 4h2v2h-2zM22 4h2v2h-2zM24 4h2v2h-2zM30 4h2v2h-2zM32 4h2v2h-2zM2 6h2v2h-2zM4 6h2v2h-2zM6 6h2v2h-2zM12 6h2v2h-2zM22 6h2v2h-2zM28 6h2v2h-2zM34 6h2v2h-2zM4 8h2v2h-2zM10 8h2v2h-2zM32 8h2v2h-2zM10 10h2v2h-2zM28 10h2v2h-2zM34 10h2v2h-2zM8 12h2v2h-2zM10 12h2v2h-2zM32 12h2v2h-2zM8 14h2v2h-2zM12 14h2v2h-2zM32 14h2v2h-2zM4 16h2v2h-2zM16 16h2v2h-2zM18 16h2v2h-2zM28 16h2v2h-2zM30 16h2v2h-2zM2 18h2v2h-2zM18 18h2v2h-2zM32 18h2v2h-2zM6 20h2v2h-2zM12 20h2v2h-2zM24 20h2v2h-2zM30 20h2v2h-2zM6 22h2v2h-2zM8 22h2v2h-2zM14 22h2v2h-2zM20 22h2v2h-2zM22 22h2v2h-2zM0 24h2v2h-2zM2 24h2v2h-2zM16 24h2v2h-2zM26 24h2v2h-2zM32 24h2v2h-2zM4 26h2v2h-2zM6 26h2v2h-2zM12 26h2v2h-2zM30 26h2v2h-2zM32 26h2v2h-2zM12 28h2v2h-2zM16 28h2v2h-2zM20 28h2v2h-2zM24 28h2v2h-2zM26 28h2v2h-2zM34 28h2v2h-2zM0 30h2v2h-2zM4 30h2v2h-2zM8 30h2v2h-2zM12 30h2v2h-2zM18 30h2v2h-2zM28 30h2v2h-2zM10 32h2v2h-2zM16 32h2v2h-2zM22 32h2v2h-2zM4 34h2v2h-2zM22 34h2v2h-2z" fill="#f79e48"/><path d="M2 0h2v2h-2zM12 0h2v2h-2zM18 0h2v2h-2zM22 0h2v2h-2zM6 2h2v2h-2zM8 2h2v2h-2zM16 2h2v2h-2zM22 2h2v2h-2zM28 2h2v2h-2zM30 2h2v2h-2zM2 10h2v2h-2zM6 10h2v2h-2zM22 10h2v2h-2zM18 12h2v2h-2zM4 14h2v2h-2zM16 14h2v2h-2zM22 14h2v2h-2zM0 16h2v2h-2zM22 16h2v2h-2zM32 16h2v2h-2zM8 18h2v2h-2zM22 18h2v2h-2zM0 20h2v2h-2zM18 20h2v2h-2zM28 20h2v2h-2zM34 20h2v2h-2zM0 22h2v2h-2zM2 22h2v2h-2zM6 24h2v2h-2zM12 24h2v2h-2zM20 26h2v2h-2zM10 28h2v2h-2zM22 28h2v2h-2zM28 28h2v2h-2zM26 30h2v2h-2zM30 30h2v2h-2zM12 32h2v2h-2zM32 32h2v2h-2zM0 34h2v2h-2zM2 34h2v2h-2zM6 34h2v2h-2zM8 34h2v2h-2z" fill="#b9231e"/><path d="M4 0h2v2h-2zM6 0h2v2h-2zM14 0h2v2h-2zM26 0h2v2h-2zM30 0h2v2h-2zM34 0h2v2h-2zM10 2h2v2h-2zM20 2h2v2h-2zM26 2h2v2h-2zM6 4h2v2h-2zM14 4h2v2h-2zM8 6h2v2h-2zM16 6h2v2h-2zM18 6h2v2h-2zM20 6h2v2h-2zM0 8h2v2h-2zM6 8h2v2h-2zM18 8h2v2h-2zM20 8h2v2h-2zM26 8h2v2h-2zM28 8h2v2h-2zM30 8h2v2h-2zM34 8h2v2h-2zM12 10h2v2h-2zM24 10h2v2h-2zM26 10h2v2h-2zM0 12h2v2h-2zM0 14h2v2h-2zM26 14h2v2h-2zM30 14h2v2h-2zM2 16h2v2h-2zM26 16h2v2h-2zM24 18h2v2h-2zM30 18h2v2h-2zM8 20h2v2h-2zM16 20h2v2h-2zM22 20h2v2h-2zM12 22h2v2h-2zM14 24h2v2h-2zM0 26h2v2h-2zM2 26h2v2h-2zM10 26h2v2h-2zM18 26h2v2h-2zM26 26h2v2h-2zM28 26h2v2h-2zM2 28h2v2h-2zM4 28h2v2h-2zM8 28h2v2h-2zM32 28h2v2h-2zM2 30h2v2h-2zM14 30h2v2h-2zM24 30h2v2h-2zM0 32h2v2h-2zM20 32h2v2h-2zM24 34h2v2h-2zM32 34h2v2h-2z" fill="#fdd558"/><path d="M10 0h2v2h-2zM2 2h2v2h-2zM0 4h2v2h-2zM12 4h2v2h-2zM8 10h2v2h-2zM14 10h2v2h-2zM14 12h2v2h-2zM10 18h2v2h-2zM34 18h2v2h-2zM26 20h2v2h-2zM16 22h2v2h-2zM8 24h2v2h-2zM28 24h2v2h-2zM24 26h2v2h-2zM20 30h2v2h-2zM34 30h2v2h-2zM20 34h2v2h-2z" fill="#c5c4c4"/><path d="M16 0h2v2h-2zM12 2h2v2h-2zM18 2h2v2h-2zM34 2h2v2h-2zM8 4h2v2h-2zM2 8h2v2h-2zM16 10h2v2h-2zM2 12h2v2h-2zM4 12h2v2h-2zM6 12h2v2h-2zM24 12h2v2h-2zM28 12h2v2h-2zM30 12h2v2h-2zM10 16h2v2h-2zM14 18h2v2h-2zM26 18h2v2h-2zM10 20h2v2h-2zM26 22h2v2h-2zM30 22h2v2h-2zM22 24h2v2h-2zM14 26h2v2h-2zM10 30h2v2h-2zM22 30h2v2h-2zM4 32h2v2h-2zM8 32h2v2h-2zM14 32h2v2h-2zM18 32h2v2h-2zM24 32h2v2h-2zM28 32h2v2h-2zM18 34h2v2h-2zM30 34h2v2h-2z" fill="#fef6b6"/><path d="M20 0h2v2h-2zM28 0h2v2h-2zM32 0h2v2h-2zM0 2h2v2h-2zM24 2h2v2h-2zM32 2h2v2h-2zM2 4h2v2h-2zM20 4h2v2h-2zM26 4h2v2h-2zM28 4h2v2h-2zM34 4h2v2h-2zM0 6h2v2h-2zM10 6h2v2h-2zM14 6h2v2h-2zM24 6h2v2h-2zM30 6h2v2h-2zM32 6h2v2h-2zM8 8h2v2h-2zM12 8h2v2h-2zM14 8h2v2h-2zM16 8h2v2h-2zM22 8h2v2h-2zM24 8h2v2h-2zM0 10h2v2h-2zM4 10h2v2h-2zM18 10h2v2h-2zM20 10h2v2h-2zM30 10h2v2h-2zM32 10h2v2h-2zM12 12h2v2h-2zM16 12h2v2h-2zM20 12h2v2h-2zM26 12h2v2h-2zM34 12h2v2h-2zM2 14h2v2h-2zM10 14h2v2h-2zM14 14h2v2h-2zM18 14h2v2h-2zM20 14h2v2h-2zM24 14h2v2h-2zM28 14h2v2h-2zM34 14h2v2h-2zM6 16h2v2h-2zM8 16h2v2h-2zM14 16h2v2h-2zM20 16h2v2h-2zM24 16h2v2h-2zM34 16h2v2h-2zM0 18h2v2h-2zM4 18h2v2h-2zM12 18h2v2h-2zM16 18h2v2h-2zM20 18h2v2h-2zM28 18h2v2h-2zM2 20h2v2h-2zM4 20h2v2h-2zM14 20h2v2h-2zM20 20h2v2h-2zM32 20h2v2h-2zM4 22h2v2h-2zM10 22h2v2h-2zM18 22h2v2h-2zM24 22h2v2h-2zM28 22h2v2h-2zM32 22h2v2h-2zM34 22h2v2h-2zM4 24h2v2h-2zM10 24h2v2h-2zM18 24h2v2h-2zM20 24h2v2h-2zM24 24h2v2h-2zM30 24h2v2h-2zM34 24h2v2h-2zM8 26h2v2h-2zM16 26h2v2h-2zM22 26h2v2h-2zM34 26h2v2h-2zM0 28h2v2h-2zM6 28h2v2h-2zM14 28h2v2h-2zM18 28h2v2h-2zM30 28h2v2h-2zM6 30h2v2h-2zM16 30h2v2h-2zM2 32h2v2h-2zM6 32h2v2h-2zM26 32h2v2h-2zM30 32h2v2h-2zM34 32h2v2h-2zM10 34h2v2h-2zM12 34h2v2h-2zM26 34h2v2h-2zM34 34h2v2h-2z" fill="#e85526"/><path d="M4 4h2v2h-2zM16 4h2v2h-2zM26 6h2v2h-2zM22 12h2v2h-2zM6 14h2v2h-2zM12 16h2v2h-2zM6 18h2v2h-2zM32 30h2v2h-2zM14 34h2v2h-2zM16 34h2v2h-2zM28 34h2v2h-2z" fill="#7dd4a2"/></pattern><pattern id="P3_119" width="36" height="36" patternUnits="userSpaceOnUse"><path d="M0 0h2v2h-2zM10 0h2v2h-2zM20 0h2v2h-2zM24 0h2v2h-2zM30 0h2v2h-2zM0 2h2v2h-2zM2 2h2v2h-2zM12 2h2v2h-2zM22 2h2v2h-2zM34 2h2v2h-2zM8 4h2v2h-2zM16 4h2v2h-2zM18 4h2v2h-2zM28 4h2v2h-2zM32 4h2v2h-2zM0 6h2v2h-2zM10 6h2v2h-2zM14 6h2v2h-2zM30 6h2v2h-2zM32 6h2v2h-2zM2 8h2v2h-2zM4 8h2v2h-2zM10 8h2v2h-2zM12 8h2v2h-2zM16 8h2v2h-2zM28 8h2v2h-2zM32 8h2v2h-2zM34 8h2v2h-2zM6 10h2v2h-2zM14 10h2v2h-2zM24 10h2v2h-2zM30 10h2v2h-2zM0 12h2v2h-2zM6 12h2v2h-2zM8 12h2v2h-2zM10 12h2v2h-2zM12 12h2v2h-2zM14 12h2v2h-2zM18 12h2v2h-2zM30 12h2v2h-2zM32 12h2v2h-2zM34 12h2v2h-2zM2 14h2v2h-2zM10 14h2v2h-2zM12 14h2v2h-2zM24 14h2v2h-2zM4 16h2v2h-2zM20 16h2v2h-2zM26 16h2v2h-2zM34 16h2v2h-2zM8 18h2v2h-2zM16 18h2v2h-2zM24 18h2v2h-2zM34 18h2v2h-2zM2 20h2v2h-2zM12 20h2v2h-2zM16 20h2v2h-2zM20 20h2v2h-2zM26 20h2v2h-2zM34 20h2v2h-2zM10 22h2v2h-2zM24 22h2v2h-2zM26 22h2v2h-2zM28 22h2v2h-2zM34 22h2v2h-2zM4 24h2v2h-2zM6 24h2v2h-2zM16 24h2v2h-2zM22 24h2v2h-2zM34 24h2v2h-2zM2 26h2v2h-2zM8 26h2v2h-2zM12 26h2v2h-2zM16 26h2v2h-2zM18 26h2v2h-2zM20 26h2v2h-2zM22 26h2v2h-2zM24 26h2v2h-2zM26 26h2v2h-2zM30 26h2v2h-2zM0 28h2v2h-2zM2 28h2v2h-2zM6 28h2v2h-2zM10 28h2v2h-2zM20 28h2v2h-2zM22 28h2v2h-2zM30 28h2v2h-2zM34 28h2v2h-2zM2 30h2v2h-2zM6 30h2v2h-2zM8 30h2v2h-2zM12 30h2v2h-2zM18 30h2v2h-2zM20 30h2v2h-2zM34 30h2v2h-2zM8 32h2v2h-2zM14 32h2v2h-2zM24 32h2v2h-2zM28 32h2v2h-2zM30 32h2v2h-2zM34 32h2v2h-2zM4 34h2v2h-2zM8 34h2v2h-2zM16 34h2v2h-2zM18 34h2v2h-2z" fill="#cdf2c8"/><path d="M2 0h2v2h-2zM0 4h2v2h-2zM30 8h2v2h-2zM18 14h2v2h-2zM26 14h2v2h-2zM18 20h2v2h-2zM12 24h2v2h-2zM26 24h2v2h-2zM0 26h2v2h-2zM12 28h2v2h-2zM6 32h2v2h-2z" fill="#f79e48"/><path d="M4 0h2v2h-2zM6 0h2v2h-2zM14 0h2v2h-2zM18 0h2v2h-2zM8 2h2v2h-2zM10 2h2v2h-2zM32 2h2v2h-2zM2 4h2v2h-2zM4 4h2v2h-2zM20 4h2v2h-2zM22 4h2v2h-2zM26 4h2v2h-2zM4 6h2v2h-2zM6 6h2v2h-2zM8 6h2v2h-2zM0 8h2v2h-2zM14 8h2v2h-2zM18 8h2v2h-2zM20 8h2v2h-2zM24 8h2v2h-2zM2 10h2v2h-2zM4 10h2v2h-2zM16 10h2v2h-2zM22 10h2v2h-2zM32 10h2v2h-2zM16 12h2v2h-2zM22 12h2v2h-2zM28 14h2v2h-2zM30 14h2v2h-2zM2 16h2v2h-2zM14 16h2v2h-2zM16 16h2v2h-2zM18 16h2v2h-2zM22 16h2v2h-2zM0 18h2v2h-2zM2 18h2v2h-2zM6 18h2v2h-2zM26 18h2v2h-2zM30 18h2v2h-2zM8 20h2v2h-2zM30 20h2v2h-2zM0 22h2v2h-2zM30 22h2v2h-2zM0 24h2v2h-2zM8 24h2v2h-2zM18 24h2v2h-2zM24 24h2v2h-2zM30 24h2v2h-2zM14 26h2v2h-2zM28 26h2v2h-2zM16 28h2v2h-2zM26 28h2v2h-2zM32 28h2v2h-2zM4 30h2v2h-2zM16 30h2v2h-2zM22 30h2v2h-2zM24 30h2v2h-2zM12 32h2v2h-2zM22 32h2v2h-2zM32 32h2v2h-2zM0 34h2v2h-2zM10 34h2v2h-2z" fill="#7dd4a2"/><path d="M8 0h2v2h-2zM28 0h2v2h-2zM18 2h2v2h-2zM2 6h2v2h-2zM16 6h2v2h-2zM6 8h2v2h-2zM26 8h2v2h-2zM2 12h2v2h-2zM4 12h2v2h-2zM0 16h2v2h-2zM8 16h2v2h-2zM24 16h2v2h-2zM30 16h2v2h-2zM4 18h2v2h-2zM18 22h2v2h-2zM32 22h2v2h-2zM14 24h2v2h-2zM32 26h2v2h-2zM4 28h2v2h-2zM18 28h2v2h-2zM32 30h2v2h-2zM2 32h2v2h-2zM26 32h2v2h-2z" fill="#30a88a"/><path d="M12 0h2v2h-2zM16 0h2v2h-2zM26 0h2v2h-2zM32 0h2v2h-2zM14 2h2v2h-2zM16 2h2v2h-2zM26 2h2v2h-2zM28 2h2v2h-2zM6 4h2v2h-2zM10 4h2v2h-2zM14 4h2v2h-2zM34 4h2v2h-2zM12 6h2v2h-2zM18 6h2v2h-2zM20 6h2v2h-2zM22 6h2v2h-2zM26 6h2v2h-2zM0 10h2v2h-2zM8 10h2v2h-2zM12 10h2v2h-2zM18 10h2v2h-2zM26 10h2v2h-2zM28 10h2v2h-2zM34 10h2v2h-2zM26 12h2v2h-2zM28 12h2v2h-2zM4 14h2v2h-2zM6 14h2v2h-2zM14 14h2v2h-2zM34 14h2v2h-2zM12 16h2v2h-2zM12 18h2v2h-2zM14 18h2v2h-2zM18 18h2v2h-2zM20 18h2v2h-2zM22 18h2v2h-2zM0 20h2v2h-2zM4 20h2v2h-2zM10 20h2v2h-2zM14 20h2v2h-2zM22 20h2v2h-2zM16 22h2v2h-2zM22 22h2v2h-2zM2 24h2v2h-2zM32 24h2v2h-2zM6 26h2v2h-2zM8 28h2v2h-2zM24 28h2v2h-2zM28 28h2v2h-2zM10 30h2v2h-2zM14 30h2v2h-2zM26 30h2v2h-2zM10 32h2v2h-2zM18 32h2v2h-2zM20 32h2v2h-2zM2 34h2v2h-2zM6 34h2v2h-2zM12 34h2v2h-2zM14 34h2v2h-2zM28 34h2v2h-2zM30 34h2v2h-2zM32 34h2v2h-2z" fill="#fef6b6"/><path d="M22 0h2v2h-2zM4 2h2v2h-2zM28 6h2v2h-2zM32 16h2v2h-2zM4 22h2v2h-2zM12 22h2v2h-2zM20 34h2v2h-2z" fill="#168087"/><path d="M34 0h2v2h-2zM6 2h2v2h-2zM20 2h2v2h-2zM24 2h2v2h-2zM30 2h2v2h-2zM12 4h2v2h-2zM24 4h2v2h-2zM30 4h2v2h-2zM24 6h2v2h-2zM34 6h2v2h-2zM8 8h2v2h-2zM22 8h2v2h-2zM10 10h2v2h-2zM20 10h2v2h-2zM20 12h2v2h-2zM24 12h2v2h-2zM0 14h2v2h-2zM16 14h2v2h-2zM20 14h2v2h-2zM22 14h2v2h-2zM32 14h2v2h-2zM6 16h2v2h-2zM10 16h2v2h-2zM28 16h2v2h-2zM10 18h2v2h-2zM28 18h2v2h-2zM32 18h2v2h-2zM6 20h2v2h-2zM24 20h2v2h-2zM28 20h2v2h-2zM32 20h2v2h-2zM2 22h2v2h-2zM6 22h2v2h-2zM8 22h2v2h-2zM14 22h2v2h-2zM20 22h2v2h-2zM10 24h2v2h-2zM20 24h2v2h-2zM28 24h2v2h-2zM4 26h2v2h-2zM10 26h2v2h-2zM34 26h2v2h-2zM14 28h2v2h-2zM0 30h2v2h-2zM28 30h2v2h-2zM30 30h2v2h-2zM22 34h2v2h-2zM24 34h2v2h-2zM26 34h2v2h-2zM34 34h2v2h-2z" fill="#f6f6ee"/><path d="M8 14h2v2h-2zM0 32h2v2h-2zM4 32h2v2h-2zM16 32h2v2h-2z" fill="#fdd558"/></pattern><pattern id="P3_111" width="36" height="36" patternUnits="userSpaceOnUse"><path d="M0 0h2v2h-2zM22 0h2v2h-2zM10 2h2v2h-2zM16 2h2v2h-2zM26 2h2v2h-2zM30 4h2v2h-2zM32 4h2v2h-2zM18 6h2v2h-2zM22 6h2v2h-2zM24 6h2v2h-2zM2 8h2v2h-2zM4 8h2v2h-2zM8 8h2v2h-2zM10 8h2v2h-2zM16 8h2v2h-2zM28 8h2v2h-2zM32 8h2v2h-2zM34 8h2v2h-2zM14 10h2v2h-2zM20 10h2v2h-2zM4 12h2v2h-2zM30 12h2v2h-2zM4 14h2v2h-2zM10 14h2v2h-2zM28 14h2v2h-2zM34 14h2v2h-2zM0 16h2v2h-2zM8 16h2v2h-2zM12 16h2v2h-2zM26 16h2v2h-2zM30 16h2v2h-2zM6 18h2v2h-2zM18 18h2v2h-2zM26 18h2v2h-2zM30 18h2v2h-2zM34 18h2v2h-2zM2 20h2v2h-2zM10 20h2v2h-2zM16 20h2v2h-2zM20 20h2v2h-2zM24 20h2v2h-2zM4 22h2v2h-2zM14 22h2v2h-2zM18 22h2v2h-2zM22 22h2v2h-2zM6 24h2v2h-2zM26 24h2v2h-2zM4 26h2v2h-2zM6 26h2v2h-2zM4 28h2v2h-2zM18 28h2v2h-2zM20 28h2v2h-2zM24 28h2v2h-2zM30 28h2v2h-2zM4 30h2v2h-2zM6 30h2v2h-2zM6 32h2v2h-2zM12 32h2v2h-2zM28 32h2v2h-2zM34 32h2v2h-2zM18 34h2v2h-2zM30 34h2v2h-2z" fill="#fdd558"/><path d="M2 0h2v2h-2zM14 0h2v2h-2zM34 0h2v2h-2zM0 2h2v2h-2zM2 2h2v2h-2zM20 2h2v2h-2zM32 2h2v2h-2zM0 4h2v2h-2zM4 4h2v2h-2zM8 4h2v2h-2zM10 4h2v2h-2zM16 4h2v2h-2zM34 4h2v2h-2zM6 6h2v2h-2zM30 6h2v2h-2zM34 6h2v2h-2zM18 8h2v2h-2zM22 8h2v2h-2zM26 8h2v2h-2zM4 10h2v2h-2zM6 10h2v2h-2zM10 10h2v2h-2zM28 10h2v2h-2zM30 10h2v2h-2zM0 12h2v2h-2zM14 12h2v2h-2zM18 12h2v2h-2zM20 12h2v2h-2zM24 12h2v2h-2zM34 12h2v2h-2zM0 14h2v2h-2zM2 14h2v2h-2zM6 14h2v2h-2zM8 14h2v2h-2zM16 14h2v2h-2zM24 14h2v2h-2zM4 16h2v2h-2zM14 16h2v2h-2zM16 16h2v2h-2zM18 16h2v2h-2zM20 18h2v2h-2zM28 18h2v2h-2zM8 20h2v2h-2zM18 20h2v2h-2zM22 20h2v2h-2zM30 20h2v2h-2zM10 22h2v2h-2zM16 22h2v2h-2zM20 22h2v2h-2zM32 22h2v2h-2zM34 22h2v2h-2zM0 24h2v2h-2zM16 24h2v2h-2zM24 24h2v2h-2zM32 24h2v2h-2zM2 26h2v2h-2zM12 26h2v2h-2zM10 28h2v2h-2zM16 28h2v2h-2zM14 30h2v2h-2zM22 30h2v2h-2zM30 30h2v2h-2zM16 32h2v2h-2zM18 32h2v2h-2zM22 32h2v2h-2zM32 32h2v2h-2zM2 34h2v2h-2zM12 34h2v2h-2zM20 34h2v2h-2zM22 34h2v2h-2zM28 34h2v2h-2z" fill="#f79e48"/><path d="M4 0h2v2h-2zM18 0h2v2h-2zM30 0h2v2h-2zM12 2h2v2h-2zM14 2h2v2h-2zM18 2h2v2h-2zM22 2h2v2h-2zM24 2h2v2h-2zM28 2h2v2h-2zM2 4h2v2h-2zM22 4h2v2h-2zM24 4h2v2h-2zM0 6h2v2h-2zM2 6h2v2h-2zM12 6h2v2h-2zM28 6h2v2h-2zM32 6h2v2h-2zM0 8h2v2h-2zM24 8h2v2h-2zM12 10h2v2h-2zM18 10h2v2h-2zM24 10h2v2h-2zM26 10h2v2h-2zM6 12h2v2h-2zM10 12h2v2h-2zM32 12h2v2h-2zM14 14h2v2h-2zM6 16h2v2h-2zM20 16h2v2h-2zM28 16h2v2h-2zM8 18h2v2h-2zM16 18h2v2h-2zM22 18h2v2h-2zM8 22h2v2h-2zM12 22h2v2h-2zM30 22h2v2h-2zM4 24h2v2h-2zM14 24h2v2h-2zM20 24h2v2h-2zM34 24h2v2h-2zM0 26h2v2h-2zM8 26h2v2h-2zM14 26h2v2h-2zM20 26h2v2h-2zM26 26h2v2h-2zM26 28h2v2h-2zM28 28h2v2h-2zM32 28h2v2h-2zM2 30h2v2h-2zM8 30h2v2h-2zM18 30h2v2h-2zM26 30h2v2h-2zM28 30h2v2h-2zM34 30h2v2h-2zM10 32h2v2h-2zM24 32h2v2h-2zM0 34h2v2h-2zM4 34h2v2h-2zM6 34h2v2h-2zM10 34h2v2h-2zM14 34h2v2h-2zM34 34h2v2h-2z" fill="#e85526"/><path d="M6 0h2v2h-2zM8 0h2v2h-2zM20 4h2v2h-2zM32 10h2v2h-2zM22 12h2v2h-2zM30 14h2v2h-2zM14 20h2v2h-2zM26 20h2v2h-2zM24 22h2v2h-2zM28 22h2v2h-2z" fill="#7dd4a2"/><path d="M10 0h2v2h-2zM16 0h2v2h-2zM20 0h2v2h-2zM26 0h2v2h-2zM32 0h2v2h-2zM4 2h2v2h-2zM6 2h2v2h-2zM8 2h2v2h-2zM30 2h2v2h-2zM34 2h2v2h-2zM14 6h2v2h-2zM20 6h2v2h-2zM26 6h2v2h-2zM6 8h2v2h-2zM14 8h2v2h-2zM2 10h2v2h-2zM8 10h2v2h-2zM16 10h2v2h-2zM2 12h2v2h-2zM26 12h2v2h-2zM28 12h2v2h-2zM26 14h2v2h-2zM32 14h2v2h-2zM22 16h2v2h-2zM24 16h2v2h-2zM0 18h2v2h-2zM12 18h2v2h-2zM24 18h2v2h-2zM12 20h2v2h-2zM0 22h2v2h-2zM6 22h2v2h-2zM26 22h2v2h-2zM2 24h2v2h-2zM8 24h2v2h-2zM22 24h2v2h-2zM10 26h2v2h-2zM16 26h2v2h-2zM18 26h2v2h-2zM24 26h2v2h-2zM32 26h2v2h-2zM0 28h2v2h-2zM2 28h2v2h-2zM6 28h2v2h-2zM12 28h2v2h-2zM22 28h2v2h-2zM34 28h2v2h-2zM10 30h2v2h-2zM12 30h2v2h-2zM20 30h2v2h-2zM24 30h2v2h-2zM2 32h2v2h-2zM26 32h2v2h-2zM30 32h2v2h-2zM8 34h2v2h-2z" fill="#fef6b6"/><path d="M12 0h2v2h-2zM4 6h2v2h-2zM8 6h2v2h-2zM34 10h2v2h-2zM8 12h2v2h-2zM12 14h2v2h-2zM34 16h2v2h-2zM4 20h2v2h-2zM8 28h2v2h-2z" fill="#30a88a"/><path d="M24 0h2v2h-2zM28 0h2v2h-2zM14 4h2v2h-2zM10 6h2v2h-2zM12 8h2v2h-2zM20 8h2v2h-2zM30 8h2v2h-2zM0 10h2v2h-2zM22 10h2v2h-2zM32 16h2v2h-2zM4 18h2v2h-2zM10 18h2v2h-2zM14 18h2v2h-2zM32 18h2v2h-2zM0 20h2v2h-2zM32 20h2v2h-2zM10 24h2v2h-2zM18 24h2v2h-2zM28 24h2v2h-2zM22 26h2v2h-2zM30 26h2v2h-2zM14 28h2v2h-2zM0 30h2v2h-2zM32 30h2v2h-2zM14 32h2v2h-2zM16 34h2v2h-2zM24 34h2v2h-2zM26 34h2v2h-2zM32 34h2v2h-2z" fill="#c5c4c4"/><path d="M6 4h2v2h-2zM12 4h2v2h-2zM18 4h2v2h-2zM26 4h2v2h-2zM28 4h2v2h-2zM16 6h2v2h-2zM12 12h2v2h-2zM16 12h2v2h-2zM18 14h2v2h-2zM20 14h2v2h-2zM22 14h2v2h-2zM2 16h2v2h-2zM10 16h2v2h-2zM2 18h2v2h-2zM6 20h2v2h-2zM28 20h2v2h-2zM34 20h2v2h-2zM2 22h2v2h-2zM12 24h2v2h-2zM30 24h2v2h-2zM28 26h2v2h-2zM34 26h2v2h-2zM16 30h2v2h-2zM0 32h2v2h-2zM4 32h2v2h-2zM8 32h2v2h-2zM20 32h2v2h-2z" fill="#b9231e"/></pattern></defs>
<svg x="33" y="41" width="106" height="251" viewBox="0 0 106 251"><g filter="url(#mb)">
<rect width="106" height="251" fill="#c5c4c4"/>
<path d="M0.0 0.0h5.9v6.0h-5.9zM100.1 0.0h5.9v6.0h-5.9zM35.3 6.0h5.9v6.0h-5.9zM58.9 6.0h5.9v6.0h-5.9zM70.7 6.0h5.9v6.0h-5.9zM100.1 6.0h5.9v6.0h-5.9zM29.4 12.0h5.9v6.0h-5.9zM47.1 12.0h5.9v6.0h-5.9zM70.7 12.0h5.9v6.0h-5.9zM0.0 17.9h23.6v6.0h-23.6zM47.1 17.9h5.9v6.0h-5.9zM82.4 17.9h5.9v6.0h-5.9zM100.1 17.9h5.9v6.0h-5.9zM0.0 23.9h5.9v6.0h-5.9zM100.1 23.9h5.9v6.0h-5.9zM100.1 29.9h5.9v6.0h-5.9zM100.1 35.9h5.9v6.0h-5.9zM100.1 41.8h5.9v6.0h-5.9zM5.9 47.8h5.9v6.0h-5.9zM23.6 47.8h5.9v6.0h-5.9zM82.4 47.8h23.6v6.0h-23.6zM70.7 53.8h11.8v6.0h-11.8zM94.2 53.8h11.8v6.0h-11.8zM70.7 59.8h5.9v6.0h-5.9zM94.2 59.8h5.9v6.0h-5.9zM17.7 65.7h5.9v6.0h-5.9zM47.1 65.7h5.9v6.0h-5.9zM88.3 65.7h5.9v6.0h-5.9zM0.0 71.7h5.9v6.0h-5.9zM47.1 71.7h5.9v6.0h-5.9zM88.3 71.7h5.9v6.0h-5.9zM0.0 77.7h5.9v6.0h-5.9zM47.1 77.7h5.9v6.0h-5.9zM82.4 77.7h5.9v6.0h-5.9zM94.2 77.7h5.9v6.0h-5.9zM5.9 83.7h5.9v6.0h-5.9zM47.1 83.7h11.8v6.0h-11.8zM82.4 83.7h5.9v6.0h-5.9zM11.8 89.6h5.9v6.0h-5.9zM35.3 89.6h5.9v6.0h-5.9zM82.4 89.6h5.9v6.0h-5.9zM94.2 89.6h5.9v6.0h-5.9zM82.4 95.6h17.7v6.0h-17.7zM88.3 101.6h11.8v6.0h-11.8zM41.2 113.5h5.9v6.0h-5.9zM76.6 113.5h5.9v6.0h-5.9zM88.3 113.5h5.9v6.0h-5.9zM17.7 119.5h5.9v6.0h-5.9zM58.9 119.5h5.9v6.0h-5.9zM82.4 119.5h5.9v6.0h-5.9zM94.2 119.5h5.9v6.0h-5.9zM0.0 125.5h5.9v6.0h-5.9zM17.7 125.5h11.8v6.0h-11.8zM82.4 125.5h11.8v6.0h-11.8zM0.0 131.5h5.9v6.0h-5.9zM35.3 131.5h5.9v6.0h-5.9zM0.0 149.4h5.9v6.0h-5.9zM41.2 149.4h5.9v6.0h-5.9zM23.6 155.4h5.9v6.0h-5.9zM41.2 155.4h5.9v6.0h-5.9zM58.9 155.4h5.9v6.0h-5.9zM82.4 155.4h23.6v6.0h-23.6zM23.6 161.4h11.8v6.0h-11.8zM58.9 161.4h5.9v6.0h-5.9zM70.7 161.4h5.9v6.0h-5.9zM23.6 167.3h5.9v6.0h-5.9zM47.1 167.3h11.8v6.0h-11.8zM41.2 173.3h11.8v6.0h-11.8zM47.1 179.3h11.8v6.0h-11.8zM23.6 185.3h5.9v6.0h-5.9zM70.7 185.3h11.8v6.0h-11.8zM100.1 185.3h5.9v6.0h-5.9zM23.6 191.2h5.9v6.0h-5.9zM100.1 191.2h5.9v6.0h-5.9zM17.7 197.2h5.9v6.0h-5.9zM100.1 197.2h5.9v6.0h-5.9zM23.6 203.2h5.9v6.0h-5.9zM88.3 203.2h5.9v6.0h-5.9zM5.9 209.2h5.9v6.0h-5.9zM23.6 209.2h5.9v6.0h-5.9zM0.0 215.1h5.9v6.0h-5.9zM17.7 215.1h11.8v6.0h-11.8zM53.0 215.1h5.9v6.0h-5.9zM76.6 215.1h5.9v6.0h-5.9zM100.1 215.1h5.9v6.0h-5.9zM5.9 221.1h5.9v6.0h-5.9zM29.4 221.1h5.9v6.0h-5.9zM53.0 221.1h11.8v6.0h-11.8zM82.4 221.1h5.9v6.0h-5.9zM100.1 221.1h5.9v6.0h-5.9zM29.4 227.1h5.9v6.0h-5.9zM53.0 227.1h5.9v6.0h-5.9zM76.6 227.1h5.9v6.0h-5.9zM17.7 233.1h5.9v6.0h-5.9zM29.4 233.1h5.9v6.0h-5.9zM53.0 233.1h5.9v6.0h-5.9zM76.6 233.1h5.9v6.0h-5.9zM35.3 239.0h5.9v6.0h-5.9zM47.1 239.0h5.9v6.0h-5.9zM5.9 245.0h5.9v6.0h-5.9zM76.6 245.0h5.9v6.0h-5.9z" fill="url(#P0_112)"/>
<path d="M5.9 0.0h11.8v6.0h-11.8zM23.6 0.0h11.8v6.0h-11.8zM76.6 0.0h5.9v6.0h-5.9zM88.3 0.0h5.9v6.0h-5.9zM17.7 6.0h17.7v6.0h-17.7zM53.0 6.0h5.9v6.0h-5.9zM94.2 6.0h5.9v6.0h-5.9zM17.7 12.0h11.8v6.0h-11.8zM53.0 12.0h17.7v6.0h-17.7zM88.3 12.0h11.8v6.0h-11.8zM53.0 17.9h17.7v6.0h-17.7zM88.3 17.9h11.8v6.0h-11.8zM5.9 23.9h5.9v6.0h-5.9zM17.7 23.9h5.9v6.0h-5.9zM58.9 23.9h11.8v6.0h-11.8zM76.6 23.9h11.8v6.0h-11.8zM5.9 29.9h5.9v6.0h-5.9zM53.0 29.9h11.8v6.0h-11.8zM70.7 29.9h5.9v6.0h-5.9zM82.4 29.9h5.9v6.0h-5.9zM0.0 35.9h5.9v6.0h-5.9zM17.7 35.9h5.9v6.0h-5.9zM53.0 35.9h11.8v6.0h-11.8zM70.7 35.9h29.4v6.0h-29.4zM0.0 41.8h17.7v6.0h-17.7zM41.2 41.8h11.8v6.0h-11.8zM58.9 41.8h23.6v6.0h-23.6zM88.3 41.8h11.8v6.0h-11.8zM29.4 47.8h11.8v6.0h-11.8zM47.1 47.8h5.9v6.0h-5.9zM58.9 47.8h11.8v6.0h-11.8zM23.6 53.8h11.8v6.0h-11.8zM47.1 53.8h23.6v6.0h-23.6zM0.0 95.6h17.7v6.0h-17.7zM23.6 95.6h11.8v6.0h-11.8zM0.0 101.6h5.9v6.0h-5.9zM11.8 101.6h23.6v6.0h-23.6zM0.0 107.6h11.8v6.0h-11.8zM17.7 107.6h5.9v6.0h-5.9zM29.4 107.6h17.7v6.0h-17.7zM0.0 113.5h5.9v6.0h-5.9zM11.8 113.5h29.4v6.0h-29.4zM0.0 119.5h17.7v6.0h-17.7z" fill="url(#P0_111)"/>
<path d="M17.7 0.0h5.9v6.0h-5.9zM70.7 17.9h5.9v6.0h-5.9zM11.8 23.9h5.9v6.0h-5.9zM70.7 23.9h5.9v6.0h-5.9zM11.8 29.9h5.9v6.0h-5.9zM64.8 29.9h5.9v6.0h-5.9zM76.6 29.9h5.9v6.0h-5.9zM5.9 35.9h11.8v6.0h-11.8zM23.6 35.9h5.9v6.0h-5.9zM64.8 35.9h5.9v6.0h-5.9zM17.7 41.8h23.6v6.0h-23.6zM82.4 41.8h5.9v6.0h-5.9zM41.2 47.8h5.9v6.0h-5.9zM35.3 95.6h11.8v6.0h-11.8zM5.9 101.6h5.9v6.0h-5.9zM35.3 101.6h11.8v6.0h-11.8zM23.6 107.6h5.9v6.0h-5.9z" fill="url(#P0_114)"/>
<path d="M35.3 0.0h5.9v6.0h-5.9zM82.4 0.0h5.9v6.0h-5.9zM94.2 0.0h5.9v6.0h-5.9zM11.8 6.0h5.9v6.0h-5.9zM76.6 6.0h17.7v6.0h-17.7zM11.8 12.0h5.9v6.0h-5.9zM76.6 12.0h11.8v6.0h-11.8zM23.6 17.9h5.9v6.0h-5.9zM76.6 17.9h5.9v6.0h-5.9zM53.0 23.9h5.9v6.0h-5.9zM88.3 23.9h11.8v6.0h-11.8zM17.7 29.9h5.9v6.0h-5.9zM94.2 29.9h5.9v6.0h-5.9zM29.4 35.9h5.9v6.0h-5.9zM47.1 35.9h5.9v6.0h-5.9zM76.6 47.8h5.9v6.0h-5.9zM0.0 53.8h5.9v6.0h-5.9zM35.3 53.8h11.8v6.0h-11.8zM100.1 77.7h5.9v6.0h-5.9zM100.1 83.7h5.9v6.0h-5.9zM0.0 89.6h5.9v6.0h-5.9zM17.7 95.6h5.9v6.0h-5.9zM100.1 95.6h5.9v6.0h-5.9zM82.4 113.5h5.9v6.0h-5.9zM94.2 113.5h5.9v6.0h-5.9zM88.3 119.5h5.9v6.0h-5.9zM100.1 119.5h5.9v6.0h-5.9zM88.3 137.5h5.9v6.0h-5.9z" fill="url(#P0_109)"/>
<path d="M0.0 6.0h11.8v6.0h-11.8zM0.0 12.0h5.9v6.0h-5.9zM29.4 17.9h5.9v6.0h-5.9zM41.2 17.9h5.9v6.0h-5.9zM23.6 23.9h11.8v6.0h-11.8zM41.2 23.9h5.9v6.0h-5.9zM29.4 29.9h17.7v6.0h-17.7zM88.3 29.9h5.9v6.0h-5.9zM41.2 35.9h5.9v6.0h-5.9zM0.0 59.8h11.8v6.0h-11.8zM23.6 59.8h29.4v6.0h-29.4zM58.9 59.8h11.8v6.0h-11.8zM100.1 59.8h5.9v6.0h-5.9zM0.0 65.7h11.8v6.0h-11.8zM23.6 65.7h23.6v6.0h-23.6zM94.2 65.7h11.8v6.0h-11.8zM5.9 71.7h11.8v6.0h-11.8zM23.6 71.7h11.8v6.0h-11.8zM41.2 71.7h5.9v6.0h-5.9zM94.2 71.7h11.8v6.0h-11.8zM5.9 77.7h29.4v6.0h-29.4zM58.9 77.7h23.6v6.0h-23.6zM11.8 83.7h35.3v6.0h-35.3zM58.9 83.7h23.6v6.0h-23.6zM17.7 89.6h17.7v6.0h-17.7zM58.9 89.6h23.6v6.0h-23.6zM53.0 95.6h11.8v6.0h-11.8zM70.7 95.6h11.8v6.0h-11.8zM58.9 101.6h23.6v6.0h-23.6zM100.1 101.6h5.9v6.0h-5.9zM47.1 107.6h5.9v6.0h-5.9zM64.8 107.6h11.8v6.0h-11.8zM88.3 107.6h17.7v6.0h-17.7zM47.1 113.5h23.6v6.0h-23.6zM100.1 113.5h5.9v6.0h-5.9zM94.2 125.5h11.8v6.0h-11.8zM82.4 131.5h23.6v6.0h-23.6zM76.6 137.5h11.8v6.0h-11.8zM94.2 137.5h11.8v6.0h-11.8zM76.6 143.4h11.8v6.0h-11.8zM94.2 143.4h11.8v6.0h-11.8zM64.8 149.4h5.9v6.0h-5.9zM76.6 149.4h29.4v6.0h-29.4zM64.8 155.4h11.8v6.0h-11.8zM5.9 167.3h5.9v6.0h-5.9zM5.9 179.3h5.9v6.0h-5.9zM35.3 179.3h5.9v6.0h-5.9zM5.9 185.3h5.9v6.0h-5.9zM41.2 185.3h5.9v6.0h-5.9zM53.0 185.3h5.9v6.0h-5.9zM64.8 185.3h5.9v6.0h-5.9zM5.9 191.2h5.9v6.0h-5.9zM47.1 191.2h5.9v6.0h-5.9zM64.8 191.2h5.9v6.0h-5.9zM64.8 197.2h5.9v6.0h-5.9zM94.2 197.2h5.9v6.0h-5.9zM0.0 203.2h5.9v6.0h-5.9zM41.2 221.1h5.9v6.0h-5.9zM17.7 227.1h5.9v6.0h-5.9zM35.3 227.1h5.9v6.0h-5.9zM47.1 233.1h5.9v6.0h-5.9z" fill="url(#P0_103)"/>
<path d="M5.9 12.0h5.9v6.0h-5.9zM0.0 29.9h5.9v6.0h-5.9zM23.6 29.9h5.9v6.0h-5.9zM35.3 35.9h5.9v6.0h-5.9zM70.7 47.8h5.9v6.0h-5.9zM17.7 71.7h5.9v6.0h-5.9zM35.3 71.7h5.9v6.0h-5.9zM35.3 77.7h11.8v6.0h-11.8zM5.9 89.6h5.9v6.0h-5.9zM47.1 95.6h5.9v6.0h-5.9zM64.8 95.6h5.9v6.0h-5.9zM47.1 101.6h11.8v6.0h-11.8zM53.0 107.6h11.8v6.0h-11.8zM70.7 137.5h5.9v6.0h-5.9zM70.7 143.4h5.9v6.0h-5.9zM88.3 143.4h5.9v6.0h-5.9zM70.7 149.4h5.9v6.0h-5.9zM76.6 155.4h5.9v6.0h-5.9zM0.0 197.2h5.9v6.0h-5.9zM41.2 227.1h5.9v6.0h-5.9zM41.2 233.1h5.9v6.0h-5.9z" fill="url(#P0_116)"/>
<path d="M100.1 12.0h5.9v6.0h-5.9zM53.0 41.8h5.9v6.0h-5.9zM0.0 47.8h5.9v6.0h-5.9zM53.0 47.8h5.9v6.0h-5.9zM11.8 107.6h5.9v6.0h-5.9zM5.9 113.5h5.9v6.0h-5.9z" fill="url(#P0_121)"/>
<path d="M35.3 17.9h5.9v6.0h-5.9zM35.3 23.9h5.9v6.0h-5.9zM47.1 23.9h5.9v6.0h-5.9zM47.1 29.9h5.9v6.0h-5.9zM53.0 89.6h5.9v6.0h-5.9zM100.1 89.6h5.9v6.0h-5.9zM82.4 101.6h5.9v6.0h-5.9zM76.6 107.6h11.8v6.0h-11.8zM70.7 113.5h5.9v6.0h-5.9zM70.7 131.5h11.8v6.0h-11.8zM58.9 137.5h11.8v6.0h-11.8zM17.7 143.4h5.9v6.0h-5.9zM58.9 143.4h11.8v6.0h-11.8zM11.8 149.4h5.9v6.0h-5.9zM23.6 149.4h5.9v6.0h-5.9zM58.9 149.4h5.9v6.0h-5.9zM11.8 155.4h5.9v6.0h-5.9zM11.8 161.4h5.9v6.0h-5.9zM64.8 161.4h5.9v6.0h-5.9zM0.0 167.3h5.9v6.0h-5.9zM11.8 167.3h5.9v6.0h-5.9zM5.9 173.3h5.9v6.0h-5.9zM35.3 173.3h5.9v6.0h-5.9zM0.0 179.3h5.9v6.0h-5.9zM29.4 179.3h5.9v6.0h-5.9zM0.0 185.3h5.9v6.0h-5.9zM35.3 185.3h5.9v6.0h-5.9zM47.1 185.3h5.9v6.0h-5.9zM58.9 185.3h5.9v6.0h-5.9zM94.2 185.3h5.9v6.0h-5.9zM0.0 191.2h5.9v6.0h-5.9zM29.4 191.2h5.9v6.0h-5.9zM41.2 191.2h5.9v6.0h-5.9zM53.0 191.2h5.9v6.0h-5.9zM70.7 191.2h11.8v6.0h-11.8zM88.3 191.2h11.8v6.0h-11.8zM5.9 197.2h5.9v6.0h-5.9zM41.2 197.2h5.9v6.0h-5.9zM58.9 197.2h5.9v6.0h-5.9zM82.4 197.2h5.9v6.0h-5.9zM47.1 203.2h5.9v6.0h-5.9zM41.2 209.2h5.9v6.0h-5.9zM17.7 221.1h5.9v6.0h-5.9zM35.3 221.1h5.9v6.0h-5.9zM11.8 227.1h5.9v6.0h-5.9zM88.3 227.1h5.9v6.0h-5.9zM94.2 233.1h5.9v6.0h-5.9zM88.3 239.0h5.9v6.0h-5.9z" fill="url(#P0_108)"/>
<path d="M5.9 125.5h11.8v6.0h-11.8zM5.9 131.5h29.4v6.0h-29.4zM5.9 137.5h35.3v6.0h-35.3zM5.9 143.4h11.8v6.0h-11.8zM23.6 143.4h17.7v6.0h-17.7zM5.9 149.4h5.9v6.0h-5.9zM17.7 149.4h5.9v6.0h-5.9zM29.4 149.4h11.8v6.0h-11.8zM5.9 155.4h5.9v6.0h-5.9zM17.7 155.4h5.9v6.0h-5.9zM29.4 155.4h11.8v6.0h-11.8zM0.0 161.4h11.8v6.0h-11.8zM17.7 161.4h5.9v6.0h-5.9zM35.3 161.4h5.9v6.0h-5.9zM29.4 167.3h5.9v6.0h-5.9zM0.0 173.3h5.9v6.0h-5.9zM29.4 173.3h5.9v6.0h-5.9zM23.6 179.3h5.9v6.0h-5.9zM41.2 179.3h5.9v6.0h-5.9zM29.4 185.3h5.9v6.0h-5.9zM35.3 191.2h5.9v6.0h-5.9zM58.9 191.2h5.9v6.0h-5.9zM82.4 191.2h5.9v6.0h-5.9zM29.4 197.2h11.8v6.0h-11.8zM47.1 197.2h11.8v6.0h-11.8zM70.7 197.2h11.8v6.0h-11.8zM88.3 197.2h5.9v6.0h-5.9zM5.9 203.2h5.9v6.0h-5.9zM29.4 203.2h17.7v6.0h-17.7zM53.0 203.2h35.3v6.0h-35.3zM94.2 203.2h11.8v6.0h-11.8zM0.0 209.2h5.9v6.0h-5.9zM29.4 209.2h11.8v6.0h-11.8zM47.1 209.2h58.9v6.0h-58.9zM29.4 215.1h23.6v6.0h-23.6zM58.9 215.1h17.7v6.0h-17.7zM82.4 215.1h17.7v6.0h-17.7zM11.8 221.1h5.9v6.0h-5.9zM47.1 221.1h5.9v6.0h-5.9zM88.3 221.1h11.8v6.0h-11.8zM5.9 227.1h5.9v6.0h-5.9zM47.1 227.1h5.9v6.0h-5.9zM82.4 227.1h5.9v6.0h-5.9zM94.2 227.1h11.8v6.0h-11.8zM5.9 233.1h11.8v6.0h-11.8zM35.3 233.1h5.9v6.0h-5.9zM82.4 233.1h11.8v6.0h-11.8zM100.1 233.1h5.9v6.0h-5.9zM5.9 239.0h11.8v6.0h-11.8zM41.2 239.0h5.9v6.0h-5.9zM76.6 239.0h11.8v6.0h-11.8zM94.2 239.0h11.8v6.0h-11.8zM82.4 245.0h23.6v6.0h-23.6z" fill="url(#P0_119)"/>
<path d="M17.7 167.3h5.9v6.0h-5.9zM35.3 167.3h11.8v6.0h-11.8zM11.8 173.3h5.9v6.0h-5.9zM11.8 185.3h11.8v6.0h-11.8zM82.4 185.3h11.8v6.0h-11.8zM11.8 191.2h11.8v6.0h-11.8zM11.8 197.2h5.9v6.0h-5.9zM23.6 197.2h5.9v6.0h-5.9zM11.8 203.2h11.8v6.0h-11.8zM11.8 209.2h11.8v6.0h-11.8z" fill="url(#P0_113)"/>
</g><rect x="103" y="0" width="3" height="251" fill="#c5c4c4"/></svg>
<svg x="152" y="41" width="106" height="251" viewBox="0 0 106 251"><g filter="url(#mb)">
<rect width="106" height="251" fill="#c5c4c4"/>
<path d="M0.0 0.0h5.9v6.0h-5.9zM100.1 0.0h5.9v6.0h-5.9zM35.3 6.0h5.9v6.0h-5.9zM58.9 6.0h5.9v6.0h-5.9zM70.7 6.0h5.9v6.0h-5.9zM100.1 6.0h5.9v6.0h-5.9zM29.4 12.0h5.9v6.0h-5.9zM47.1 12.0h5.9v6.0h-5.9zM70.7 12.0h5.9v6.0h-5.9zM0.0 17.9h23.6v6.0h-23.6zM47.1 17.9h5.9v6.0h-5.9zM100.1 17.9h5.9v6.0h-5.9zM0.0 23.9h5.9v6.0h-5.9zM100.1 23.9h5.9v6.0h-5.9zM100.1 29.9h5.9v6.0h-5.9zM100.1 35.9h5.9v6.0h-5.9zM100.1 41.8h5.9v6.0h-5.9zM5.9 47.8h5.9v6.0h-5.9zM23.6 47.8h5.9v6.0h-5.9zM88.3 47.8h17.7v6.0h-17.7zM94.2 53.8h11.8v6.0h-11.8zM70.7 59.8h5.9v6.0h-5.9zM94.2 59.8h5.9v6.0h-5.9zM17.7 65.7h5.9v6.0h-5.9zM47.1 65.7h5.9v6.0h-5.9zM88.3 65.7h5.9v6.0h-5.9zM0.0 71.7h5.9v6.0h-5.9zM47.1 71.7h5.9v6.0h-5.9zM88.3 71.7h5.9v6.0h-5.9zM0.0 77.7h5.9v6.0h-5.9zM47.1 77.7h5.9v6.0h-5.9zM82.4 77.7h5.9v6.0h-5.9zM94.2 77.7h5.9v6.0h-5.9zM5.9 83.7h5.9v6.0h-5.9zM47.1 83.7h11.8v6.0h-11.8zM82.4 83.7h5.9v6.0h-5.9zM11.8 89.6h5.9v6.0h-5.9zM35.3 89.6h5.9v6.0h-5.9zM82.4 89.6h5.9v6.0h-5.9zM94.2 89.6h5.9v6.0h-5.9zM82.4 95.6h17.7v6.0h-17.7zM88.3 101.6h11.8v6.0h-11.8zM41.2 113.5h5.9v6.0h-5.9zM76.6 113.5h5.9v6.0h-5.9zM88.3 113.5h5.9v6.0h-5.9zM17.7 119.5h5.9v6.0h-5.9zM58.9 119.5h5.9v6.0h-5.9zM82.4 119.5h5.9v6.0h-5.9zM94.2 119.5h5.9v6.0h-5.9zM0.0 125.5h5.9v6.0h-5.9zM17.7 125.5h11.8v6.0h-11.8zM82.4 125.5h11.8v6.0h-11.8zM0.0 131.5h5.9v6.0h-5.9zM35.3 131.5h5.9v6.0h-5.9zM0.0 149.4h5.9v6.0h-5.9zM41.2 149.4h5.9v6.0h-5.9zM23.6 155.4h5.9v6.0h-5.9zM41.2 155.4h5.9v6.0h-5.9zM58.9 155.4h5.9v6.0h-5.9zM82.4 155.4h23.6v6.0h-23.6zM23.6 161.4h11.8v6.0h-11.8zM58.9 161.4h5.9v6.0h-5.9zM70.7 161.4h5.9v6.0h-5.9zM23.6 167.3h5.9v6.0h-5.9zM47.1 167.3h11.8v6.0h-11.8zM41.2 173.3h11.8v6.0h-11.8zM47.1 179.3h11.8v6.0h-11.8zM23.6 185.3h5.9v6.0h-5.9zM70.7 185.3h11.8v6.0h-11.8zM100.1 185.3h5.9v6.0h-5.9zM23.6 191.2h5.9v6.0h-5.9zM100.1 191.2h5.9v6.0h-5.9zM17.7 197.2h5.9v6.0h-5.9zM100.1 197.2h5.9v6.0h-5.9zM23.6 203.2h5.9v6.0h-5.9zM88.3 203.2h5.9v6.0h-5.9zM5.9 209.2h5.9v6.0h-5.9zM23.6 209.2h5.9v6.0h-5.9zM0.0 215.1h5.9v6.0h-5.9zM17.7 215.1h11.8v6.0h-11.8zM53.0 215.1h5.9v6.0h-5.9zM76.6 215.1h5.9v6.0h-5.9zM100.1 215.1h5.9v6.0h-5.9zM5.9 221.1h5.9v6.0h-5.9zM29.4 221.1h5.9v6.0h-5.9zM53.0 221.1h11.8v6.0h-11.8zM82.4 221.1h5.9v6.0h-5.9zM100.1 221.1h5.9v6.0h-5.9zM29.4 227.1h5.9v6.0h-5.9zM53.0 227.1h5.9v6.0h-5.9zM76.6 227.1h5.9v6.0h-5.9zM17.7 233.1h5.9v6.0h-5.9zM29.4 233.1h5.9v6.0h-5.9zM53.0 233.1h5.9v6.0h-5.9zM76.6 233.1h5.9v6.0h-5.9zM35.3 239.0h5.9v6.0h-5.9zM47.1 239.0h5.9v6.0h-5.9zM5.9 245.0h5.9v6.0h-5.9zM76.6 245.0h5.9v6.0h-5.9z" fill="url(#P0_112)"/>
<path d="M5.9 0.0h11.8v6.0h-11.8zM23.6 0.0h11.8v6.0h-11.8zM76.6 0.0h5.9v6.0h-5.9zM88.3 0.0h5.9v6.0h-5.9zM17.7 6.0h17.7v6.0h-17.7zM53.0 6.0h5.9v6.0h-5.9zM94.2 6.0h5.9v6.0h-5.9zM17.7 12.0h11.8v6.0h-11.8zM53.0 12.0h17.7v6.0h-17.7zM88.3 12.0h11.8v6.0h-11.8zM53.0 17.9h17.7v6.0h-17.7zM5.9 23.9h5.9v6.0h-5.9zM17.7 23.9h5.9v6.0h-5.9zM58.9 23.9h11.8v6.0h-11.8zM5.9 29.9h5.9v6.0h-5.9zM53.0 29.9h11.8v6.0h-11.8zM70.7 29.9h5.9v6.0h-5.9zM0.0 35.9h5.9v6.0h-5.9zM17.7 35.9h5.9v6.0h-5.9zM53.0 35.9h11.8v6.0h-11.8zM94.2 35.9h5.9v6.0h-5.9zM0.0 41.8h17.7v6.0h-17.7zM41.2 41.8h11.8v6.0h-11.8zM58.9 41.8h11.8v6.0h-11.8zM94.2 41.8h5.9v6.0h-5.9zM29.4 47.8h11.8v6.0h-11.8zM47.1 47.8h5.9v6.0h-5.9zM58.9 47.8h11.8v6.0h-11.8zM23.6 53.8h11.8v6.0h-11.8zM47.1 53.8h23.6v6.0h-23.6zM0.0 95.6h17.7v6.0h-17.7zM23.6 95.6h11.8v6.0h-11.8zM0.0 101.6h5.9v6.0h-5.9zM11.8 101.6h23.6v6.0h-23.6zM0.0 107.6h11.8v6.0h-11.8zM17.7 107.6h5.9v6.0h-5.9zM29.4 107.6h17.7v6.0h-17.7zM0.0 113.5h5.9v6.0h-5.9zM11.8 113.5h29.4v6.0h-29.4zM0.0 119.5h17.7v6.0h-17.7z" fill="url(#P0_111)"/>
<path d="M17.7 0.0h5.9v6.0h-5.9zM70.7 17.9h5.9v6.0h-5.9zM11.8 23.9h5.9v6.0h-5.9zM70.7 23.9h5.9v6.0h-5.9zM11.8 29.9h5.9v6.0h-5.9zM64.8 29.9h5.9v6.0h-5.9zM5.9 35.9h11.8v6.0h-11.8zM23.6 35.9h5.9v6.0h-5.9zM64.8 35.9h5.9v6.0h-5.9zM17.7 41.8h23.6v6.0h-23.6zM41.2 47.8h5.9v6.0h-5.9zM35.3 95.6h11.8v6.0h-11.8zM5.9 101.6h5.9v6.0h-5.9zM35.3 101.6h11.8v6.0h-11.8zM23.6 107.6h5.9v6.0h-5.9z" fill="url(#P0_114)"/>
<path d="M35.3 0.0h5.9v6.0h-5.9zM82.4 0.0h5.9v6.0h-5.9zM94.2 0.0h5.9v6.0h-5.9zM11.8 6.0h5.9v6.0h-5.9zM76.6 6.0h17.7v6.0h-17.7zM11.8 12.0h5.9v6.0h-5.9zM76.6 12.0h11.8v6.0h-11.8zM23.6 17.9h5.9v6.0h-5.9zM76.6 17.9h11.8v6.0h-11.8zM94.2 17.9h5.9v6.0h-5.9zM53.0 23.9h5.9v6.0h-5.9zM76.6 23.9h5.9v6.0h-5.9zM94.2 23.9h5.9v6.0h-5.9zM17.7 29.9h5.9v6.0h-5.9zM76.6 29.9h5.9v6.0h-5.9zM94.2 29.9h5.9v6.0h-5.9zM29.4 35.9h5.9v6.0h-5.9zM47.1 35.9h5.9v6.0h-5.9zM70.7 35.9h5.9v6.0h-5.9zM88.3 35.9h5.9v6.0h-5.9zM70.7 41.8h5.9v6.0h-5.9zM88.3 41.8h5.9v6.0h-5.9zM70.7 47.8h5.9v6.0h-5.9zM82.4 47.8h5.9v6.0h-5.9zM0.0 53.8h5.9v6.0h-5.9zM35.3 53.8h11.8v6.0h-11.8zM82.4 53.8h5.9v6.0h-5.9zM100.1 77.7h5.9v6.0h-5.9zM100.1 83.7h5.9v6.0h-5.9zM0.0 89.6h5.9v6.0h-5.9zM17.7 95.6h5.9v6.0h-5.9zM100.1 95.6h5.9v6.0h-5.9zM82.4 113.5h5.9v6.0h-5.9zM94.2 113.5h5.9v6.0h-5.9zM88.3 119.5h5.9v6.0h-5.9zM100.1 119.5h5.9v6.0h-5.9zM88.3 137.5h5.9v6.0h-5.9z" fill="url(#P0_109)"/>
<path d="M0.0 6.0h11.8v6.0h-11.8zM0.0 12.0h5.9v6.0h-5.9zM29.4 17.9h5.9v6.0h-5.9zM41.2 17.9h5.9v6.0h-5.9zM88.3 17.9h5.9v6.0h-5.9zM23.6 23.9h11.8v6.0h-11.8zM41.2 23.9h5.9v6.0h-5.9zM82.4 23.9h11.8v6.0h-11.8zM29.4 29.9h17.7v6.0h-17.7zM88.3 29.9h5.9v6.0h-5.9zM41.2 35.9h5.9v6.0h-5.9zM76.6 35.9h5.9v6.0h-5.9zM82.4 41.8h5.9v6.0h-5.9zM76.6 47.8h5.9v6.0h-5.9zM76.6 53.8h5.9v6.0h-5.9zM0.0 59.8h11.8v6.0h-11.8zM23.6 59.8h29.4v6.0h-29.4zM58.9 59.8h11.8v6.0h-11.8zM100.1 59.8h5.9v6.0h-5.9zM0.0 65.7h11.8v6.0h-11.8zM23.6 65.7h23.6v6.0h-23.6zM94.2 65.7h11.8v6.0h-11.8zM5.9 71.7h11.8v6.0h-11.8zM23.6 71.7h11.8v6.0h-11.8zM41.2 71.7h5.9v6.0h-5.9zM94.2 71.7h11.8v6.0h-11.8zM5.9 77.7h29.4v6.0h-29.4zM58.9 77.7h23.6v6.0h-23.6zM11.8 83.7h35.3v6.0h-35.3zM58.9 83.7h23.6v6.0h-23.6zM17.7 89.6h17.7v6.0h-17.7zM58.9 89.6h23.6v6.0h-23.6zM53.0 95.6h11.8v6.0h-11.8zM70.7 95.6h11.8v6.0h-11.8zM58.9 101.6h23.6v6.0h-23.6zM100.1 101.6h5.9v6.0h-5.9zM47.1 107.6h5.9v6.0h-5.9zM64.8 107.6h11.8v6.0h-11.8zM88.3 107.6h17.7v6.0h-17.7zM47.1 113.5h23.6v6.0h-23.6zM100.1 113.5h5.9v6.0h-5.9zM94.2 125.5h11.8v6.0h-11.8zM82.4 131.5h23.6v6.0h-23.6zM76.6 137.5h11.8v6.0h-11.8zM94.2 137.5h11.8v6.0h-11.8zM76.6 143.4h11.8v6.0h-11.8zM94.2 143.4h11.8v6.0h-11.8zM64.8 149.4h5.9v6.0h-5.9zM76.6 149.4h29.4v6.0h-29.4zM64.8 155.4h11.8v6.0h-11.8zM5.9 167.3h5.9v6.0h-5.9zM5.9 179.3h5.9v6.0h-5.9zM35.3 179.3h5.9v6.0h-5.9zM5.9 185.3h5.9v6.0h-5.9zM41.2 185.3h5.9v6.0h-5.9zM53.0 185.3h5.9v6.0h-5.9zM64.8 185.3h5.9v6.0h-5.9zM5.9 191.2h5.9v6.0h-5.9zM47.1 191.2h5.9v6.0h-5.9zM64.8 191.2h5.9v6.0h-5.9zM64.8 197.2h5.9v6.0h-5.9zM94.2 197.2h5.9v6.0h-5.9zM0.0 203.2h5.9v6.0h-5.9zM41.2 221.1h5.9v6.0h-5.9zM17.7 227.1h5.9v6.0h-5.9zM35.3 227.1h5.9v6.0h-5.9zM47.1 233.1h5.9v6.0h-5.9z" fill="url(#P0_103)"/>
<path d="M5.9 12.0h5.9v6.0h-5.9zM0.0 29.9h5.9v6.0h-5.9zM23.6 29.9h5.9v6.0h-5.9zM35.3 35.9h5.9v6.0h-5.9zM70.7 53.8h5.9v6.0h-5.9zM17.7 71.7h5.9v6.0h-5.9zM35.3 71.7h5.9v6.0h-5.9zM35.3 77.7h11.8v6.0h-11.8zM5.9 89.6h5.9v6.0h-5.9zM47.1 95.6h5.9v6.0h-5.9zM64.8 95.6h5.9v6.0h-5.9zM47.1 101.6h11.8v6.0h-11.8zM53.0 107.6h11.8v6.0h-11.8zM70.7 137.5h5.9v6.0h-5.9zM70.7 143.4h5.9v6.0h-5.9zM88.3 143.4h5.9v6.0h-5.9zM70.7 149.4h5.9v6.0h-5.9zM76.6 155.4h5.9v6.0h-5.9zM0.0 197.2h5.9v6.0h-5.9zM41.2 227.1h5.9v6.0h-5.9zM41.2 233.1h5.9v6.0h-5.9z" fill="url(#P0_116)"/>
<path d="M100.1 12.0h5.9v6.0h-5.9zM53.0 41.8h5.9v6.0h-5.9zM0.0 47.8h5.9v6.0h-5.9zM53.0 47.8h5.9v6.0h-5.9zM11.8 107.6h5.9v6.0h-5.9zM5.9 113.5h5.9v6.0h-5.9z" fill="url(#P0_121)"/>
<path d="M35.3 17.9h5.9v6.0h-5.9zM35.3 23.9h5.9v6.0h-5.9zM47.1 23.9h5.9v6.0h-5.9zM47.1 29.9h5.9v6.0h-5.9zM82.4 29.9h5.9v6.0h-5.9zM82.4 35.9h5.9v6.0h-5.9zM76.6 41.8h5.9v6.0h-5.9zM53.0 89.6h5.9v6.0h-5.9zM100.1 89.6h5.9v6.0h-5.9zM82.4 101.6h5.9v6.0h-5.9zM76.6 107.6h11.8v6.0h-11.8zM70.7 113.5h5.9v6.0h-5.9zM70.7 131.5h11.8v6.0h-11.8zM58.9 137.5h11.8v6.0h-11.8zM17.7 143.4h5.9v6.0h-5.9zM58.9 143.4h11.8v6.0h-11.8zM11.8 149.4h5.9v6.0h-5.9zM23.6 149.4h5.9v6.0h-5.9zM58.9 149.4h5.9v6.0h-5.9zM11.8 155.4h5.9v6.0h-5.9zM11.8 161.4h5.9v6.0h-5.9zM64.8 161.4h5.9v6.0h-5.9zM0.0 167.3h5.9v6.0h-5.9zM11.8 167.3h5.9v6.0h-5.9zM5.9 173.3h5.9v6.0h-5.9zM35.3 173.3h5.9v6.0h-5.9zM0.0 179.3h5.9v6.0h-5.9zM29.4 179.3h5.9v6.0h-5.9zM0.0 185.3h5.9v6.0h-5.9zM35.3 185.3h5.9v6.0h-5.9zM47.1 185.3h5.9v6.0h-5.9zM58.9 185.3h5.9v6.0h-5.9zM94.2 185.3h5.9v6.0h-5.9zM0.0 191.2h5.9v6.0h-5.9zM29.4 191.2h5.9v6.0h-5.9zM41.2 191.2h5.9v6.0h-5.9zM53.0 191.2h5.9v6.0h-5.9zM70.7 191.2h11.8v6.0h-11.8zM88.3 191.2h11.8v6.0h-11.8zM5.9 197.2h5.9v6.0h-5.9zM41.2 197.2h5.9v6.0h-5.9zM58.9 197.2h5.9v6.0h-5.9zM82.4 197.2h5.9v6.0h-5.9zM47.1 203.2h5.9v6.0h-5.9zM41.2 209.2h5.9v6.0h-5.9zM17.7 221.1h5.9v6.0h-5.9zM35.3 221.1h5.9v6.0h-5.9zM11.8 227.1h5.9v6.0h-5.9zM88.3 227.1h5.9v6.0h-5.9zM94.2 233.1h5.9v6.0h-5.9zM88.3 239.0h5.9v6.0h-5.9z" fill="url(#P1_108)"/>
<path d="M5.9 125.5h11.8v6.0h-11.8zM5.9 131.5h29.4v6.0h-29.4zM5.9 137.5h35.3v6.0h-35.3zM5.9 143.4h11.8v6.0h-11.8zM23.6 143.4h17.7v6.0h-17.7zM5.9 149.4h5.9v6.0h-5.9zM17.7 149.4h5.9v6.0h-5.9zM29.4 149.4h11.8v6.0h-11.8zM5.9 155.4h5.9v6.0h-5.9zM17.7 155.4h5.9v6.0h-5.9zM29.4 155.4h11.8v6.0h-11.8zM0.0 161.4h11.8v6.0h-11.8zM17.7 161.4h5.9v6.0h-5.9zM35.3 161.4h5.9v6.0h-5.9zM29.4 167.3h5.9v6.0h-5.9zM0.0 173.3h5.9v6.0h-5.9zM29.4 173.3h5.9v6.0h-5.9zM23.6 179.3h5.9v6.0h-5.9zM41.2 179.3h5.9v6.0h-5.9zM29.4 185.3h5.9v6.0h-5.9zM35.3 191.2h5.9v6.0h-5.9zM58.9 191.2h5.9v6.0h-5.9zM82.4 191.2h5.9v6.0h-5.9zM29.4 197.2h11.8v6.0h-11.8zM47.1 197.2h11.8v6.0h-11.8zM70.7 197.2h11.8v6.0h-11.8zM88.3 197.2h5.9v6.0h-5.9zM5.9 203.2h5.9v6.0h-5.9zM29.4 203.2h17.7v6.0h-17.7zM53.0 203.2h35.3v6.0h-35.3zM94.2 203.2h11.8v6.0h-11.8zM0.0 209.2h5.9v6.0h-5.9zM29.4 209.2h11.8v6.0h-11.8zM47.1 209.2h58.9v6.0h-58.9zM29.4 215.1h23.6v6.0h-23.6zM58.9 215.1h17.7v6.0h-17.7zM82.4 215.1h17.7v6.0h-17.7zM11.8 221.1h5.9v6.0h-5.9zM47.1 221.1h5.9v6.0h-5.9zM88.3 221.1h11.8v6.0h-11.8zM5.9 227.1h5.9v6.0h-5.9zM47.1 227.1h5.9v6.0h-5.9zM82.4 227.1h5.9v6.0h-5.9zM94.2 227.1h11.8v6.0h-11.8zM5.9 233.1h11.8v6.0h-11.8zM35.3 233.1h5.9v6.0h-5.9zM82.4 233.1h11.8v6.0h-11.8zM100.1 233.1h5.9v6.0h-5.9zM5.9 239.0h11.8v6.0h-11.8zM41.2 239.0h5.9v6.0h-5.9zM76.6 239.0h11.8v6.0h-11.8zM94.2 239.0h11.8v6.0h-11.8zM82.4 245.0h23.6v6.0h-23.6z" fill="url(#P1_119)"/>
<path d="M17.7 167.3h5.9v6.0h-5.9zM35.3 167.3h11.8v6.0h-11.8zM11.8 173.3h5.9v6.0h-5.9zM11.8 185.3h11.8v6.0h-11.8zM82.4 185.3h11.8v6.0h-11.8zM11.8 191.2h11.8v6.0h-11.8zM11.8 197.2h5.9v6.0h-5.9zM23.6 197.2h5.9v6.0h-5.9zM11.8 203.2h11.8v6.0h-11.8zM11.8 209.2h11.8v6.0h-11.8z" fill="url(#P0_113)"/>
</g><rect x="103" y="0" width="3" height="251" fill="#c5c4c4"/></svg>
<svg x="270" y="41" width="106" height="251" viewBox="0 0 106 251"><g filter="url(#mb)">
<rect width="106" height="251" fill="#c5c4c4"/>
<path d="M0.0 0.0h5.9v6.0h-5.9zM100.1 0.0h5.9v6.0h-5.9zM35.3 6.0h5.9v6.0h-5.9zM58.9 6.0h5.9v6.0h-5.9zM70.7 6.0h5.9v6.0h-5.9zM100.1 6.0h5.9v6.0h-5.9zM29.4 12.0h5.9v6.0h-5.9zM47.1 12.0h5.9v6.0h-5.9zM70.7 12.0h5.9v6.0h-5.9zM0.0 17.9h23.6v6.0h-23.6zM47.1 17.9h5.9v6.0h-5.9zM82.4 17.9h5.9v6.0h-5.9zM100.1 17.9h5.9v6.0h-5.9zM0.0 23.9h5.9v6.0h-5.9zM100.1 23.9h5.9v6.0h-5.9zM100.1 29.9h5.9v6.0h-5.9zM100.1 35.9h5.9v6.0h-5.9zM100.1 41.8h5.9v6.0h-5.9zM5.9 47.8h5.9v6.0h-5.9zM23.6 47.8h5.9v6.0h-5.9zM82.4 47.8h23.6v6.0h-23.6zM70.7 53.8h11.8v6.0h-11.8zM94.2 53.8h11.8v6.0h-11.8zM70.7 59.8h5.9v6.0h-5.9zM94.2 59.8h5.9v6.0h-5.9zM17.7 65.7h5.9v6.0h-5.9zM47.1 65.7h5.9v6.0h-5.9zM88.3 65.7h5.9v6.0h-5.9zM0.0 71.7h5.9v6.0h-5.9zM47.1 71.7h5.9v6.0h-5.9zM88.3 71.7h5.9v6.0h-5.9zM0.0 77.7h5.9v6.0h-5.9zM47.1 77.7h5.9v6.0h-5.9zM82.4 77.7h5.9v6.0h-5.9zM94.2 77.7h5.9v6.0h-5.9zM5.9 83.7h5.9v6.0h-5.9zM47.1 83.7h11.8v6.0h-11.8zM82.4 83.7h5.9v6.0h-5.9zM11.8 89.6h5.9v6.0h-5.9zM35.3 89.6h5.9v6.0h-5.9zM82.4 89.6h5.9v6.0h-5.9zM94.2 89.6h5.9v6.0h-5.9zM82.4 95.6h17.7v6.0h-17.7zM88.3 101.6h11.8v6.0h-11.8zM41.2 113.5h5.9v6.0h-5.9zM76.6 113.5h5.9v6.0h-5.9zM88.3 113.5h5.9v6.0h-5.9zM17.7 119.5h5.9v6.0h-5.9zM58.9 119.5h5.9v6.0h-5.9zM82.4 119.5h5.9v6.0h-5.9zM94.2 119.5h5.9v6.0h-5.9zM0.0 125.5h5.9v6.0h-5.9zM17.7 125.5h11.8v6.0h-11.8zM82.4 125.5h11.8v6.0h-11.8zM0.0 131.5h5.9v6.0h-5.9zM35.3 131.5h5.9v6.0h-5.9zM0.0 149.4h5.9v6.0h-5.9zM41.2 149.4h5.9v6.0h-5.9zM23.6 155.4h5.9v6.0h-5.9zM41.2 155.4h5.9v6.0h-5.9zM58.9 155.4h5.9v6.0h-5.9zM82.4 155.4h23.6v6.0h-23.6zM23.6 161.4h11.8v6.0h-11.8zM58.9 161.4h5.9v6.0h-5.9zM70.7 161.4h5.9v6.0h-5.9zM23.6 167.3h5.9v6.0h-5.9zM47.1 167.3h11.8v6.0h-11.8zM41.2 173.3h11.8v6.0h-11.8zM47.1 179.3h11.8v6.0h-11.8zM23.6 185.3h5.9v6.0h-5.9zM70.7 185.3h11.8v6.0h-11.8zM100.1 185.3h5.9v6.0h-5.9zM23.6 191.2h5.9v6.0h-5.9zM100.1 191.2h5.9v6.0h-5.9zM17.7 197.2h5.9v6.0h-5.9zM100.1 197.2h5.9v6.0h-5.9zM23.6 203.2h5.9v6.0h-5.9zM88.3 203.2h5.9v6.0h-5.9zM5.9 209.2h5.9v6.0h-5.9zM23.6 209.2h5.9v6.0h-5.9zM0.0 215.1h5.9v6.0h-5.9zM17.7 215.1h11.8v6.0h-11.8zM53.0 215.1h5.9v6.0h-5.9zM76.6 215.1h5.9v6.0h-5.9zM100.1 215.1h5.9v6.0h-5.9zM5.9 221.1h5.9v6.0h-5.9zM29.4 221.1h5.9v6.0h-5.9zM53.0 221.1h11.8v6.0h-11.8zM82.4 221.1h5.9v6.0h-5.9zM100.1 221.1h5.9v6.0h-5.9zM29.4 227.1h5.9v6.0h-5.9zM53.0 227.1h5.9v6.0h-5.9zM76.6 227.1h5.9v6.0h-5.9zM17.7 233.1h5.9v6.0h-5.9zM29.4 233.1h5.9v6.0h-5.9zM53.0 233.1h5.9v6.0h-5.9zM76.6 233.1h5.9v6.0h-5.9zM35.3 239.0h5.9v6.0h-5.9zM47.1 239.0h5.9v6.0h-5.9zM5.9 245.0h5.9v6.0h-5.9zM76.6 245.0h5.9v6.0h-5.9z" fill="url(#P0_112)"/>
<path d="M5.9 0.0h11.8v6.0h-11.8zM23.6 0.0h11.8v6.0h-11.8zM76.6 0.0h5.9v6.0h-5.9zM88.3 0.0h5.9v6.0h-5.9zM17.7 6.0h17.7v6.0h-17.7zM53.0 6.0h5.9v6.0h-5.9zM94.2 6.0h5.9v6.0h-5.9zM17.7 12.0h11.8v6.0h-11.8zM53.0 12.0h17.7v6.0h-17.7zM88.3 12.0h11.8v6.0h-11.8zM53.0 17.9h17.7v6.0h-17.7zM88.3 17.9h11.8v6.0h-11.8zM5.9 23.9h5.9v6.0h-5.9zM17.7 23.9h5.9v6.0h-5.9zM58.9 23.9h11.8v6.0h-11.8zM76.6 23.9h11.8v6.0h-11.8zM5.9 29.9h5.9v6.0h-5.9zM53.0 29.9h11.8v6.0h-11.8zM70.7 29.9h5.9v6.0h-5.9zM82.4 29.9h5.9v6.0h-5.9zM0.0 35.9h5.9v6.0h-5.9zM17.7 35.9h5.9v6.0h-5.9zM53.0 35.9h11.8v6.0h-11.8zM70.7 35.9h29.4v6.0h-29.4zM0.0 41.8h17.7v6.0h-17.7zM41.2 41.8h11.8v6.0h-11.8zM58.9 41.8h23.6v6.0h-23.6zM88.3 41.8h11.8v6.0h-11.8zM29.4 47.8h11.8v6.0h-11.8zM47.1 47.8h5.9v6.0h-5.9zM58.9 47.8h11.8v6.0h-11.8zM23.6 53.8h11.8v6.0h-11.8zM47.1 53.8h23.6v6.0h-23.6zM0.0 95.6h17.7v6.0h-17.7zM23.6 95.6h11.8v6.0h-11.8zM0.0 101.6h5.9v6.0h-5.9zM11.8 101.6h23.6v6.0h-23.6zM0.0 107.6h11.8v6.0h-11.8zM17.7 107.6h5.9v6.0h-5.9zM29.4 107.6h17.7v6.0h-17.7zM0.0 113.5h5.9v6.0h-5.9zM11.8 113.5h29.4v6.0h-29.4zM0.0 119.5h17.7v6.0h-17.7z" fill="url(#P2_111)"/>
<path d="M17.7 0.0h5.9v6.0h-5.9zM70.7 17.9h5.9v6.0h-5.9zM11.8 23.9h5.9v6.0h-5.9zM70.7 23.9h5.9v6.0h-5.9zM11.8 29.9h5.9v6.0h-5.9zM64.8 29.9h5.9v6.0h-5.9zM76.6 29.9h5.9v6.0h-5.9zM5.9 35.9h11.8v6.0h-11.8zM23.6 35.9h5.9v6.0h-5.9zM64.8 35.9h5.9v6.0h-5.9zM17.7 41.8h23.6v6.0h-23.6zM82.4 41.8h5.9v6.0h-5.9zM41.2 47.8h5.9v6.0h-5.9zM35.3 95.6h11.8v6.0h-11.8zM5.9 101.6h5.9v6.0h-5.9zM35.3 101.6h11.8v6.0h-11.8zM23.6 107.6h5.9v6.0h-5.9z" fill="url(#P0_114)"/>
<path d="M35.3 0.0h5.9v6.0h-5.9zM82.4 0.0h5.9v6.0h-5.9zM94.2 0.0h5.9v6.0h-5.9zM11.8 6.0h5.9v6.0h-5.9zM76.6 6.0h17.7v6.0h-17.7zM11.8 12.0h5.9v6.0h-5.9zM76.6 12.0h11.8v6.0h-11.8zM23.6 17.9h5.9v6.0h-5.9zM76.6 17.9h5.9v6.0h-5.9zM53.0 23.9h5.9v6.0h-5.9zM88.3 23.9h11.8v6.0h-11.8zM17.7 29.9h5.9v6.0h-5.9zM94.2 29.9h5.9v6.0h-5.9zM29.4 35.9h5.9v6.0h-5.9zM47.1 35.9h5.9v6.0h-5.9zM76.6 47.8h5.9v6.0h-5.9zM0.0 53.8h5.9v6.0h-5.9zM35.3 53.8h11.8v6.0h-11.8zM100.1 77.7h5.9v6.0h-5.9zM100.1 83.7h5.9v6.0h-5.9zM0.0 89.6h5.9v6.0h-5.9zM17.7 95.6h5.9v6.0h-5.9zM100.1 95.6h5.9v6.0h-5.9zM82.4 113.5h5.9v6.0h-5.9zM94.2 113.5h5.9v6.0h-5.9zM88.3 119.5h5.9v6.0h-5.9zM100.1 119.5h5.9v6.0h-5.9zM88.3 137.5h5.9v6.0h-5.9z" fill="url(#P0_109)"/>
<path d="M0.0 6.0h11.8v6.0h-11.8zM0.0 12.0h5.9v6.0h-5.9zM29.4 17.9h5.9v6.0h-5.9zM41.2 17.9h5.9v6.0h-5.9zM23.6 23.9h11.8v6.0h-11.8zM41.2 23.9h5.9v6.0h-5.9zM29.4 29.9h17.7v6.0h-17.7zM88.3 29.9h5.9v6.0h-5.9zM41.2 35.9h5.9v6.0h-5.9zM0.0 59.8h11.8v6.0h-11.8zM23.6 59.8h29.4v6.0h-29.4zM58.9 59.8h11.8v6.0h-11.8zM100.1 59.8h5.9v6.0h-5.9zM0.0 65.7h11.8v6.0h-11.8zM23.6 65.7h23.6v6.0h-23.6zM94.2 65.7h11.8v6.0h-11.8zM5.9 71.7h11.8v6.0h-11.8zM23.6 71.7h11.8v6.0h-11.8zM41.2 71.7h5.9v6.0h-5.9zM94.2 71.7h11.8v6.0h-11.8zM5.9 77.7h29.4v6.0h-29.4zM58.9 77.7h23.6v6.0h-23.6zM11.8 83.7h35.3v6.0h-35.3zM58.9 83.7h23.6v6.0h-23.6zM17.7 89.6h17.7v6.0h-17.7zM58.9 89.6h23.6v6.0h-23.6zM53.0 95.6h11.8v6.0h-11.8zM70.7 95.6h11.8v6.0h-11.8zM58.9 101.6h23.6v6.0h-23.6zM100.1 101.6h5.9v6.0h-5.9zM47.1 107.6h5.9v6.0h-5.9zM64.8 107.6h11.8v6.0h-11.8zM88.3 107.6h17.7v6.0h-17.7zM47.1 113.5h23.6v6.0h-23.6zM100.1 113.5h5.9v6.0h-5.9zM94.2 125.5h11.8v6.0h-11.8zM82.4 131.5h23.6v6.0h-23.6zM76.6 137.5h11.8v6.0h-11.8zM94.2 137.5h11.8v6.0h-11.8zM76.6 143.4h11.8v6.0h-11.8zM94.2 143.4h11.8v6.0h-11.8zM64.8 149.4h5.9v6.0h-5.9zM76.6 149.4h29.4v6.0h-29.4zM64.8 155.4h11.8v6.0h-11.8zM5.9 167.3h5.9v6.0h-5.9zM5.9 179.3h5.9v6.0h-5.9zM35.3 179.3h5.9v6.0h-5.9zM5.9 185.3h5.9v6.0h-5.9zM41.2 185.3h5.9v6.0h-5.9zM53.0 185.3h5.9v6.0h-5.9zM64.8 185.3h5.9v6.0h-5.9zM5.9 191.2h5.9v6.0h-5.9zM47.1 191.2h5.9v6.0h-5.9zM64.8 191.2h5.9v6.0h-5.9zM64.8 197.2h5.9v6.0h-5.9zM94.2 197.2h5.9v6.0h-5.9zM0.0 203.2h5.9v6.0h-5.9zM41.2 221.1h5.9v6.0h-5.9zM17.7 227.1h5.9v6.0h-5.9zM35.3 227.1h5.9v6.0h-5.9zM47.1 233.1h5.9v6.0h-5.9z" fill="url(#P2_103)"/>
<path d="M5.9 12.0h5.9v6.0h-5.9zM0.0 29.9h5.9v6.0h-5.9zM23.6 29.9h5.9v6.0h-5.9zM35.3 35.9h5.9v6.0h-5.9zM70.7 47.8h5.9v6.0h-5.9zM17.7 71.7h5.9v6.0h-5.9zM35.3 71.7h5.9v6.0h-5.9zM35.3 77.7h11.8v6.0h-11.8zM5.9 89.6h5.9v6.0h-5.9zM47.1 95.6h5.9v6.0h-5.9zM64.8 95.6h5.9v6.0h-5.9zM47.1 101.6h11.8v6.0h-11.8zM53.0 107.6h11.8v6.0h-11.8zM70.7 137.5h5.9v6.0h-5.9zM70.7 143.4h5.9v6.0h-5.9zM88.3 143.4h5.9v6.0h-5.9zM70.7 149.4h5.9v6.0h-5.9zM76.6 155.4h5.9v6.0h-5.9zM0.0 197.2h5.9v6.0h-5.9zM41.2 227.1h5.9v6.0h-5.9zM41.2 233.1h5.9v6.0h-5.9z" fill="url(#P2_116)"/>
<path d="M100.1 12.0h5.9v6.0h-5.9zM53.0 41.8h5.9v6.0h-5.9zM0.0 47.8h5.9v6.0h-5.9zM53.0 47.8h5.9v6.0h-5.9zM11.8 107.6h5.9v6.0h-5.9zM5.9 113.5h5.9v6.0h-5.9z" fill="url(#P0_121)"/>
<path d="M35.3 17.9h5.9v6.0h-5.9zM35.3 23.9h5.9v6.0h-5.9zM47.1 23.9h5.9v6.0h-5.9zM47.1 29.9h5.9v6.0h-5.9zM53.0 89.6h5.9v6.0h-5.9zM100.1 89.6h5.9v6.0h-5.9zM82.4 101.6h5.9v6.0h-5.9zM76.6 107.6h11.8v6.0h-11.8zM70.7 113.5h5.9v6.0h-5.9zM70.7 131.5h11.8v6.0h-11.8zM58.9 137.5h11.8v6.0h-11.8zM17.7 143.4h5.9v6.0h-5.9zM58.9 143.4h11.8v6.0h-11.8zM11.8 149.4h5.9v6.0h-5.9zM23.6 149.4h5.9v6.0h-5.9zM58.9 149.4h5.9v6.0h-5.9zM11.8 155.4h5.9v6.0h-5.9zM11.8 161.4h5.9v6.0h-5.9zM64.8 161.4h5.9v6.0h-5.9zM0.0 167.3h5.9v6.0h-5.9zM11.8 167.3h5.9v6.0h-5.9zM5.9 173.3h5.9v6.0h-5.9zM35.3 173.3h5.9v6.0h-5.9zM0.0 179.3h5.9v6.0h-5.9zM29.4 179.3h5.9v6.0h-5.9zM0.0 185.3h5.9v6.0h-5.9zM35.3 185.3h5.9v6.0h-5.9zM47.1 185.3h5.9v6.0h-5.9zM58.9 185.3h5.9v6.0h-5.9zM94.2 185.3h5.9v6.0h-5.9zM0.0 191.2h5.9v6.0h-5.9zM29.4 191.2h5.9v6.0h-5.9zM41.2 191.2h5.9v6.0h-5.9zM53.0 191.2h5.9v6.0h-5.9zM70.7 191.2h11.8v6.0h-11.8zM88.3 191.2h11.8v6.0h-11.8zM5.9 197.2h5.9v6.0h-5.9zM41.2 197.2h5.9v6.0h-5.9zM58.9 197.2h5.9v6.0h-5.9zM82.4 197.2h5.9v6.0h-5.9zM47.1 203.2h5.9v6.0h-5.9zM41.2 209.2h5.9v6.0h-5.9zM17.7 221.1h5.9v6.0h-5.9zM35.3 221.1h5.9v6.0h-5.9zM11.8 227.1h5.9v6.0h-5.9zM88.3 227.1h5.9v6.0h-5.9zM94.2 233.1h5.9v6.0h-5.9zM88.3 239.0h5.9v6.0h-5.9z" fill="url(#P2_108)"/>
<path d="M5.9 125.5h11.8v6.0h-11.8zM5.9 131.5h29.4v6.0h-29.4zM5.9 137.5h35.3v6.0h-35.3zM5.9 143.4h11.8v6.0h-11.8zM23.6 143.4h17.7v6.0h-17.7zM5.9 149.4h5.9v6.0h-5.9zM17.7 149.4h5.9v6.0h-5.9zM29.4 149.4h11.8v6.0h-11.8zM5.9 155.4h5.9v6.0h-5.9zM17.7 155.4h5.9v6.0h-5.9zM29.4 155.4h11.8v6.0h-11.8zM0.0 161.4h11.8v6.0h-11.8zM17.7 161.4h5.9v6.0h-5.9zM35.3 161.4h5.9v6.0h-5.9zM29.4 167.3h5.9v6.0h-5.9zM0.0 173.3h5.9v6.0h-5.9zM29.4 173.3h5.9v6.0h-5.9zM23.6 179.3h5.9v6.0h-5.9zM41.2 179.3h5.9v6.0h-5.9zM29.4 185.3h5.9v6.0h-5.9zM35.3 191.2h5.9v6.0h-5.9zM58.9 191.2h5.9v6.0h-5.9zM82.4 191.2h5.9v6.0h-5.9zM29.4 197.2h11.8v6.0h-11.8zM47.1 197.2h11.8v6.0h-11.8zM70.7 197.2h11.8v6.0h-11.8zM88.3 197.2h5.9v6.0h-5.9zM5.9 203.2h5.9v6.0h-5.9zM29.4 203.2h17.7v6.0h-17.7zM53.0 203.2h35.3v6.0h-35.3zM94.2 203.2h11.8v6.0h-11.8zM0.0 209.2h5.9v6.0h-5.9zM29.4 209.2h11.8v6.0h-11.8zM47.1 209.2h58.9v6.0h-58.9zM29.4 215.1h23.6v6.0h-23.6zM58.9 215.1h17.7v6.0h-17.7zM82.4 215.1h17.7v6.0h-17.7zM11.8 221.1h5.9v6.0h-5.9zM47.1 221.1h5.9v6.0h-5.9zM88.3 221.1h11.8v6.0h-11.8zM5.9 227.1h5.9v6.0h-5.9zM47.1 227.1h5.9v6.0h-5.9zM82.4 227.1h5.9v6.0h-5.9zM94.2 227.1h11.8v6.0h-11.8zM5.9 233.1h11.8v6.0h-11.8zM35.3 233.1h5.9v6.0h-5.9zM82.4 233.1h11.8v6.0h-11.8zM100.1 233.1h5.9v6.0h-5.9zM5.9 239.0h11.8v6.0h-11.8zM41.2 239.0h5.9v6.0h-5.9zM76.6 239.0h11.8v6.0h-11.8zM94.2 239.0h11.8v6.0h-11.8zM82.4 245.0h23.6v6.0h-23.6z" fill="url(#P2_119)"/>
<path d="M17.7 167.3h5.9v6.0h-5.9zM35.3 167.3h11.8v6.0h-11.8zM11.8 173.3h5.9v6.0h-5.9zM11.8 185.3h11.8v6.0h-11.8zM82.4 185.3h11.8v6.0h-11.8zM11.8 191.2h11.8v6.0h-11.8zM11.8 197.2h5.9v6.0h-5.9zM23.6 197.2h5.9v6.0h-5.9zM11.8 203.2h11.8v6.0h-11.8zM11.8 209.2h11.8v6.0h-11.8z" fill="url(#P0_113)"/>
</g><rect x="103" y="0" width="3" height="251" fill="#c5c4c4"/></svg>
<svg x="387" y="41" width="106" height="251" viewBox="0 0 106 251"><g filter="url(#mb)">
<rect width="106" height="251" fill="#c5c4c4"/>
<path d="M0.0 0.0h5.9v6.0h-5.9zM35.3 0.0h5.9v6.0h-5.9zM76.6 0.0h5.9v6.0h-5.9zM100.1 0.0h5.9v6.0h-5.9zM35.3 6.0h5.9v6.0h-5.9zM53.0 6.0h5.9v6.0h-5.9zM64.8 6.0h5.9v6.0h-5.9zM76.6 6.0h5.9v6.0h-5.9zM100.1 6.0h5.9v6.0h-5.9zM29.4 12.0h5.9v6.0h-5.9zM47.1 12.0h5.9v6.0h-5.9zM70.7 12.0h5.9v6.0h-5.9zM0.0 17.9h5.9v6.0h-5.9zM11.8 17.9h5.9v6.0h-5.9zM23.6 17.9h5.9v6.0h-5.9zM100.1 17.9h5.9v6.0h-5.9zM0.0 23.9h5.9v6.0h-5.9zM100.1 23.9h5.9v6.0h-5.9zM100.1 29.9h5.9v6.0h-5.9zM100.1 35.9h5.9v6.0h-5.9zM0.0 41.8h5.9v6.0h-5.9zM100.1 41.8h5.9v6.0h-5.9zM5.9 47.8h5.9v6.0h-5.9zM17.7 47.8h5.9v6.0h-5.9zM82.4 47.8h5.9v6.0h-5.9zM100.1 47.8h5.9v6.0h-5.9zM70.7 53.8h5.9v6.0h-5.9zM88.3 53.8h5.9v6.0h-5.9zM100.1 53.8h5.9v6.0h-5.9zM17.7 59.8h5.9v6.0h-5.9zM53.0 59.8h5.9v6.0h-5.9zM17.7 65.7h5.9v6.0h-5.9zM47.1 65.7h5.9v6.0h-5.9zM88.3 65.7h5.9v6.0h-5.9zM0.0 71.7h5.9v6.0h-5.9zM47.1 71.7h5.9v6.0h-5.9zM88.3 71.7h5.9v6.0h-5.9zM0.0 77.7h5.9v6.0h-5.9zM47.1 77.7h5.9v6.0h-5.9zM82.4 77.7h5.9v6.0h-5.9zM94.2 77.7h5.9v6.0h-5.9zM5.9 83.7h5.9v6.0h-5.9zM47.1 83.7h11.8v6.0h-11.8zM82.4 83.7h5.9v6.0h-5.9zM11.8 89.6h5.9v6.0h-5.9zM35.3 89.6h5.9v6.0h-5.9zM82.4 89.6h5.9v6.0h-5.9zM94.2 89.6h5.9v6.0h-5.9zM82.4 95.6h17.7v6.0h-17.7zM88.3 101.6h11.8v6.0h-11.8zM41.2 113.5h5.9v6.0h-5.9zM76.6 113.5h5.9v6.0h-5.9zM88.3 113.5h5.9v6.0h-5.9zM17.7 119.5h5.9v6.0h-5.9zM58.9 119.5h5.9v6.0h-5.9zM82.4 119.5h5.9v6.0h-5.9zM94.2 119.5h5.9v6.0h-5.9zM0.0 125.5h5.9v6.0h-5.9zM17.7 125.5h11.8v6.0h-11.8zM82.4 125.5h11.8v6.0h-11.8zM0.0 131.5h5.9v6.0h-5.9zM35.3 131.5h5.9v6.0h-5.9zM0.0 149.4h5.9v6.0h-5.9zM41.2 149.4h5.9v6.0h-5.9zM23.6 155.4h5.9v6.0h-5.9zM41.2 155.4h5.9v6.0h-5.9zM58.9 155.4h5.9v6.0h-5.9zM82.4 155.4h23.6v6.0h-23.6zM23.6 161.4h11.8v6.0h-11.8zM58.9 161.4h5.9v6.0h-5.9zM70.7 161.4h5.9v6.0h-5.9zM23.6 167.3h5.9v6.0h-5.9zM47.1 167.3h11.8v6.0h-11.8zM41.2 173.3h11.8v6.0h-11.8zM47.1 179.3h11.8v6.0h-11.8zM23.6 185.3h5.9v6.0h-5.9zM70.7 185.3h11.8v6.0h-11.8zM100.1 185.3h5.9v6.0h-5.9zM23.6 191.2h5.9v6.0h-5.9zM100.1 191.2h5.9v6.0h-5.9zM17.7 197.2h5.9v6.0h-5.9zM100.1 197.2h5.9v6.0h-5.9zM23.6 203.2h5.9v6.0h-5.9zM88.3 203.2h5.9v6.0h-5.9zM5.9 209.2h5.9v6.0h-5.9zM23.6 209.2h5.9v6.0h-5.9zM0.0 215.1h5.9v6.0h-5.9zM17.7 215.1h11.8v6.0h-11.8zM53.0 215.1h5.9v6.0h-5.9zM76.6 215.1h5.9v6.0h-5.9zM100.1 215.1h5.9v6.0h-5.9zM5.9 221.1h5.9v6.0h-5.9zM29.4 221.1h5.9v6.0h-5.9zM53.0 221.1h11.8v6.0h-11.8zM82.4 221.1h5.9v6.0h-5.9zM100.1 221.1h5.9v6.0h-5.9zM29.4 227.1h5.9v6.0h-5.9zM53.0 227.1h5.9v6.0h-5.9zM76.6 227.1h5.9v6.0h-5.9zM17.7 233.1h5.9v6.0h-5.9zM29.4 233.1h5.9v6.0h-5.9zM53.0 233.1h5.9v6.0h-5.9zM76.6 233.1h5.9v6.0h-5.9zM35.3 239.0h5.9v6.0h-5.9zM47.1 239.0h5.9v6.0h-5.9zM5.9 245.0h5.9v6.0h-5.9zM76.6 245.0h5.9v6.0h-5.9z" fill="url(#P0_112)"/>
<path d="M5.9 0.0h29.4v6.0h-29.4zM82.4 0.0h5.9v6.0h-5.9zM94.2 0.0h5.9v6.0h-5.9zM17.7 6.0h17.7v6.0h-17.7zM58.9 6.0h5.9v6.0h-5.9zM94.2 6.0h5.9v6.0h-5.9zM17.7 12.0h5.9v6.0h-5.9zM53.0 12.0h17.7v6.0h-17.7zM82.4 12.0h11.8v6.0h-11.8zM17.7 17.9h5.9v6.0h-5.9zM53.0 17.9h11.8v6.0h-11.8zM76.6 17.9h5.9v6.0h-5.9zM88.3 17.9h11.8v6.0h-11.8zM17.7 23.9h5.9v6.0h-5.9zM58.9 23.9h5.9v6.0h-5.9zM70.7 23.9h11.8v6.0h-11.8zM94.2 23.9h5.9v6.0h-5.9zM5.9 29.9h5.9v6.0h-5.9zM17.7 29.9h5.9v6.0h-5.9zM58.9 29.9h17.7v6.0h-17.7zM5.9 35.9h5.9v6.0h-5.9zM53.0 35.9h5.9v6.0h-5.9zM64.8 35.9h29.4v6.0h-29.4zM5.9 41.8h11.8v6.0h-11.8zM41.2 41.8h11.8v6.0h-11.8zM58.9 41.8h5.9v6.0h-5.9zM70.7 41.8h11.8v6.0h-11.8zM88.3 41.8h11.8v6.0h-11.8zM23.6 47.8h5.9v6.0h-5.9zM35.3 47.8h17.7v6.0h-17.7zM58.9 47.8h11.8v6.0h-11.8zM76.6 47.8h5.9v6.0h-5.9zM88.3 47.8h5.9v6.0h-5.9zM29.4 53.8h5.9v6.0h-5.9zM41.2 53.8h23.6v6.0h-23.6zM0.0 95.6h17.7v6.0h-17.7zM23.6 95.6h11.8v6.0h-11.8zM0.0 101.6h5.9v6.0h-5.9zM11.8 101.6h23.6v6.0h-23.6zM0.0 107.6h11.8v6.0h-11.8zM17.7 107.6h5.9v6.0h-5.9zM29.4 107.6h17.7v6.0h-17.7zM0.0 113.5h5.9v6.0h-5.9zM11.8 113.5h29.4v6.0h-29.4zM0.0 119.5h17.7v6.0h-17.7z" fill="url(#P3_111)"/>
<path d="M88.3 0.0h5.9v6.0h-5.9zM11.8 6.0h5.9v6.0h-5.9zM82.4 6.0h5.9v6.0h-5.9zM11.8 12.0h5.9v6.0h-5.9zM76.6 12.0h5.9v6.0h-5.9zM94.2 12.0h5.9v6.0h-5.9zM29.4 17.9h5.9v6.0h-5.9zM47.1 17.9h5.9v6.0h-5.9zM82.4 17.9h5.9v6.0h-5.9zM23.6 23.9h5.9v6.0h-5.9zM53.0 23.9h5.9v6.0h-5.9zM82.4 23.9h11.8v6.0h-11.8zM53.0 29.9h5.9v6.0h-5.9zM82.4 29.9h5.9v6.0h-5.9zM94.2 29.9h5.9v6.0h-5.9zM23.6 35.9h5.9v6.0h-5.9zM47.1 35.9h5.9v6.0h-5.9zM94.2 35.9h5.9v6.0h-5.9zM70.7 47.8h5.9v6.0h-5.9zM94.2 47.8h5.9v6.0h-5.9zM0.0 53.8h5.9v6.0h-5.9zM23.6 53.8h5.9v6.0h-5.9zM35.3 53.8h5.9v6.0h-5.9zM64.8 53.8h5.9v6.0h-5.9zM94.2 53.8h5.9v6.0h-5.9zM23.6 59.8h5.9v6.0h-5.9zM100.1 77.7h5.9v6.0h-5.9zM100.1 83.7h5.9v6.0h-5.9zM0.0 89.6h5.9v6.0h-5.9zM17.7 95.6h5.9v6.0h-5.9zM100.1 95.6h5.9v6.0h-5.9zM82.4 113.5h5.9v6.0h-5.9zM94.2 113.5h5.9v6.0h-5.9zM88.3 119.5h5.9v6.0h-5.9zM100.1 119.5h5.9v6.0h-5.9zM88.3 137.5h5.9v6.0h-5.9z" fill="url(#P0_109)"/>
<path d="M0.0 6.0h11.8v6.0h-11.8zM88.3 6.0h5.9v6.0h-5.9zM0.0 12.0h11.8v6.0h-11.8zM5.9 17.9h5.9v6.0h-5.9zM35.3 17.9h11.8v6.0h-11.8zM29.4 23.9h5.9v6.0h-5.9zM41.2 23.9h11.8v6.0h-11.8zM35.3 29.9h17.7v6.0h-17.7zM88.3 29.9h5.9v6.0h-5.9zM35.3 35.9h5.9v6.0h-5.9zM0.0 59.8h11.8v6.0h-11.8zM29.4 59.8h5.9v6.0h-5.9zM41.2 59.8h11.8v6.0h-11.8zM58.9 59.8h11.8v6.0h-11.8zM100.1 59.8h5.9v6.0h-5.9zM0.0 65.7h11.8v6.0h-11.8zM23.6 65.7h23.6v6.0h-23.6zM94.2 65.7h11.8v6.0h-11.8zM5.9 71.7h11.8v6.0h-11.8zM23.6 71.7h11.8v6.0h-11.8zM41.2 71.7h5.9v6.0h-5.9zM94.2 71.7h11.8v6.0h-11.8zM5.9 77.7h29.4v6.0h-29.4zM58.9 77.7h23.6v6.0h-23.6zM11.8 83.7h35.3v6.0h-35.3zM58.9 83.7h23.6v6.0h-23.6zM17.7 89.6h17.7v6.0h-17.7zM58.9 89.6h23.6v6.0h-23.6zM53.0 95.6h11.8v6.0h-11.8zM70.7 95.6h11.8v6.0h-11.8zM58.9 101.6h23.6v6.0h-23.6zM100.1 101.6h5.9v6.0h-5.9zM47.1 107.6h5.9v6.0h-5.9zM64.8 107.6h11.8v6.0h-11.8zM88.3 107.6h17.7v6.0h-17.7zM47.1 113.5h23.6v6.0h-23.6zM100.1 113.5h5.9v6.0h-5.9zM94.2 125.5h11.8v6.0h-11.8zM82.4 131.5h23.6v6.0h-23.6zM76.6 137.5h11.8v6.0h-11.8zM94.2 137.5h11.8v6.0h-11.8zM76.6 143.4h11.8v6.0h-11.8zM94.2 143.4h11.8v6.0h-11.8zM64.8 149.4h5.9v6.0h-5.9zM76.6 149.4h29.4v6.0h-29.4zM64.8 155.4h11.8v6.0h-11.8zM5.9 167.3h5.9v6.0h-5.9zM5.9 179.3h5.9v6.0h-5.9zM35.3 179.3h5.9v6.0h-5.9zM5.9 185.3h5.9v6.0h-5.9zM41.2 185.3h5.9v6.0h-5.9zM53.0 185.3h5.9v6.0h-5.9zM64.8 185.3h5.9v6.0h-5.9zM5.9 191.2h5.9v6.0h-5.9zM47.1 191.2h5.9v6.0h-5.9zM64.8 191.2h5.9v6.0h-5.9zM64.8 197.2h5.9v6.0h-5.9zM94.2 197.2h5.9v6.0h-5.9zM0.0 203.2h5.9v6.0h-5.9zM41.2 221.1h5.9v6.0h-5.9zM17.7 227.1h5.9v6.0h-5.9zM35.3 227.1h5.9v6.0h-5.9zM47.1 233.1h5.9v6.0h-5.9z" fill="url(#P0_103)"/>
<path d="M23.6 12.0h5.9v6.0h-5.9zM64.8 17.9h11.8v6.0h-11.8zM5.9 23.9h11.8v6.0h-11.8zM64.8 23.9h5.9v6.0h-5.9zM11.8 29.9h5.9v6.0h-5.9zM76.6 29.9h5.9v6.0h-5.9zM11.8 35.9h11.8v6.0h-11.8zM58.9 35.9h5.9v6.0h-5.9zM17.7 41.8h23.6v6.0h-23.6zM82.4 41.8h5.9v6.0h-5.9zM29.4 47.8h5.9v6.0h-5.9zM35.3 95.6h11.8v6.0h-11.8zM5.9 101.6h5.9v6.0h-5.9zM35.3 101.6h11.8v6.0h-11.8zM23.6 107.6h5.9v6.0h-5.9z" fill="url(#P0_114)"/>
<path d="M100.1 12.0h5.9v6.0h-5.9zM53.0 41.8h5.9v6.0h-5.9zM64.8 41.8h5.9v6.0h-5.9zM0.0 47.8h5.9v6.0h-5.9zM53.0 47.8h5.9v6.0h-5.9zM11.8 107.6h5.9v6.0h-5.9zM5.9 113.5h5.9v6.0h-5.9z" fill="url(#P0_121)"/>
<path d="M35.3 23.9h5.9v6.0h-5.9zM0.0 29.9h5.9v6.0h-5.9zM23.6 29.9h11.8v6.0h-11.8zM0.0 35.9h5.9v6.0h-5.9zM29.4 35.9h5.9v6.0h-5.9zM41.2 35.9h5.9v6.0h-5.9zM35.3 59.8h5.9v6.0h-5.9zM94.2 59.8h5.9v6.0h-5.9zM17.7 71.7h5.9v6.0h-5.9zM35.3 71.7h5.9v6.0h-5.9zM35.3 77.7h11.8v6.0h-11.8zM5.9 89.6h5.9v6.0h-5.9zM47.1 95.6h5.9v6.0h-5.9zM64.8 95.6h5.9v6.0h-5.9zM47.1 101.6h11.8v6.0h-11.8zM53.0 107.6h11.8v6.0h-11.8zM70.7 137.5h5.9v6.0h-5.9zM70.7 143.4h5.9v6.0h-5.9zM88.3 143.4h5.9v6.0h-5.9zM70.7 149.4h5.9v6.0h-5.9zM76.6 155.4h5.9v6.0h-5.9zM0.0 197.2h5.9v6.0h-5.9zM41.2 227.1h5.9v6.0h-5.9zM41.2 233.1h5.9v6.0h-5.9z" fill="url(#P0_116)"/>
<path d="M53.0 89.6h5.9v6.0h-5.9zM100.1 89.6h5.9v6.0h-5.9zM82.4 101.6h5.9v6.0h-5.9zM76.6 107.6h11.8v6.0h-11.8zM70.7 113.5h5.9v6.0h-5.9zM70.7 131.5h11.8v6.0h-11.8zM58.9 137.5h11.8v6.0h-11.8zM17.7 143.4h5.9v6.0h-5.9zM58.9 143.4h11.8v6.0h-11.8zM11.8 149.4h5.9v6.0h-5.9zM23.6 149.4h5.9v6.0h-5.9zM58.9 149.4h5.9v6.0h-5.9zM11.8 155.4h5.9v6.0h-5.9zM11.8 161.4h5.9v6.0h-5.9zM64.8 161.4h5.9v6.0h-5.9zM0.0 167.3h5.9v6.0h-5.9zM11.8 167.3h5.9v6.0h-5.9zM5.9 173.3h5.9v6.0h-5.9zM35.3 173.3h5.9v6.0h-5.9zM0.0 179.3h5.9v6.0h-5.9zM29.4 179.3h5.9v6.0h-5.9zM0.0 185.3h5.9v6.0h-5.9zM35.3 185.3h5.9v6.0h-5.9zM47.1 185.3h5.9v6.0h-5.9zM58.9 185.3h5.9v6.0h-5.9zM94.2 185.3h5.9v6.0h-5.9zM0.0 191.2h5.9v6.0h-5.9zM29.4 191.2h5.9v6.0h-5.9zM41.2 191.2h5.9v6.0h-5.9zM53.0 191.2h5.9v6.0h-5.9zM70.7 191.2h11.8v6.0h-11.8zM88.3 191.2h11.8v6.0h-11.8zM5.9 197.2h5.9v6.0h-5.9zM41.2 197.2h5.9v6.0h-5.9zM58.9 197.2h5.9v6.0h-5.9zM82.4 197.2h5.9v6.0h-5.9zM47.1 203.2h5.9v6.0h-5.9zM41.2 209.2h5.9v6.0h-5.9zM17.7 221.1h5.9v6.0h-5.9zM35.3 221.1h5.9v6.0h-5.9zM11.8 227.1h5.9v6.0h-5.9zM88.3 227.1h5.9v6.0h-5.9zM94.2 233.1h5.9v6.0h-5.9zM88.3 239.0h5.9v6.0h-5.9z" fill="url(#P0_108)"/>
<path d="M5.9 125.5h11.8v6.0h-11.8zM5.9 131.5h29.4v6.0h-29.4zM5.9 137.5h35.3v6.0h-35.3zM5.9 143.4h11.8v6.0h-11.8zM23.6 143.4h17.7v6.0h-17.7zM5.9 149.4h5.9v6.0h-5.9zM17.7 149.4h5.9v6.0h-5.9zM29.4 149.4h11.8v6.0h-11.8zM5.9 155.4h5.9v6.0h-5.9zM17.7 155.4h5.9v6.0h-5.9zM29.4 155.4h11.8v6.0h-11.8zM0.0 161.4h11.8v6.0h-11.8zM17.7 161.4h5.9v6.0h-5.9zM35.3 161.4h5.9v6.0h-5.9zM29.4 167.3h5.9v6.0h-5.9zM0.0 173.3h5.9v6.0h-5.9zM29.4 173.3h5.9v6.0h-5.9zM23.6 179.3h5.9v6.0h-5.9zM41.2 179.3h5.9v6.0h-5.9zM29.4 185.3h5.9v6.0h-5.9zM35.3 191.2h5.9v6.0h-5.9zM58.9 191.2h5.9v6.0h-5.9zM82.4 191.2h5.9v6.0h-5.9zM29.4 197.2h11.8v6.0h-11.8zM47.1 197.2h11.8v6.0h-11.8zM70.7 197.2h11.8v6.0h-11.8zM88.3 197.2h5.9v6.0h-5.9zM5.9 203.2h5.9v6.0h-5.9zM29.4 203.2h17.7v6.0h-17.7zM53.0 203.2h35.3v6.0h-35.3zM94.2 203.2h11.8v6.0h-11.8zM0.0 209.2h5.9v6.0h-5.9zM29.4 209.2h11.8v6.0h-11.8zM47.1 209.2h58.9v6.0h-58.9zM29.4 215.1h23.6v6.0h-23.6zM58.9 215.1h17.7v6.0h-17.7zM82.4 215.1h17.7v6.0h-17.7zM11.8 221.1h5.9v6.0h-5.9zM47.1 221.1h5.9v6.0h-5.9zM88.3 221.1h11.8v6.0h-11.8zM5.9 227.1h5.9v6.0h-5.9zM47.1 227.1h5.9v6.0h-5.9zM82.4 227.1h5.9v6.0h-5.9zM94.2 227.1h11.8v6.0h-11.8zM5.9 233.1h11.8v6.0h-11.8zM35.3 233.1h5.9v6.0h-5.9zM82.4 233.1h11.8v6.0h-11.8zM100.1 233.1h5.9v6.0h-5.9zM5.9 239.0h11.8v6.0h-11.8zM41.2 239.0h5.9v6.0h-5.9zM76.6 239.0h11.8v6.0h-11.8zM94.2 239.0h11.8v6.0h-11.8zM82.4 245.0h23.6v6.0h-23.6z" fill="url(#P3_119)"/>
<path d="M17.7 167.3h5.9v6.0h-5.9zM35.3 167.3h11.8v6.0h-11.8zM11.8 173.3h5.9v6.0h-5.9zM11.8 185.3h11.8v6.0h-11.8zM82.4 185.3h11.8v6.0h-11.8zM11.8 191.2h11.8v6.0h-11.8zM11.8 197.2h5.9v6.0h-5.9zM23.6 197.2h5.9v6.0h-5.9zM11.8 203.2h11.8v6.0h-11.8zM11.8 209.2h11.8v6.0h-11.8z" fill="url(#P0_113)"/>
<path d="M100 167l2.5 1v12l-2.5-1z" fill="#d63a20"/>
</g><rect x="103" y="0" width="3" height="251" fill="#c5c4c4"/></svg>
<rect x="119.00" y="304.5" width="12.61" height="6.3" fill="#ad0b0b"/>
<rect x="131.91" y="304.5" width="12.61" height="6.3" fill="#f0450f"/>
<rect x="144.82" y="304.5" width="12.61" height="6.3" fill="#f99843"/>
<rect x="157.73" y="304.5" width="12.61" height="6.3" fill="#fdd63e"/>
<rect x="170.64" y="304.5" width="12.61" height="6.3" fill="#fffaae"/>
<rect x="183.55" y="304.5" width="12.61" height="6.3" fill="#ececec"/>
<rect x="196.45" y="304.5" width="12.61" height="6.3" fill="#c8f8c3"/>
<rect x="209.36" y="304.5" width="12.61" height="6.3" fill="#7adc98"/>
<rect x="222.27" y="304.5" width="12.61" height="6.3" fill="#2caf8c"/>
<rect x="235.18" y="304.5" width="12.61" height="6.3" fill="#108c96"/>
<rect x="248.09" y="304.5" width="12.61" height="6.3" fill="#1043a0"/>
<text transform="translate(129.3,319) rotate(-40)" font-size="10" text-anchor="end" fill="#111">&lt;&#8722;3.5</text>
<text transform="translate(142.4,319) rotate(-40)" font-size="10" text-anchor="end" fill="#111">&#8722;3.5&#8211;&#8722;2.8</text>
<text transform="translate(155.5,319) rotate(-40)" font-size="10" text-anchor="end" fill="#111">&#8722;2.8&#8211;&#8722;2.1</text>
<text transform="translate(168.6,319) rotate(-40)" font-size="10" text-anchor="end" fill="#111">&#8722;2.1&#8211;&#8722;1.4</text>
<text transform="translate(181.8,319) rotate(-40)" font-size="10" text-anchor="end" fill="#111">&#8722;1.4&#8211;&#8722;0.7</text>
<text transform="translate(194.9,319) rotate(-40)" font-size="10" text-anchor="end" fill="#111">&#8722;0.7&#8211;0.7</text>
<text transform="translate(208.0,319) rotate(-40)" font-size="10" text-anchor="end" fill="#111">0.7&#8211;1.4</text>
<text transform="translate(221.2,319) rotate(-40)" font-size="10" text-anchor="end" fill="#111">1.4&#8211;2.1</text>
<text transform="translate(234.3,319) rotate(-40)" font-size="10" text-anchor="end" fill="#111">2.1&#8211;2.8</text>
<text transform="translate(247.4,319) rotate(-40)" font-size="10" text-anchor="end" fill="#111">2.8&#8211;3.5</text>
<text transform="translate(260.5,319) rotate(-40)" font-size="10" text-anchor="end" fill="#111">&gt;3.5</text>
<text x="37" y="310.2" font-size="11.4" font-weight="normal" text-anchor="start" fill="#111" textLength="71" lengthAdjust="spacingAndGlyphs">Differences [m]</text>
<rect x="280" y="317.5" width="28" height="12" fill="#d6d6d6" stroke="#c4c4c4" stroke-width="1"/>
<text x="314.3" y="329" font-size="10.2" font-weight="normal" text-anchor="start" fill="#000" >masked area</text>
<path d="M405 324.5 V330 H469 V324.5 M437.5 330 V324.5" fill="none" stroke="#000" stroke-width="1.6"/>
<text x="405" y="322" font-size="10.5" font-weight="normal" text-anchor="middle" fill="#000" >0</text>
<text x="438" y="322" font-size="10.5" font-weight="normal" text-anchor="middle" fill="#000" >2.5</text>
<text x="465.6" y="322" font-size="10.5" font-weight="normal" text-anchor="start" fill="#000" >5 km</text>
<text x="7.8" y="358.5" font-size="14.2" font-weight="bold" text-anchor="start" fill="#000" textLength="16.6" lengthAdjust="spacingAndGlyphs">(b)</text>
<rect x="30.5" y="367.3" width="209.0" height="147.49999999999994" fill="none" stroke="#9a9a9a" stroke-width="1"/>
<line x1="30.30" y1="514.8" x2="30.30" y2="516.8" stroke="#9a9a9a"/>
<line x1="30.30" y1="367.3" x2="30.30" y2="365.3" stroke="#9a9a9a"/>
<text transform="translate(30.90,526.2) scale(0.86,1)" font-size="9" text-anchor="middle" fill="#333">-10</text>
<line x1="51.20" y1="514.8" x2="51.20" y2="516.8" stroke="#9a9a9a"/>
<line x1="51.20" y1="367.3" x2="51.20" y2="365.3" stroke="#9a9a9a"/>
<text transform="translate(51.80,526.2) scale(0.86,1)" font-size="9" text-anchor="middle" fill="#333">-8</text>
<line x1="72.10" y1="514.8" x2="72.10" y2="516.8" stroke="#9a9a9a"/>
<line x1="72.10" y1="367.3" x2="72.10" y2="365.3" stroke="#9a9a9a"/>
<text transform="translate(72.70,526.2) scale(0.86,1)" font-size="9" text-anchor="middle" fill="#333">-6</text>
<line x1="93.00" y1="514.8" x2="93.00" y2="516.8" stroke="#9a9a9a"/>
<line x1="93.00" y1="367.3" x2="93.00" y2="365.3" stroke="#9a9a9a"/>
<text transform="translate(93.60,526.2) scale(0.86,1)" font-size="9" text-anchor="middle" fill="#333">-4</text>
<line x1="113.90" y1="514.8" x2="113.90" y2="516.8" stroke="#9a9a9a"/>
<line x1="113.90" y1="367.3" x2="113.90" y2="365.3" stroke="#9a9a9a"/>
<text transform="translate(114.50,526.2) scale(0.86,1)" font-size="9" text-anchor="middle" fill="#333">-2</text>
<line x1="134.80" y1="514.8" x2="134.80" y2="516.8" stroke="#9a9a9a"/>
<line x1="134.80" y1="367.3" x2="134.80" y2="365.3" stroke="#9a9a9a"/>
<text transform="translate(135.40,526.2) scale(0.86,1)" font-size="9" text-anchor="middle" fill="#333">0</text>
<line x1="155.70" y1="514.8" x2="155.70" y2="516.8" stroke="#9a9a9a"/>
<line x1="155.70" y1="367.3" x2="155.70" y2="365.3" stroke="#9a9a9a"/>
<text transform="translate(156.30,526.2) scale(0.86,1)" font-size="9" text-anchor="middle" fill="#333">2</text>
<line x1="176.60" y1="514.8" x2="176.60" y2="516.8" stroke="#9a9a9a"/>
<line x1="176.60" y1="367.3" x2="176.60" y2="365.3" stroke="#9a9a9a"/>
<text transform="translate(177.20,526.2) scale(0.86,1)" font-size="9" text-anchor="middle" fill="#333">4</text>
<line x1="197.50" y1="514.8" x2="197.50" y2="516.8" stroke="#9a9a9a"/>
<line x1="197.50" y1="367.3" x2="197.50" y2="365.3" stroke="#9a9a9a"/>
<text transform="translate(198.10,526.2) scale(0.86,1)" font-size="9" text-anchor="middle" fill="#333">6</text>
<line x1="218.40" y1="514.8" x2="218.40" y2="516.8" stroke="#9a9a9a"/>
<line x1="218.40" y1="367.3" x2="218.40" y2="365.3" stroke="#9a9a9a"/>
<text transform="translate(219.00,526.2) scale(0.86,1)" font-size="9" text-anchor="middle" fill="#333">8</text>
<line x1="239.30" y1="514.8" x2="239.30" y2="516.8" stroke="#9a9a9a"/>
<line x1="239.30" y1="367.3" x2="239.30" y2="365.3" stroke="#9a9a9a"/>
<text transform="translate(239.90,526.2) scale(0.86,1)" font-size="9" text-anchor="middle" fill="#333">10</text>
<line x1="30.5" y1="514.80" x2="28.5" y2="514.80" stroke="#9a9a9a"/>
<line x1="239.5" y1="514.80" x2="241.5" y2="514.80" stroke="#9a9a9a"/>
<text x="26" y="518.0" font-size="9" font-weight="normal" text-anchor="end" fill="#333" >0</text>
<line x1="30.5" y1="492.05" x2="28.5" y2="492.05" stroke="#9a9a9a"/>
<line x1="239.5" y1="492.05" x2="241.5" y2="492.05" stroke="#9a9a9a"/>
<text x="26" y="495.25" font-size="9" font-weight="normal" text-anchor="end" fill="#333" >1</text>
<line x1="30.5" y1="469.30" x2="28.5" y2="469.30" stroke="#9a9a9a"/>
<line x1="239.5" y1="469.30" x2="241.5" y2="469.30" stroke="#9a9a9a"/>
<text x="26" y="472.5" font-size="9" font-weight="normal" text-anchor="end" fill="#333" >2</text>
<line x1="30.5" y1="446.55" x2="28.5" y2="446.55" stroke="#9a9a9a"/>
<line x1="239.5" y1="446.55" x2="241.5" y2="446.55" stroke="#9a9a9a"/>
<text x="26" y="449.75" font-size="9" font-weight="normal" text-anchor="end" fill="#333" >3</text>
<line x1="30.5" y1="423.80" x2="28.5" y2="423.80" stroke="#9a9a9a"/>
<line x1="239.5" y1="423.80" x2="241.5" y2="423.80" stroke="#9a9a9a"/>
<text x="26" y="427.0" font-size="9" font-weight="normal" text-anchor="end" fill="#333" >4</text>
<line x1="30.5" y1="401.05" x2="28.5" y2="401.05" stroke="#9a9a9a"/>
<line x1="239.5" y1="401.05" x2="241.5" y2="401.05" stroke="#9a9a9a"/>
<text x="26" y="404.25" font-size="9" font-weight="normal" text-anchor="end" fill="#333" >5</text>
<line x1="30.5" y1="378.30" x2="28.5" y2="378.30" stroke="#9a9a9a"/>
<line x1="239.5" y1="378.30" x2="241.5" y2="378.30" stroke="#9a9a9a"/>
<text x="26" y="381.5" font-size="9" font-weight="normal" text-anchor="end" fill="#333" >6</text>
<text x="33" y="365.5" font-size="8" font-weight="normal" text-anchor="start" fill="#555" >&#215;10</text>
<text x="47.5" y="361" font-size="5.5" font-weight="normal" text-anchor="start" fill="#555" >6</text>
<text x="135.5" y="363" font-size="10.5" font-weight="normal" text-anchor="middle" fill="#111" >Difference models</text>
<text x="136.9" y="542.4" font-size="10.9" font-weight="normal" text-anchor="middle" fill="#111" textLength="71.5" lengthAdjust="spacingAndGlyphs">Differences [m]</text>
<text transform="translate(16.6,441) rotate(-90)" font-size="10.6" text-anchor="middle" fill="#000">Count</text>
<line x1="134.8" y1="514.8" x2="134.8" y2="401" stroke="#8a8a8a" stroke-width="1.2" stroke-dasharray="3,2"/>
<path d="M30.30,510.33 L31.61,510.19 L32.91,510.05 L34.22,509.91 L35.53,509.77 L36.83,509.63 L38.14,509.49 L39.44,509.34 L40.75,509.20 L42.06,509.05 L43.36,508.90 L44.67,508.75 L45.98,508.59 L47.28,508.44 L48.59,508.28 L49.89,508.12 L51.20,507.95 L52.51,507.78 L53.81,507.60 L55.12,507.42 L56.43,507.22 L57.73,507.02 L59.04,506.80 L60.34,506.57 L61.65,506.32 L62.96,506.05 L64.26,505.76 L65.57,505.44 L66.88,505.09 L68.18,504.70 L69.49,504.28 L70.79,503.82 L72.10,503.31 L73.41,502.74 L74.71,502.11 L76.02,501.42 L77.33,500.66 L78.63,499.82 L79.94,498.90 L81.24,497.89 L82.55,496.78 L83.86,495.56 L85.16,494.24 L86.47,492.79 L87.78,491.22 L89.08,489.52 L90.39,487.67 L91.69,485.68 L93.00,483.54 L94.31,481.23 L95.61,478.76 L96.92,476.11 L98.23,473.29 L99.53,470.28 L100.84,467.09 L102.14,463.71 L103.45,460.15 L104.76,456.39 L106.06,452.46 L107.37,448.36 L108.68,444.09 L109.98,439.67 L111.29,435.12 L112.59,430.46 L113.90,425.72 L115.21,420.93 L116.51,416.13 L117.82,411.36 L119.13,406.65 L120.43,402.07 L121.74,397.65 L123.04,393.46 L124.35,389.55 L125.66,385.97 L126.96,382.77 L128.27,380.02 L129.58,377.75 L130.88,376.01 L132.19,374.83 L133.49,374.25 L134.80,374.29 L136.11,374.95 L137.41,376.24 L138.72,378.16 L140.03,380.68 L141.33,383.78 L142.64,387.43 L143.94,391.57 L145.25,396.17 L146.56,401.16 L147.86,406.49 L149.17,412.08 L150.48,417.86 L151.78,423.79 L153.09,429.77 L154.39,435.77 L155.70,441.71 L157.01,447.53 L158.31,453.20 L159.62,458.67 L160.93,463.90 L162.23,468.86 L163.54,473.53 L164.84,477.89 L166.15,481.93 L167.46,485.66 L168.76,489.07 L170.07,492.16 L171.38,494.96 L172.68,497.46 L173.99,499.69 L175.29,501.67 L176.60,503.41 L177.91,504.93 L179.21,506.25 L180.52,507.40 L181.83,508.39 L183.13,509.24 L184.44,509.97 L185.74,510.59 L187.05,511.11 L188.36,511.56 L189.66,511.94 L190.97,512.26 L192.28,512.53 L193.58,512.76 L194.89,512.96 L196.19,513.12 L197.50,513.27 L198.81,513.39 L200.11,513.50 L201.42,513.60 L202.73,513.68 L204.03,513.76 L205.34,513.82 L206.64,513.89 L207.95,513.94 L209.26,513.99 L210.56,514.04 L211.87,514.09 L213.18,514.13 L214.48,514.17 L215.79,514.21 L217.09,514.24 L218.40,514.27 L219.71,514.30 L221.01,514.33 L222.32,514.36 L223.62,514.39 L224.93,514.41 L226.24,514.44 L227.54,514.46 L228.85,514.48 L230.16,514.50 L231.46,514.52 L232.77,514.54 L234.07,514.56 L235.38,514.57 L236.69,514.59 L237.99,514.60 L239.30,514.61" fill="none" stroke="#edb120" stroke-width="1.6"/>
<path d="M30.30,510.68 L31.61,510.51 L32.91,510.33 L34.22,510.14 L35.53,509.96 L36.83,509.77 L38.14,509.57 L39.44,509.37 L40.75,509.17 L42.06,508.97 L43.36,508.76 L44.67,508.54 L45.98,508.33 L47.28,508.11 L48.59,507.89 L49.89,507.67 L51.20,507.45 L52.51,507.22 L53.81,506.99 L55.12,506.76 L56.43,506.53 L57.73,506.30 L59.04,506.06 L60.34,505.82 L61.65,505.58 L62.96,505.34 L64.26,505.09 L65.57,504.84 L66.88,504.58 L68.18,504.31 L69.49,504.02 L70.79,503.72 L72.10,503.40 L73.41,503.05 L74.71,502.66 L76.02,502.23 L77.33,501.75 L78.63,501.20 L79.94,500.58 L81.24,499.87 L82.55,499.06 L83.86,498.14 L85.16,497.09 L86.47,495.90 L87.78,494.56 L89.08,493.05 L90.39,491.38 L91.69,489.55 L93.00,487.54 L94.31,485.36 L95.61,483.04 L96.92,480.57 L98.23,477.98 L99.53,475.29 L100.84,472.53 L102.14,469.73 L103.45,466.91 L104.76,464.11 L106.06,461.36 L107.37,458.67 L108.68,456.07 L109.98,453.56 L111.29,451.16 L112.59,448.84 L113.90,446.62 L115.21,444.44 L116.51,442.30 L117.82,440.15 L119.13,437.96 L120.43,435.67 L121.74,433.25 L123.04,430.67 L124.35,427.88 L125.66,424.87 L126.96,421.63 L128.27,418.16 L129.58,414.48 L130.88,410.62 L132.19,406.63 L133.49,402.57 L134.80,398.52 L136.11,394.57 L137.41,390.80 L138.72,387.32 L140.03,384.22 L141.33,381.60 L142.64,379.53 L143.94,378.11 L145.25,377.38 L146.56,377.41 L147.86,378.21 L149.17,379.80 L150.48,382.17 L151.78,385.29 L153.09,389.13 L154.39,393.61 L155.70,398.67 L157.01,404.22 L158.31,410.17 L159.62,416.43 L160.93,422.89 L162.23,429.46 L163.54,436.06 L164.84,442.58 L166.15,448.96 L167.46,455.12 L168.76,461.01 L170.07,466.59 L171.38,471.81 L172.68,476.65 L173.99,481.10 L175.29,485.16 L176.60,488.83 L177.91,492.11 L179.21,495.03 L180.52,497.61 L181.83,499.87 L183.13,501.83 L184.44,503.53 L185.74,504.99 L187.05,506.24 L188.36,507.31 L189.66,508.21 L190.97,508.98 L192.28,509.63 L193.58,510.17 L194.89,510.64 L196.19,511.03 L197.50,511.36 L198.81,511.65 L200.11,511.90 L201.42,512.11 L202.73,512.30 L204.03,512.47 L205.34,512.62 L206.64,512.76 L207.95,512.88 L209.26,512.99 L210.56,513.10 L211.87,513.20 L213.18,513.29 L214.48,513.38 L215.79,513.46 L217.09,513.54 L218.40,513.61 L219.71,513.68 L221.01,513.75 L222.32,513.81 L223.62,513.87 L224.93,513.92 L226.24,513.98 L227.54,514.03 L228.85,514.08 L230.16,514.12 L231.46,514.17 L232.77,514.21 L234.07,514.24 L235.38,514.28 L236.69,514.32 L237.99,514.35 L239.30,514.38" fill="none" stroke="#ff1a1a" stroke-width="1.6"/>
<path d="M30.30,510.54 L31.61,510.38 L32.91,510.21 L34.22,510.04 L35.53,509.87 L36.83,509.69 L38.14,509.51 L39.44,509.33 L40.75,509.15 L42.06,508.96 L43.36,508.78 L44.67,508.59 L45.98,508.40 L47.28,508.20 L48.59,508.01 L49.89,507.81 L51.20,507.62 L52.51,507.42 L53.81,507.21 L55.12,507.01 L56.43,506.80 L57.73,506.59 L59.04,506.37 L60.34,506.15 L61.65,505.92 L62.96,505.68 L64.26,505.43 L65.57,505.17 L66.88,504.89 L68.18,504.59 L69.49,504.27 L70.79,503.92 L72.10,503.54 L73.41,503.11 L74.71,502.64 L76.02,502.12 L77.33,501.55 L78.63,500.90 L79.94,500.18 L81.24,499.37 L82.55,498.47 L83.86,497.47 L85.16,496.35 L86.47,495.12 L87.78,493.76 L89.08,492.27 L90.39,490.63 L91.69,488.85 L93.00,486.91 L94.31,484.83 L95.61,482.59 L96.92,480.20 L98.23,477.67 L99.53,474.99 L100.84,472.18 L102.14,469.25 L103.45,466.20 L104.76,463.04 L106.06,459.80 L107.37,456.47 L108.68,453.08 L109.98,449.62 L111.29,446.12 L112.59,442.57 L113.90,438.99 L115.21,435.37 L116.51,431.71 L117.82,428.02 L119.13,424.29 L120.43,420.53 L121.74,416.73 L123.04,412.89 L124.35,409.03 L125.66,405.16 L126.96,401.30 L128.27,397.47 L129.58,393.72 L130.88,390.09 L132.19,386.63 L133.49,383.42 L134.80,380.51 L136.11,378.00 L137.41,375.94 L138.72,374.43 L140.03,373.53 L141.33,373.31 L142.64,373.81 L143.94,375.07 L145.25,377.13 L146.56,379.97 L147.86,383.58 L149.17,387.93 L150.48,392.95 L151.78,398.58 L153.09,404.73 L154.39,411.29 L155.70,418.17 L157.01,425.24 L158.31,432.40 L159.62,439.54 L160.93,446.57 L162.23,453.38 L163.54,459.91 L164.84,466.08 L166.15,471.85 L167.46,477.19 L168.76,482.06 L170.07,486.47 L171.38,490.41 L172.68,493.91 L173.99,496.97 L175.29,499.63 L176.60,501.93 L177.91,503.89 L179.21,505.54 L180.52,506.94 L181.83,508.10 L183.13,509.07 L184.44,509.87 L185.74,510.53 L187.05,511.07 L188.36,511.52 L189.66,511.88 L190.97,512.18 L192.28,512.44 L193.58,512.65 L194.89,512.83 L196.19,512.98 L197.50,513.11 L198.81,513.23 L200.11,513.33 L201.42,513.43 L202.73,513.51 L204.03,513.59 L205.34,513.67 L206.64,513.73 L207.95,513.80 L209.26,513.86 L210.56,513.91 L211.87,513.97 L213.18,514.02 L214.48,514.07 L215.79,514.11 L217.09,514.15 L218.40,514.20 L219.71,514.23 L221.01,514.27 L222.32,514.30 L223.62,514.34 L224.93,514.37 L226.24,514.40 L227.54,514.42 L228.85,514.45 L230.16,514.47 L231.46,514.50 L232.77,514.52 L234.07,514.54 L235.38,514.56 L236.69,514.57 L237.99,514.59 L239.30,514.61" fill="none" stroke="#1a1aff" stroke-width="1.6"/>
<path d="M30.30,511.20 L31.61,511.01 L32.91,510.81 L34.22,510.62 L35.53,510.42 L36.83,510.22 L38.14,510.01 L39.44,509.81 L40.75,509.60 L42.06,509.40 L43.36,509.19 L44.67,508.98 L45.98,508.78 L47.28,508.57 L48.59,508.37 L49.89,508.16 L51.20,507.96 L52.51,507.76 L53.81,507.56 L55.12,507.36 L56.43,507.16 L57.73,506.96 L59.04,506.75 L60.34,506.55 L61.65,506.33 L62.96,506.11 L64.26,505.88 L65.57,505.64 L66.88,505.38 L68.18,505.10 L69.49,504.80 L70.79,504.47 L72.10,504.11 L73.41,503.71 L74.71,503.27 L76.02,502.78 L77.33,502.24 L78.63,501.64 L79.94,500.97 L81.24,500.23 L82.55,499.42 L83.86,498.52 L85.16,497.54 L86.47,496.46 L87.78,495.29 L89.08,494.01 L90.39,492.63 L91.69,491.14 L93.00,489.54 L94.31,487.83 L95.61,485.99 L96.92,484.04 L98.23,481.97 L99.53,479.76 L100.84,477.43 L102.14,474.97 L103.45,472.37 L104.76,469.63 L106.06,466.74 L107.37,463.70 L108.68,460.50 L109.98,457.14 L111.29,453.61 L112.59,449.91 L113.90,446.04 L115.21,441.99 L116.51,437.77 L117.82,433.39 L119.13,428.86 L120.43,424.20 L121.74,419.43 L123.04,414.58 L124.35,409.69 L125.66,404.81 L126.96,399.98 L128.27,395.26 L129.58,390.71 L130.88,386.41 L132.19,382.41 L133.49,378.80 L134.80,375.63 L136.11,372.97 L137.41,370.90 L138.72,369.45 L140.03,368.68 L141.33,368.62 L142.64,369.29 L143.94,370.71 L145.25,372.87 L146.56,375.76 L147.86,379.33 L149.17,383.56 L150.48,388.37 L151.78,393.71 L153.09,399.51 L154.39,405.68 L155.70,412.13 L157.01,418.78 L158.31,425.55 L159.62,432.34 L160.93,439.09 L162.23,445.72 L163.54,452.15 L164.84,458.34 L166.15,464.24 L167.46,469.81 L168.76,475.02 L170.07,479.84 L171.38,484.28 L172.68,488.32 L173.99,491.97 L175.29,495.25 L176.60,498.16 L177.91,500.73 L179.21,502.97 L180.52,504.93 L181.83,506.61 L183.13,508.05 L184.44,509.27 L185.74,510.30 L187.05,511.16 L188.36,511.88 L189.66,512.47 L190.97,512.95 L192.28,513.34 L193.58,513.66 L194.89,513.91 L196.19,514.11 L197.50,514.27 L198.81,514.40 L200.11,514.49 L201.42,514.57 L202.73,514.63 L204.03,514.67 L205.34,514.70 L206.64,514.73 L207.95,514.75 L209.26,514.76 L210.56,514.77 L211.87,514.78 L213.18,514.79 L214.48,514.79 L215.79,514.79 L217.09,514.79 L218.40,514.80 L219.71,514.80 L221.01,514.80 L222.32,514.80 L223.62,514.80 L224.93,514.80 L226.24,514.80 L227.54,514.80 L228.85,514.80 L230.16,514.80 L231.46,514.80 L232.77,514.80 L234.07,514.80 L235.38,514.80 L236.69,514.80 L237.99,514.80 L239.30,514.80" fill="none" stroke="#22ee22" stroke-width="1.6"/>
<line x1="206" y1="374.8" x2="218.6" y2="374.8" stroke="#1a1aff" stroke-width="1.6"/>
<text x="220" y="377.9" font-size="7" font-weight="normal" text-anchor="start" fill="#333" >FB</text>
<line x1="206" y1="383.9" x2="218.6" y2="383.9" stroke="#edb120" stroke-width="1.6"/>
<text x="220" y="387.0" font-size="7" font-weight="normal" text-anchor="start" fill="#333" >FN</text>
<line x1="206" y1="393.0" x2="218.6" y2="393.0" stroke="#ff1a1a" stroke-width="1.6"/>
<text x="220" y="396.1" font-size="7" font-weight="normal" text-anchor="start" fill="#333" >NB</text>
<line x1="206" y1="402.0" x2="218.6" y2="402.0" stroke="#22ee22" stroke-width="1.6"/>
<text x="220" y="405.1" font-size="7" font-weight="normal" text-anchor="start" fill="#333" >Lidar</text>
<text x="255" y="357.4" font-size="13.8" font-weight="bold" text-anchor="start" fill="#000" textLength="16.8" lengthAdjust="spacingAndGlyphs">(c)</text>
<line x1="287.5" y1="366.00" x2="488.6" y2="366.00" stroke="#e6e6e6" stroke-width="1"/>
<text transform="translate(282.8,369.00) scale(0.86,1)" font-size="8.6" text-anchor="end" fill="#404040">3</text>
<line x1="287.5" y1="381.00" x2="488.6" y2="381.00" stroke="#e6e6e6" stroke-width="1"/>
<text transform="translate(282.8,384.00) scale(0.86,1)" font-size="8.6" text-anchor="end" fill="#404040">2.5</text>
<line x1="287.5" y1="396.00" x2="488.6" y2="396.00" stroke="#e6e6e6" stroke-width="1"/>
<text transform="translate(282.8,399.00) scale(0.86,1)" font-size="8.6" text-anchor="end" fill="#404040">2</text>
<line x1="287.5" y1="411.00" x2="488.6" y2="411.00" stroke="#e6e6e6" stroke-width="1"/>
<text transform="translate(282.8,414.00) scale(0.86,1)" font-size="8.6" text-anchor="end" fill="#404040">1.5</text>
<line x1="287.5" y1="426.00" x2="488.6" y2="426.00" stroke="#e6e6e6" stroke-width="1"/>
<text transform="translate(282.8,429.00) scale(0.86,1)" font-size="8.6" text-anchor="end" fill="#404040">1</text>
<line x1="287.5" y1="441.00" x2="488.6" y2="441.00" stroke="#e6e6e6" stroke-width="1"/>
<text transform="translate(282.8,444.00) scale(0.86,1)" font-size="8.6" text-anchor="end" fill="#404040">0.5</text>
<line x1="287.5" y1="456.00" x2="488.6" y2="456.00" stroke="#e6e6e6" stroke-width="1"/>
<text transform="translate(282.8,459.00) scale(0.86,1)" font-size="8.6" text-anchor="end" fill="#404040">0</text>
<line x1="287.5" y1="471.00" x2="488.6" y2="471.00" stroke="#e6e6e6" stroke-width="1"/>
<text transform="translate(282.8,474.00) scale(0.86,1)" font-size="8.6" text-anchor="end" fill="#404040">&#8722;0.5</text>
<line x1="287.5" y1="486.00" x2="488.6" y2="486.00" stroke="#e6e6e6" stroke-width="1"/>
<text transform="translate(282.8,489.00) scale(0.86,1)" font-size="8.6" text-anchor="end" fill="#404040">&#8722;1</text>
<line x1="287.5" y1="501.00" x2="488.6" y2="501.00" stroke="#e6e6e6" stroke-width="1"/>
<text transform="translate(282.8,504.00) scale(0.86,1)" font-size="8.6" text-anchor="end" fill="#404040">&#8722;1.5</text>
<line x1="287.5" y1="516.00" x2="488.6" y2="516.00" stroke="#e6e6e6" stroke-width="1"/>
<text transform="translate(282.8,519.00) scale(0.86,1)" font-size="8.6" text-anchor="end" fill="#404040">&#8722;2</text>
<line x1="287.5" y1="366" x2="287.5" y2="516" stroke="#e6e6e6" stroke-width="1"/>
<text x="286.5" y="528" font-size="8.6" font-weight="normal" text-anchor="middle" fill="#404040" textLength="29.6" lengthAdjust="spacingAndGlyphs">5&#8201;380&#8201;000</text>
<line x1="332" y1="366" x2="332" y2="516" stroke="#e6e6e6" stroke-width="1"/>
<text x="331" y="528" font-size="8.6" font-weight="normal" text-anchor="middle" fill="#404040" textLength="29.6" lengthAdjust="spacingAndGlyphs">5&#8201;384&#8201;000</text>
<line x1="376.5" y1="366" x2="376.5" y2="516" stroke="#e6e6e6" stroke-width="1"/>
<text x="375.5" y="528" font-size="8.6" font-weight="normal" text-anchor="middle" fill="#404040" textLength="29.6" lengthAdjust="spacingAndGlyphs">5&#8201;388&#8201;000</text>
<line x1="421" y1="366" x2="421" y2="516" stroke="#e6e6e6" stroke-width="1"/>
<text x="420" y="528" font-size="8.6" font-weight="normal" text-anchor="middle" fill="#404040" textLength="29.6" lengthAdjust="spacingAndGlyphs">5&#8201;392&#8201;000</text>
<line x1="465.5" y1="366" x2="465.5" y2="516" stroke="#e6e6e6" stroke-width="1"/>
<text x="464.5" y="528" font-size="8.6" font-weight="normal" text-anchor="middle" fill="#404040" textLength="29.6" lengthAdjust="spacingAndGlyphs">5&#8201;396&#8201;000</text>
<line x1="488.6" y1="366" x2="488.6" y2="516" stroke="#e6e6e6"/>
<text x="395.3" y="360" font-size="10.5" font-weight="normal" text-anchor="middle" fill="#111" >Along-track direction</text>
<text transform="translate(265,439) rotate(-90)" font-size="10.6" text-anchor="middle" fill="#111">Height differences [m]</text>
<path d="M291.50,448.70 C292.18,448.38 293.68,446.80 295.60,446.80 C297.52,446.80 300.82,450.83 303.00,448.70 C305.18,446.57 306.67,437.32 308.70,434.00 C310.73,430.68 313.23,429.20 315.20,428.80 C317.17,428.40 318.45,430.73 320.50,431.60 C322.55,432.47 325.25,434.08 327.50,434.00 C329.75,433.92 331.82,431.43 334.00,431.10 C336.18,430.77 338.77,431.52 340.60,432.00 C342.43,432.48 342.92,432.85 345.00,434.00 C347.08,435.15 350.67,439.45 353.10,438.90 C355.53,438.35 357.42,433.42 359.60,430.70 C361.78,427.98 364.02,424.50 366.20,422.60 C368.38,420.70 370.80,419.03 372.70,419.30 C374.60,419.57 375.97,421.20 377.60,424.20 C379.23,427.20 380.73,432.40 382.50,437.30 C384.27,442.20 386.57,449.78 388.20,453.60 C389.83,457.42 390.78,459.95 392.30,460.20 C393.82,460.45 395.38,457.40 397.30,455.10 C399.22,452.80 401.62,449.67 403.80,446.40 C405.98,443.13 408.40,439.68 410.40,435.50 C412.40,431.32 414.17,425.85 415.80,421.30 C417.43,416.75 418.72,410.50 420.20,408.20 C421.68,405.90 423.15,407.57 424.70,407.50 C426.25,407.43 427.92,406.95 429.50,407.80 C431.08,408.65 432.63,410.43 434.20,412.60 C435.77,414.77 437.33,416.08 438.90,420.80 C440.47,425.52 442.02,433.22 443.60,440.90 C445.18,448.58 446.82,459.02 448.40,466.90 C449.98,474.78 451.53,485.63 453.10,488.20 C454.67,490.77 456.22,485.05 457.80,482.30 C459.38,479.55 461.02,474.27 462.60,471.70 C464.18,469.13 465.53,467.70 467.30,466.90 C469.07,466.10 471.23,466.50 473.20,466.90 C475.17,467.30 477.33,468.50 479.10,469.30 C480.87,470.10 482.30,470.13 483.80,471.70 C485.30,473.27 487.38,477.53 488.10,478.70" fill="none" stroke="#ffc000" stroke-width="1.7" stroke-linejoin="round"/>
<path d="M291.50,463.50 C292.32,462.68 294.48,459.97 296.40,458.60 C298.32,457.23 300.82,457.77 303.00,455.30 C305.18,452.83 307.60,445.98 309.50,443.80 C311.40,441.62 312.63,441.65 314.40,442.20 C316.17,442.75 317.92,445.47 320.10,447.10 C322.28,448.73 325.18,451.45 327.50,452.00 C329.82,452.55 331.95,450.95 334.00,450.40 C336.05,449.85 338.12,449.38 339.80,448.70 C341.48,448.02 342.43,446.02 344.10,446.30 C345.77,446.58 347.77,449.18 349.80,450.40 C351.83,451.62 354.12,454.42 356.30,453.60 C358.48,452.78 360.58,447.82 362.90,445.50 C365.22,443.18 368.17,440.25 370.20,439.70 C372.23,439.15 373.32,439.88 375.10,442.20 C376.88,444.52 379.38,449.63 380.90,453.60 C382.42,457.57 382.93,462.83 384.20,466.00 C385.47,469.17 387.05,471.87 388.50,472.60 C389.95,473.33 391.25,472.58 392.90,470.40 C394.55,468.22 396.40,463.13 398.40,459.50 C400.40,455.87 402.72,452.60 404.90,448.60 C407.08,444.60 409.50,439.33 411.50,435.50 C413.50,431.67 415.27,428.33 416.90,425.60 C418.53,422.87 419.85,419.63 421.30,419.10 C422.75,418.57 424.23,421.52 425.60,422.40 C426.97,423.28 428.07,423.08 429.50,424.40 C430.93,425.72 432.63,428.73 434.20,430.30 C435.77,431.87 437.33,431.63 438.90,433.80 C440.47,435.97 442.02,438.57 443.60,443.30 C445.18,448.03 446.82,457.08 448.40,462.20 C449.98,467.32 451.53,472.82 453.10,474.00 C454.67,475.18 456.22,471.27 457.80,469.30 C459.38,467.33 461.22,464.17 462.60,462.20 C463.98,460.23 464.93,457.70 466.10,457.50 C467.27,457.30 468.22,459.03 469.60,461.00 C470.98,462.97 472.62,466.93 474.40,469.30 C476.18,471.67 478.53,473.43 480.30,475.20 C482.07,476.97 483.70,478.13 485.00,479.90 C486.30,481.67 487.58,484.82 488.10,485.80" fill="none" stroke="#c00000" stroke-width="1.7" stroke-linejoin="round"/>
<path d="M291.50,448.70 C292.18,448.43 293.68,446.95 295.60,447.10 C297.52,447.25 300.82,451.78 303.00,449.60 C305.18,447.42 306.80,437.63 308.70,434.00 C310.60,430.37 312.63,428.20 314.40,427.80 C316.17,427.40 317.12,429.70 319.30,431.60 C321.48,433.50 325.05,438.53 327.50,439.20 C329.95,439.87 331.82,437.15 334.00,435.60 C336.18,434.05 338.77,431.03 340.60,429.90 C342.43,428.77 343.05,428.33 345.00,428.80 C346.95,429.27 350.13,432.92 352.30,432.70 C354.47,432.48 355.97,429.73 358.00,427.50 C360.03,425.27 362.47,421.00 364.50,419.30 C366.53,417.60 368.43,417.17 370.20,417.30 C371.97,417.43 373.50,418.17 375.10,420.10 C376.70,422.03 378.10,424.52 379.80,428.90 C381.50,433.28 383.85,442.03 385.30,446.40 C386.75,450.77 387.42,453.00 388.50,455.10 C389.58,457.20 390.52,459.18 391.80,459.00 C393.08,458.82 394.38,456.10 396.20,454.00 C398.02,451.90 400.52,449.48 402.70,446.40 C404.88,443.32 407.30,440.23 409.30,435.50 C411.30,430.77 412.88,423.65 414.70,418.00 C416.52,412.35 418.57,404.15 420.20,401.60 C421.83,399.05 422.95,402.45 424.50,402.70 C426.05,402.95 427.88,402.25 429.50,403.10 C431.12,403.95 432.63,405.43 434.20,407.80 C435.77,410.17 437.33,411.78 438.90,417.30 C440.47,422.82 442.02,433.42 443.60,440.90 C445.18,448.38 446.82,456.28 448.40,462.20 C449.98,468.12 451.53,475.22 453.10,476.40 C454.67,477.58 456.22,472.45 457.80,469.30 C459.38,466.15 460.82,461.13 462.60,457.50 C464.38,453.87 466.53,448.48 468.50,447.50 C470.47,446.52 472.43,449.93 474.40,451.60 C476.37,453.27 478.53,455.33 480.30,457.50 C482.07,459.67 483.70,462.17 485.00,464.60 C486.30,467.03 487.58,470.85 488.10,472.10" fill="none" stroke="#80d040" stroke-width="1.7" stroke-linejoin="round"/>
<path d="M291.50,432.70 C292.18,432.58 293.68,431.10 295.60,432.00 C297.52,432.90 300.68,439.68 303.00,438.10 C305.32,436.52 307.32,426.58 309.50,422.50 C311.68,418.42 314.05,415.02 316.10,413.60 C318.15,412.18 319.85,413.82 321.80,414.00 C323.75,414.18 325.62,415.32 327.80,414.70 C329.98,414.08 332.77,410.63 334.90,410.30 C337.03,409.97 338.93,411.20 340.60,412.70 C342.27,414.20 343.10,417.25 344.90,419.30 C346.70,421.35 349.22,425.28 351.40,425.00 C353.58,424.72 355.82,420.73 358.00,417.60 C360.18,414.47 362.05,409.33 364.50,406.20 C366.95,403.07 370.25,399.22 372.70,398.80 C375.15,398.38 377.10,399.42 379.20,403.70 C381.30,407.98 383.57,418.48 385.30,424.50 C387.03,430.52 388.33,436.52 389.60,439.80 C390.87,443.08 391.62,443.90 392.90,444.20 C394.18,444.50 396.03,441.85 397.30,441.60 C398.57,441.35 399.23,443.07 400.50,442.70 C401.77,442.33 403.43,440.97 404.90,439.40 C406.37,437.83 407.67,436.87 409.30,433.30 C410.93,429.73 412.88,423.47 414.70,418.00 C416.52,412.53 418.53,403.85 420.20,400.50 C421.87,397.15 423.15,399.17 424.70,397.90 C426.25,396.63 428.12,393.22 429.50,392.90 C430.88,392.58 431.83,393.90 433.00,396.00 C434.17,398.10 435.32,401.57 436.50,405.50 C437.68,409.43 438.92,413.70 440.10,419.60 C441.28,425.50 442.42,433.40 443.60,440.90 C444.78,448.40 446.02,456.32 447.20,464.60 C448.38,472.88 449.52,484.90 450.70,490.60 C451.88,496.30 453.12,498.80 454.30,498.80 C455.48,498.80 456.42,494.33 457.80,490.60 C459.18,486.87 461.02,479.75 462.60,476.40 C464.18,473.05 465.53,472.08 467.30,470.50 C469.07,468.92 471.43,468.28 473.20,466.90 C474.97,465.52 476.33,463.38 477.90,462.20 C479.47,461.02 481.22,459.80 482.60,459.80 C483.98,459.80 485.28,460.93 486.20,462.20 C487.12,463.47 487.78,466.53 488.10,467.40" fill="none" stroke="#2020e0" stroke-width="1.7" stroke-linejoin="round"/>
<line x1="266.2" y1="539" x2="273.7" y2="539" stroke="#ffc000" stroke-width="1.7"/>
<text x="275.5" y="542.2" font-size="9" font-weight="bold" text-anchor="start" fill="#111" >FB-ALOS</text>
<line x1="321.9" y1="539" x2="329.4" y2="539" stroke="#c00000" stroke-width="1.7"/>
<text x="330.6" y="542.2" font-size="9" font-weight="bold" text-anchor="start" fill="#111" >FN-ALOS</text>
<line x1="377.3" y1="539" x2="384.8" y2="539" stroke="#2020e0" stroke-width="1.7"/>
<text x="386" y="542.2" font-size="9" font-weight="bold" text-anchor="start" fill="#111" >NB-ALOS</text>
<line x1="435" y1="539" x2="442.5" y2="539" stroke="#80d040" stroke-width="1.7"/>
<text x="443.3" y="542.2" font-size="9" font-weight="bold" text-anchor="start" fill="#111" >Lidar-ALOS</text></svg></body></html>
